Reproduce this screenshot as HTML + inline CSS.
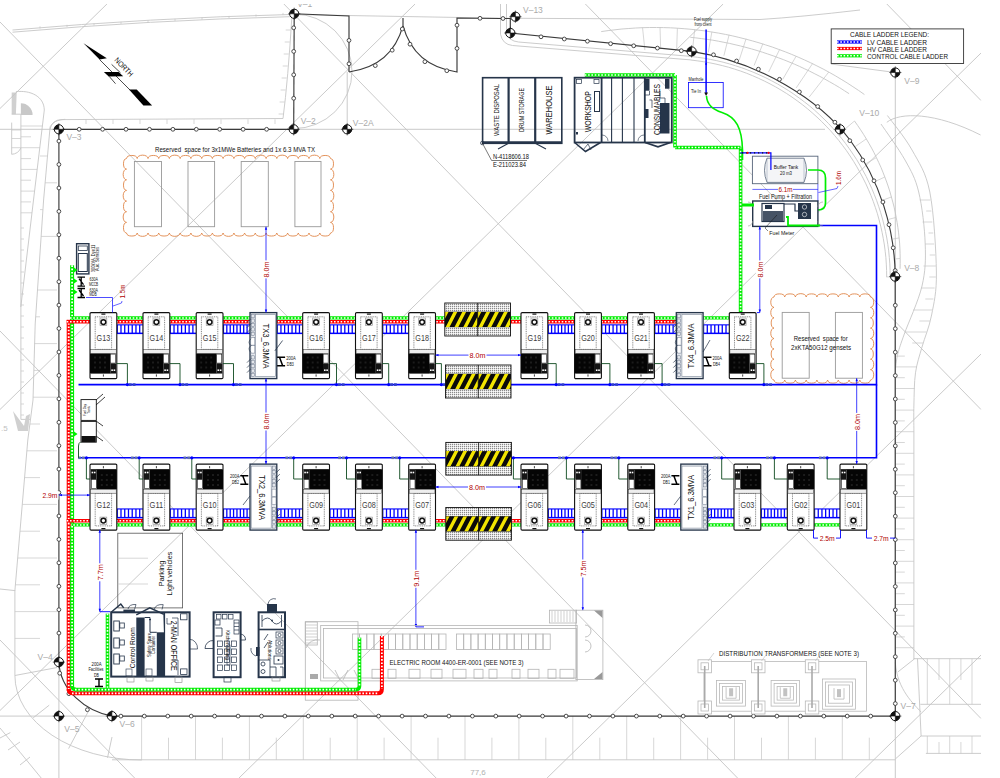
<!DOCTYPE html>
<html><head><meta charset="utf-8"><style>
html,body{margin:0;padding:0;background:#fff;width:1000px;height:778px;overflow:hidden}
svg{display:block}
text{font-family:"Liberation Sans",sans-serif}
</style></head><body>
<svg width="1000" height="778" viewBox="0 0 1000 778">
<rect width="1000" height="778" fill="#fff"/>
<path d="M12.5 30 Q150 18 290 14.5 L500 18.2 L760 19.5 Q800 17 860 10" fill="none" stroke="#c6c6c6" stroke-width="0.9"/>
<path d="M12.5 32.2 Q150 20.2 290 16.7" fill="none" stroke="#c6c6c6" stroke-width="0.9"/>
<line x1="40" y1="28.5" x2="40" y2="26.3" stroke="#c6c6c6" stroke-width="0.7"/>
<line x1="67" y1="27.0" x2="67" y2="24.8" stroke="#c6c6c6" stroke-width="0.7"/>
<line x1="94" y1="25.5" x2="94" y2="23.3" stroke="#c6c6c6" stroke-width="0.7"/>
<line x1="121" y1="24.0" x2="121" y2="21.8" stroke="#c6c6c6" stroke-width="0.7"/>
<line x1="148" y1="22.5" x2="148" y2="20.3" stroke="#c6c6c6" stroke-width="0.7"/>
<line x1="175" y1="21.1" x2="175" y2="18.9" stroke="#c6c6c6" stroke-width="0.7"/>
<line x1="202" y1="19.6" x2="202" y2="17.4" stroke="#c6c6c6" stroke-width="0.7"/>
<line x1="229" y1="18.1" x2="229" y2="15.9" stroke="#c6c6c6" stroke-width="0.7"/>
<line x1="256" y1="16.6" x2="256" y2="14.4" stroke="#c6c6c6" stroke-width="0.7"/>
<line x1="283" y1="15.1" x2="283" y2="12.9" stroke="#c6c6c6" stroke-width="0.7"/>
<path d="M50 129.3 Q52 119.6 62 119.6 L283 118.5 Q288 80 292 15" fill="none" stroke="#c6c6c6" stroke-width="0.9"/>
<line x1="86" y1="119.3" x2="86" y2="124" stroke="#c6c6c6" stroke-width="0.7"/>
<line x1="113" y1="119.3" x2="113" y2="124" stroke="#c6c6c6" stroke-width="0.7"/>
<line x1="140" y1="119.3" x2="140" y2="124" stroke="#c6c6c6" stroke-width="0.7"/>
<line x1="167" y1="119.3" x2="167" y2="124" stroke="#c6c6c6" stroke-width="0.7"/>
<line x1="194" y1="119.3" x2="194" y2="124" stroke="#c6c6c6" stroke-width="0.7"/>
<line x1="221" y1="119.3" x2="221" y2="124" stroke="#c6c6c6" stroke-width="0.7"/>
<line x1="248" y1="119.3" x2="248" y2="124" stroke="#c6c6c6" stroke-width="0.7"/>
<line x1="275" y1="119.3" x2="275" y2="124" stroke="#c6c6c6" stroke-width="0.7"/>
<line x1="290.7" y1="30" x2="285.7" y2="30" stroke="#c6c6c6" stroke-width="0.7"/>
<line x1="289.7" y1="42" x2="284.7" y2="42" stroke="#c6c6c6" stroke-width="0.7"/>
<line x1="288.7" y1="54" x2="283.7" y2="54" stroke="#c6c6c6" stroke-width="0.7"/>
<line x1="287.7" y1="66" x2="282.7" y2="66" stroke="#c6c6c6" stroke-width="0.7"/>
<line x1="286.6" y1="78" x2="281.6" y2="78" stroke="#c6c6c6" stroke-width="0.7"/>
<line x1="285.6" y1="90" x2="280.6" y2="90" stroke="#c6c6c6" stroke-width="0.7"/>
<line x1="284.6" y1="102" x2="279.6" y2="102" stroke="#c6c6c6" stroke-width="0.7"/>
<line x1="283.6" y1="114" x2="278.6" y2="114" stroke="#c6c6c6" stroke-width="0.7"/>
<path d="M293.7 14 A58 57 0 0 1 293.7 128.6" fill="none" stroke="#c6c6c6" stroke-width="0.9"/>
<path d="M11.7 114.2 L11.7 92.5 L16.7 92.5 L15.9 114.2 Z" fill="#d0d0d0" stroke="none"/>
<path d="M15.9 91.7 C30 90 44 96 44.3 110 L33.5 200 L20.8 307" fill="none" stroke="#c6c6c6" stroke-width="0.9"/>
<path d="M11.7 114.2 L20.9 114.2 L20.9 419.4 L30 419.4" fill="none" stroke="#c6c6c6" stroke-width="0.9"/>
<path d="M20.9 115 L32.6 115 A11.7 11.7 0 0 0 20.9 103.3 Z" fill="#c8c8c8" stroke="none"/>
<path d="M11.7 122.6 L11.7 154.3 Q18 154 20.9 148" fill="none" stroke="#c6c6c6" stroke-width="0.9"/>
<line x1="11.7" y1="130" x2="20.9" y2="130" stroke="#c6c6c6" stroke-width="0.7"/>
<line x1="11.7" y1="138.5" x2="20.9" y2="138.5" stroke="#c6c6c6" stroke-width="0.7"/>
<line x1="11.7" y1="147.7" x2="20.9" y2="147.7" stroke="#c6c6c6" stroke-width="0.7"/>
<line x1="20.9" y1="126.0" x2="42.4" y2="126.0" stroke="#c6c6c6" stroke-width="0.7"/>
<line x1="20.9" y1="136.8" x2="31.0" y2="136.8" stroke="#c6c6c6" stroke-width="0.7"/>
<line x1="20.9" y1="147.7" x2="39.8" y2="147.7" stroke="#c6c6c6" stroke-width="0.7"/>
<line x1="20.9" y1="158.6" x2="31.0" y2="158.6" stroke="#c6c6c6" stroke-width="0.7"/>
<line x1="20.9" y1="169.4" x2="37.2" y2="169.4" stroke="#c6c6c6" stroke-width="0.7"/>
<line x1="20.9" y1="180.2" x2="31.0" y2="180.2" stroke="#c6c6c6" stroke-width="0.7"/>
<line x1="20.9" y1="191.1" x2="34.6" y2="191.1" stroke="#c6c6c6" stroke-width="0.7"/>
<line x1="20.9" y1="201.9" x2="31.0" y2="201.9" stroke="#c6c6c6" stroke-width="0.7"/>
<line x1="20.9" y1="212.8" x2="32.0" y2="212.8" stroke="#c6c6c6" stroke-width="0.7"/>
<line x1="20.9" y1="228" x2="24" y2="228" stroke="#c6c6c6" stroke-width="0.7"/>
<line x1="20.9" y1="239" x2="24" y2="239" stroke="#c6c6c6" stroke-width="0.7"/>
<line x1="20.9" y1="250" x2="24" y2="250" stroke="#c6c6c6" stroke-width="0.7"/>
<line x1="20.9" y1="261" x2="24" y2="261" stroke="#c6c6c6" stroke-width="0.7"/>
<line x1="20.9" y1="272" x2="24" y2="272" stroke="#c6c6c6" stroke-width="0.7"/>
<line x1="20.9" y1="283" x2="24" y2="283" stroke="#c6c6c6" stroke-width="0.7"/>
<line x1="20.9" y1="294" x2="24" y2="294" stroke="#c6c6c6" stroke-width="0.7"/>
<line x1="20.9" y1="305" x2="24" y2="305" stroke="#c6c6c6" stroke-width="0.7"/>
<line x1="20.9" y1="316" x2="24" y2="316" stroke="#c6c6c6" stroke-width="0.7"/>
<line x1="20.9" y1="327" x2="24" y2="327" stroke="#c6c6c6" stroke-width="0.7"/>
<line x1="20.9" y1="338" x2="24" y2="338" stroke="#c6c6c6" stroke-width="0.7"/>
<line x1="20.9" y1="349" x2="24" y2="349" stroke="#c6c6c6" stroke-width="0.7"/>
<line x1="20.9" y1="360" x2="24" y2="360" stroke="#c6c6c6" stroke-width="0.7"/>
<line x1="20.9" y1="371" x2="24" y2="371" stroke="#c6c6c6" stroke-width="0.7"/>
<line x1="20.9" y1="382" x2="24" y2="382" stroke="#c6c6c6" stroke-width="0.7"/>
<line x1="20.9" y1="393" x2="24" y2="393" stroke="#c6c6c6" stroke-width="0.7"/>
<line x1="20.9" y1="404" x2="24" y2="404" stroke="#c6c6c6" stroke-width="0.7"/>
<line x1="20.9" y1="415" x2="24" y2="415" stroke="#c6c6c6" stroke-width="0.7"/>
<path d="M50.1 126.8 Q54 119.6 65.2 119.3" fill="none" stroke="#c6c6c6" stroke-width="0.9"/>
<path d="M50.1 126.8 L43.6 200 L35.2 324 L33 400 L27.8 440 L14.9 590.6 L0 589" fill="none" stroke="#c6c6c6" stroke-width="0.9"/>
<line x1="47.5" y1="156.0" x2="40.0" y2="156.0" stroke="#c6c6c6" stroke-width="0.7"/>
<line x1="45.1" y1="182.8" x2="57.0" y2="182.8" stroke="#c6c6c6" stroke-width="0.7"/>
<line x1="42.9" y1="209.6" x2="40.0" y2="209.6" stroke="#c6c6c6" stroke-width="0.7"/>
<line x1="41.1" y1="236.4" x2="57.0" y2="236.4" stroke="#c6c6c6" stroke-width="0.7"/>
<line x1="39.3" y1="263.2" x2="40.0" y2="263.2" stroke="#c6c6c6" stroke-width="0.7"/>
<line x1="37.5" y1="290.0" x2="57.0" y2="290.0" stroke="#c6c6c6" stroke-width="0.7"/>
<line x1="35.7" y1="316.8" x2="40.0" y2="316.8" stroke="#c6c6c6" stroke-width="0.7"/>
<line x1="34.6" y1="343.6" x2="57.0" y2="343.6" stroke="#c6c6c6" stroke-width="0.7"/>
<line x1="33.9" y1="370.4" x2="40.0" y2="370.4" stroke="#c6c6c6" stroke-width="0.7"/>
<line x1="33.1" y1="397.2" x2="57.0" y2="397.2" stroke="#c6c6c6" stroke-width="0.7"/>
<line x1="29.9" y1="424.0" x2="40.0" y2="424.0" stroke="#c6c6c6" stroke-width="0.7"/>
<line x1="26.9" y1="450.8" x2="57.0" y2="450.8" stroke="#c6c6c6" stroke-width="0.7"/>
<line x1="24.6" y1="477.6" x2="40.0" y2="477.6" stroke="#c6c6c6" stroke-width="0.7"/>
<line x1="22.3" y1="504.4" x2="57.0" y2="504.4" stroke="#c6c6c6" stroke-width="0.7"/>
<line x1="20.0" y1="531.2" x2="40.0" y2="531.2" stroke="#c6c6c6" stroke-width="0.7"/>
<line x1="17.7" y1="558.0" x2="57.0" y2="558.0" stroke="#c6c6c6" stroke-width="0.7"/>
<line x1="15.4" y1="584.8" x2="40.0" y2="584.8" stroke="#c6c6c6" stroke-width="0.7"/>
<line x1="14.9" y1="611.6" x2="57.0" y2="611.6" stroke="#c6c6c6" stroke-width="0.7"/>
<line x1="14.9" y1="638.4" x2="40.0" y2="638.4" stroke="#c6c6c6" stroke-width="0.7"/>
<path d="M13 411 L18 431 L28 431 L30 414 L26 416 L24 426 Z" fill="#d0d0d0" stroke="none"/>
<text x="1" y="431" font-size="8" fill="#c0c0c0">.5</text>
<path d="M14.9 590 L14.9 675.5 A127 84.5 0 0 0 141.8 760" fill="none" stroke="#c6c6c6" stroke-width="0.9"/>
<path d="M14.9 675.5 L57.2 667.5" fill="none" stroke="#c6c6c6" stroke-width="0.9"/>
<path d="M33.2 717.8 L49.2 705.2 M68.6 748.6 L88 712 M107.5 757.8 L112 737" fill="none" stroke="#c6c6c6" stroke-width="0.9"/>
<path d="M0 728 Q20 752 41.2 778" fill="none" stroke="#c6c6c6" stroke-width="0.9"/>
<path d="M0 738 L10.3 732.6 M8 750 L20 742 M20 765 L30 757" fill="none" stroke="#c6c6c6" stroke-width="0.9"/>
<path d="M112 759.8 L895.3 759.8" fill="none" stroke="#c6c6c6" stroke-width="0.9"/>
<line x1="141.6" y1="716" x2="141.6" y2="759.8" stroke="#c6c6c6" stroke-width="0.7"/>
<line x1="168.5" y1="737.7" x2="168.5" y2="759.8" stroke="#c6c6c6" stroke-width="0.7"/>
<line x1="195.5" y1="716" x2="195.5" y2="759.8" stroke="#c6c6c6" stroke-width="0.7"/>
<line x1="222.4" y1="737.7" x2="222.4" y2="759.8" stroke="#c6c6c6" stroke-width="0.7"/>
<line x1="249.4" y1="716" x2="249.4" y2="759.8" stroke="#c6c6c6" stroke-width="0.7"/>
<line x1="276.3" y1="737.7" x2="276.3" y2="759.8" stroke="#c6c6c6" stroke-width="0.7"/>
<line x1="303.3" y1="716" x2="303.3" y2="759.8" stroke="#c6c6c6" stroke-width="0.7"/>
<line x1="330.2" y1="737.7" x2="330.2" y2="759.8" stroke="#c6c6c6" stroke-width="0.7"/>
<line x1="357.2" y1="716" x2="357.2" y2="759.8" stroke="#c6c6c6" stroke-width="0.7"/>
<line x1="384.1" y1="737.7" x2="384.1" y2="759.8" stroke="#c6c6c6" stroke-width="0.7"/>
<line x1="411.1" y1="716" x2="411.1" y2="759.8" stroke="#c6c6c6" stroke-width="0.7"/>
<line x1="438.0" y1="737.7" x2="438.0" y2="759.8" stroke="#c6c6c6" stroke-width="0.7"/>
<line x1="465.0" y1="716" x2="465.0" y2="759.8" stroke="#c6c6c6" stroke-width="0.7"/>
<line x1="491.9" y1="737.7" x2="491.9" y2="759.8" stroke="#c6c6c6" stroke-width="0.7"/>
<line x1="518.9" y1="716" x2="518.9" y2="759.8" stroke="#c6c6c6" stroke-width="0.7"/>
<line x1="545.8" y1="737.7" x2="545.8" y2="759.8" stroke="#c6c6c6" stroke-width="0.7"/>
<line x1="572.8" y1="716" x2="572.8" y2="759.8" stroke="#c6c6c6" stroke-width="0.7"/>
<line x1="599.8" y1="737.7" x2="599.8" y2="759.8" stroke="#c6c6c6" stroke-width="0.7"/>
<line x1="626.7" y1="716" x2="626.7" y2="759.8" stroke="#c6c6c6" stroke-width="0.7"/>
<line x1="653.7" y1="737.7" x2="653.7" y2="759.8" stroke="#c6c6c6" stroke-width="0.7"/>
<line x1="680.6" y1="716" x2="680.6" y2="759.8" stroke="#c6c6c6" stroke-width="0.7"/>
<line x1="707.6" y1="737.7" x2="707.6" y2="759.8" stroke="#c6c6c6" stroke-width="0.7"/>
<line x1="734.5" y1="716" x2="734.5" y2="759.8" stroke="#c6c6c6" stroke-width="0.7"/>
<line x1="761.5" y1="737.7" x2="761.5" y2="759.8" stroke="#c6c6c6" stroke-width="0.7"/>
<line x1="788.4" y1="716" x2="788.4" y2="759.8" stroke="#c6c6c6" stroke-width="0.7"/>
<line x1="815.4" y1="737.7" x2="815.4" y2="759.8" stroke="#c6c6c6" stroke-width="0.7"/>
<line x1="842.3" y1="716" x2="842.3" y2="759.8" stroke="#c6c6c6" stroke-width="0.7"/>
<line x1="869.3" y1="737.7" x2="869.3" y2="759.8" stroke="#c6c6c6" stroke-width="0.7"/>
<text x="478" y="775" font-size="8" fill="#b0b0b0" text-anchor="middle">77,6</text>
<path d="M506.5 4 L506.5 32.5 Q508.5 41.0 518.5 42.0 L691.1 56.4 L691.1 56.5 L697.6 57.3 L704.0 58.2 L710.4 59.4 L716.8 60.7 L723.1 62.2 L729.4 63.9 L735.6 65.8 L741.8 67.8 L747.9 70.1 L754.0 72.5 L759.9 75.1 L765.8 77.8 L771.6 80.8 L777.4 83.9 L783.0 87.2 L788.5 90.6 L793.9 94.2 L799.2 98.0 L804.4 101.9 L809.5 105.9 L814.5 110.1 L819.3 114.5 L824.0 119.0 L828.6 123.6 L833.0 128.4 L837.3 133.3 L841.5 138.3 L845.5 143.4 L849.3 148.7 L853.0 154.1 L856.6 159.5 L859.9 165.1 L863.1 170.8 L866.2 176.5 L869.0 182.4 L871.7 188.3 L874.2 194.3 L876.6 200.4 L878.7 206.5 L880.7 212.7 L882.5 219.0 L884.1 225.3 L885.5 231.6 L886.8 238.0 L887.8 244.5 L888.7 250.9 L889.3 257.4 L889.8 263.9 L890.1 270.4 L890.2 276.9" fill="none" stroke="#c6c6c6" stroke-width="0.9"/>
<path d="M500.5 4 L500.5 34.2 Q502.5 44.5 512.5 45.5 L690.8 59.9 L690.7 60.0 L697.1 60.8 L703.4 61.7 L709.7 62.8 L716.0 64.1 L722.3 65.6 L728.4 67.2 L734.6 69.1 L740.7 71.1 L746.7 73.3 L752.6 75.7 L758.5 78.3 L764.3 81.0 L770.0 83.9 L775.6 86.9 L781.2 90.2 L786.6 93.5 L792.0 97.1 L797.2 100.8 L802.3 104.6 L807.3 108.6 L812.2 112.8 L817.0 117.1 L821.6 121.5 L826.1 126.1 L830.5 130.7 L834.7 135.6 L838.8 140.5 L842.7 145.6 L846.5 150.7 L850.1 156.0 L853.6 161.4 L856.9 166.9 L860.0 172.5 L863.0 178.1 L865.9 183.9 L868.5 189.7 L871.0 195.6 L873.3 201.6 L875.4 207.6 L877.4 213.7 L879.1 219.9 L880.7 226.1 L882.1 232.4 L883.3 238.7 L884.4 245.0 L885.2 251.3 L885.9 257.7 L886.3 264.1 L886.6 270.5 L886.7 276.9" fill="none" stroke="#c6c6c6" stroke-width="0.9"/>
<line x1="886.2" y1="276.9" x2="892.2" y2="276.9" stroke="#c6c6c6" stroke-width="0.7"/>
<path d="M601.2 31.6 L608.1 30.6 L615.0 29.8 L621.9 29.0 L628.8 28.5 L635.7 28.0 L642.6 27.7 L649.6 27.5 L656.5 27.5 L663.4 27.6 L670.4 27.8 L677.3 28.2 L684.2 28.7 L691.1 29.3 L698.0 30.1 L704.9 30.9 L711.7 32.0 L718.6 33.1 L725.4 34.4 L732.2 35.8 L738.9 37.4 L745.7 39.1 L752.4 40.9 L759.0 42.8 L765.6 44.9 L772.2 47.0 L778.7 49.4 L785.2 51.8 L791.7 54.4 L798.1 57.1 L804.4 59.9 L810.7 62.8 L816.9 65.9 L823.1 69.0 L829.2 72.3 L835.2 75.7 L841.2 79.3 L847.1 82.9 L852.9 86.7 L858.7 90.5 L864.4 94.5" fill="none" stroke="#c6c6c6" stroke-width="0.9"/>
<path d="M690.3 37.3 L695.9 37.9 L701.5 38.6 L707.2 39.4 L712.8 40.2 L718.4 41.2 L723.9 42.3 L729.5 43.4 L735.0 44.7 L740.6 46.0 L746.0 47.4 L751.5 48.9 L757.0 50.5 L762.4 52.2 L767.8 54.0 L773.1 55.8 L778.5 57.8 L783.8 59.8 L789.0 61.9 L794.3 64.1 L799.5 66.4 L804.6 68.8 L809.7 71.2 L814.8 73.8 L819.9 76.4 L824.8 79.1 L829.8 81.9 L834.7 84.7 L839.6 87.6 L844.4 90.7 L849.1 93.7" fill="none" stroke="#c6c6c6" stroke-width="0.9"/>
<line x1="644.9" y1="50.1" x2="642.5" y2="27.3" stroke="#c6c6c6" stroke-width="0.7"/>
<line x1="660.7" y1="49.0" x2="660.0" y2="27.1" stroke="#c6c6c6" stroke-width="0.7"/>
<line x1="676.7" y1="49.0" x2="677.4" y2="28.1" stroke="#c6c6c6" stroke-width="0.7"/>
<line x1="692.5" y1="50.1" x2="694.7" y2="29.3" stroke="#c6c6c6" stroke-width="0.7"/>
<line x1="708.3" y1="52.4" x2="711.9" y2="31.7" stroke="#c6c6c6" stroke-width="0.7"/>
<line x1="723.9" y1="55.7" x2="729.1" y2="34.8" stroke="#c6c6c6" stroke-width="0.7"/>
<line x1="739.2" y1="60.1" x2="746.1" y2="38.7" stroke="#c6c6c6" stroke-width="0.7"/>
<line x1="754.1" y1="65.5" x2="762.9" y2="43.7" stroke="#c6c6c6" stroke-width="0.7"/>
<line x1="768.6" y1="72.0" x2="779.6" y2="49.5" stroke="#c6c6c6" stroke-width="0.7"/>
<line x1="782.7" y1="79.4" x2="796.2" y2="56.1" stroke="#c6c6c6" stroke-width="0.7"/>
<line x1="796.2" y1="87.9" x2="812.7" y2="63.4" stroke="#c6c6c6" stroke-width="0.7"/>
<line x1="809.1" y1="97.2" x2="828.8" y2="72.0" stroke="#c6c6c6" stroke-width="0.7"/>
<path d="M854.5 121.0 L857.6 125.4 L860.6 129.8 L863.5 134.3 L866.3 138.9 L869.0 143.5 L871.6 148.1 L874.1 152.8 L876.4 157.6 L878.7 162.4 L880.9 167.2 L882.9 172.1 L884.8 177.0 L886.7 182.0 L888.4 187.0 L890.0 192.0 L891.4 197.0 L892.8 202.1 L894.1 207.1 L895.2 212.2 L896.2 217.4 L897.1 222.5 L897.9 227.6 L898.6 232.8 L899.1 237.9 L899.6 243.1 L899.9 248.2 L900.1 253.4 L900.2 258.5 L900.2 263.7 L900.1 268.8" fill="none" stroke="#c6c6c6" stroke-width="0.9"/>
<line x1="843.0" y1="130.7" x2="854.5" y2="121.0" stroke="#c6c6c6" stroke-width="0.7"/>
<line x1="855.2" y1="146.6" x2="866.3" y2="138.9" stroke="#c6c6c6" stroke-width="0.7"/>
<line x1="866.0" y1="163.6" x2="876.4" y2="157.6" stroke="#c6c6c6" stroke-width="0.7"/>
<line x1="875.2" y1="181.5" x2="884.8" y2="177.0" stroke="#c6c6c6" stroke-width="0.7"/>
<line x1="882.8" y1="200.1" x2="891.4" y2="197.0" stroke="#c6c6c6" stroke-width="0.7"/>
<line x1="888.8" y1="219.3" x2="896.2" y2="217.4" stroke="#c6c6c6" stroke-width="0.7"/>
<line x1="893.0" y1="239.0" x2="899.1" y2="237.9" stroke="#c6c6c6" stroke-width="0.7"/>
<line x1="895.5" y1="258.9" x2="900.2" y2="258.5" stroke="#c6c6c6" stroke-width="0.7"/>
<line x1="831" y1="64" x2="895.3" y2="72.5" fill="none" stroke="#c6c6c6" stroke-width="0.9"/>
<path d="M886.8 122.3 C900 112 935 112 980.6 135" fill="none" stroke="#c6c6c6" stroke-width="0.9"/>
<path d="M887.4 115.5 C891.5 121.2 904.9 137.2 912.0 150.0 C919.1 162.8 925.7 171.7 929.8 192.0 C933.9 212.3 936.1 251.5 936.4 272.0 C936.7 292.5 934.0 302.5 931.6 315.0 C929.2 327.5 924.7 337.4 922.0 347.0 C919.3 356.6 916.9 363.1 915.5 372.8 C914.1 382.5 914.2 395.5 913.9 405.0 C913.6 414.5 913.9 425.8 913.9 430.0 L913.9 658.7" fill="none" stroke="#c6c6c6" stroke-width="0.9"/>
<path d="M881.0 124.0 C885.0 130.0 898.7 148.7 905.0 160.0 C911.3 171.3 915.3 178.0 918.7 192.0 C922.1 206.0 924.7 228.3 925.2 244.0 C925.8 259.7 925.5 271.0 922.0 286.0 C918.5 301.0 908.3 322.8 904.3 334.0 C900.3 345.2 899.4 347.8 897.9 353.5 C896.4 359.2 895.9 365.6 895.5 368.0" fill="none" stroke="#c6c6c6" stroke-width="0.9"/>
<line x1="930.5" y1="200" x2="919.7" y2="200" stroke="#c6c6c6" stroke-width="0.7"/>
<line x1="931.4" y1="211" x2="926.2" y2="211" stroke="#c6c6c6" stroke-width="0.7"/>
<line x1="932.3" y1="222" x2="922.5" y2="222" stroke="#c6c6c6" stroke-width="0.7"/>
<line x1="933.2" y1="233" x2="928.5" y2="233" stroke="#c6c6c6" stroke-width="0.7"/>
<line x1="934.1" y1="244" x2="925.2" y2="244" stroke="#c6c6c6" stroke-width="0.7"/>
<line x1="935.0" y1="255" x2="929.7" y2="255" stroke="#c6c6c6" stroke-width="0.7"/>
<line x1="935.9" y1="266" x2="923.5" y2="266" stroke="#c6c6c6" stroke-width="0.7"/>
<line x1="935.8" y1="277" x2="929.3" y2="277" stroke="#c6c6c6" stroke-width="0.7"/>
<line x1="934.6" y1="288" x2="921.3" y2="288" stroke="#c6c6c6" stroke-width="0.7"/>
<line x1="933.4" y1="299" x2="925.3" y2="299" stroke="#c6c6c6" stroke-width="0.7"/>
<line x1="932.2" y1="310" x2="913.1" y2="310" stroke="#c6c6c6" stroke-width="0.7"/>
<line x1="929.8" y1="321" x2="919.4" y2="321" stroke="#c6c6c6" stroke-width="0.7"/>
<line x1="926.5" y1="332" x2="905.0" y2="332" stroke="#c6c6c6" stroke-width="0.7"/>
<line x1="923.2" y1="343" x2="912.3" y2="343" stroke="#c6c6c6" stroke-width="0.7"/>
<line x1="895.3" y1="356.1" x2="904.8" y2="356.1" stroke="#c6c6c6" stroke-width="0.7"/>
<line x1="895.3" y1="366.9" x2="917.0" y2="366.9" stroke="#c6c6c6" stroke-width="0.7"/>
<line x1="895.3" y1="377.7" x2="904.8" y2="377.7" stroke="#c6c6c6" stroke-width="0.7"/>
<line x1="895.3" y1="388.5" x2="914.7" y2="388.5" stroke="#c6c6c6" stroke-width="0.7"/>
<line x1="895.3" y1="399.3" x2="904.8" y2="399.3" stroke="#c6c6c6" stroke-width="0.7"/>
<line x1="895.3" y1="410.1" x2="913.9" y2="410.1" stroke="#c6c6c6" stroke-width="0.7"/>
<line x1="895.3" y1="420.9" x2="904.8" y2="420.9" stroke="#c6c6c6" stroke-width="0.7"/>
<line x1="895.3" y1="431.7" x2="913.9" y2="431.7" stroke="#c6c6c6" stroke-width="0.7"/>
<line x1="895.3" y1="442.5" x2="904.8" y2="442.5" stroke="#c6c6c6" stroke-width="0.7"/>
<line x1="895.3" y1="453.3" x2="913.9" y2="453.3" stroke="#c6c6c6" stroke-width="0.7"/>
<line x1="895.3" y1="464.1" x2="904.8" y2="464.1" stroke="#c6c6c6" stroke-width="0.7"/>
<line x1="895.3" y1="474.9" x2="913.9" y2="474.9" stroke="#c6c6c6" stroke-width="0.7"/>
<line x1="895.3" y1="485.7" x2="904.8" y2="485.7" stroke="#c6c6c6" stroke-width="0.7"/>
<line x1="895.3" y1="496.5" x2="913.9" y2="496.5" stroke="#c6c6c6" stroke-width="0.7"/>
<line x1="895.3" y1="507.3" x2="904.8" y2="507.3" stroke="#c6c6c6" stroke-width="0.7"/>
<line x1="895.3" y1="518.1" x2="913.9" y2="518.1" stroke="#c6c6c6" stroke-width="0.7"/>
<line x1="895.3" y1="528.9" x2="904.8" y2="528.9" stroke="#c6c6c6" stroke-width="0.7"/>
<line x1="895.3" y1="539.7" x2="913.9" y2="539.7" stroke="#c6c6c6" stroke-width="0.7"/>
<line x1="895.3" y1="550.5" x2="904.8" y2="550.5" stroke="#c6c6c6" stroke-width="0.7"/>
<line x1="895.3" y1="561.3" x2="913.9" y2="561.3" stroke="#c6c6c6" stroke-width="0.7"/>
<line x1="895.3" y1="572.1" x2="904.8" y2="572.1" stroke="#c6c6c6" stroke-width="0.7"/>
<line x1="895.3" y1="582.9" x2="913.9" y2="582.9" stroke="#c6c6c6" stroke-width="0.7"/>
<line x1="895.3" y1="593.7" x2="904.8" y2="593.7" stroke="#c6c6c6" stroke-width="0.7"/>
<line x1="895.3" y1="604.5" x2="913.9" y2="604.5" stroke="#c6c6c6" stroke-width="0.7"/>
<line x1="895.3" y1="615.3" x2="904.8" y2="615.3" stroke="#c6c6c6" stroke-width="0.7"/>
<line x1="895.3" y1="626.1" x2="913.9" y2="626.1" stroke="#c6c6c6" stroke-width="0.7"/>
<line x1="895.3" y1="636.9" x2="904.8" y2="636.9" stroke="#c6c6c6" stroke-width="0.7"/>
<line x1="895.3" y1="647.7" x2="913.9" y2="647.7" stroke="#c6c6c6" stroke-width="0.7"/>
<path d="M913.5 658.7 L981 658.7 M920.3 704.3 L981 704.3 M921 736 L981 736 M925.9 753.4 L981 753.4 M917.5 658.7 L921.1 736 L895.3 759 M914.7 658.7 L897.8 672 M895.3 662.3 C897 690 915 705 921 712" fill="none" stroke="#c6c6c6" stroke-width="0.9"/>
<line x1="927.3" y1="658.7" x2="927.3" y2="704.3" stroke="#c6c6c6" stroke-width="0.7"/>
<line x1="927.3" y1="736" x2="927.3" y2="753.4" stroke="#c6c6c6" stroke-width="0.7"/>
<line x1="939" y1="658.7" x2="939" y2="680" stroke="#c6c6c6" stroke-width="0.7"/>
<line x1="939" y1="742" x2="939" y2="753.4" stroke="#c6c6c6" stroke-width="0.7"/>
<line x1="949.7" y1="658.7" x2="949.7" y2="704.3" stroke="#c6c6c6" stroke-width="0.7"/>
<line x1="949.7" y1="736" x2="949.7" y2="753.4" stroke="#c6c6c6" stroke-width="0.7"/>
<line x1="960.9" y1="658.7" x2="960.9" y2="680" stroke="#c6c6c6" stroke-width="0.7"/>
<line x1="960.9" y1="742" x2="960.9" y2="753.4" stroke="#c6c6c6" stroke-width="0.7"/>
<line x1="972" y1="658.7" x2="972" y2="704.3" stroke="#c6c6c6" stroke-width="0.7"/>
<line x1="972" y1="736" x2="972" y2="753.4" stroke="#c6c6c6" stroke-width="0.7"/>
<line x1="886.83" y1="4" x2="981" y2="100.52" stroke="#c4c4c4" stroke-width="0.9"/>
<line x1="585.37" y1="4" x2="981" y2="409.52" stroke="#c4c4c4" stroke-width="0.9"/>
<line x1="283.9" y1="4" x2="981" y2="718.52" stroke="#c4c4c4" stroke-width="0.9"/>
<line x1="0" y1="22.0" x2="737.56" y2="778" stroke="#c4c4c4" stroke-width="0.9"/>
<line x1="0" y1="331.0" x2="436.1" y2="778" stroke="#c4c4c4" stroke-width="0.9"/>
<line x1="0" y1="640.0" x2="134.63" y2="778" stroke="#c4c4c4" stroke-width="0.9"/>
<line x1="0" y1="108.5" x2="106.96" y2="4" stroke="#c4c4c4" stroke-width="0.9"/>
<line x1="0" y1="409.5" x2="415.05" y2="4" stroke="#c4c4c4" stroke-width="0.9"/>
<line x1="0" y1="710.5" x2="723.13" y2="4" stroke="#c4c4c4" stroke-width="0.9"/>
<line x1="239.0" y1="778" x2="981" y2="53.06" stroke="#c4c4c4" stroke-width="0.9"/>
<line x1="547.08" y1="778" x2="981" y2="354.06" stroke="#c4c4c4" stroke-width="0.9"/>
<line x1="855.17" y1="778" x2="981" y2="655.06" stroke="#c4c4c4" stroke-width="0.9"/>
<line x1="0" y1="129.3" x2="825" y2="129.3" stroke="#c4c4c4" stroke-width="0.9"/>
<line x1="347.2" y1="72" x2="347.2" y2="129.3" stroke="#c4c4c4" stroke-width="0.9"/>
<line x1="895.3" y1="72.5" x2="895.3" y2="778" stroke="#c4c4c4" stroke-width="0.9"/>
<line x1="58.9" y1="662" x2="58.9" y2="778" stroke="#c4c4c4" stroke-width="0.9"/>
<line x1="0" y1="716.1" x2="112" y2="716.1" stroke="#c4c4c4" stroke-width="0.9"/>
<path d="M58.9 129.3 L58.9 662.1" fill="none" stroke="#3a3a3a" stroke-width="1.15"/>
<circle cx="58.9" cy="141.1" r="1.9" fill="#fff" stroke="#3a3a3a" stroke-width="0.9"/>
<circle cx="58.9" cy="164.5" r="1.9" fill="#fff" stroke="#3a3a3a" stroke-width="0.9"/>
<circle cx="58.9" cy="188.0" r="1.9" fill="#fff" stroke="#3a3a3a" stroke-width="0.9"/>
<circle cx="58.9" cy="211.4" r="1.9" fill="#fff" stroke="#3a3a3a" stroke-width="0.9"/>
<circle cx="58.9" cy="234.8" r="1.9" fill="#fff" stroke="#3a3a3a" stroke-width="0.9"/>
<circle cx="58.9" cy="258.2" r="1.9" fill="#fff" stroke="#3a3a3a" stroke-width="0.9"/>
<circle cx="58.9" cy="281.7" r="1.9" fill="#fff" stroke="#3a3a3a" stroke-width="0.9"/>
<circle cx="58.9" cy="305.1" r="1.9" fill="#fff" stroke="#3a3a3a" stroke-width="0.9"/>
<circle cx="58.9" cy="328.5" r="1.9" fill="#fff" stroke="#3a3a3a" stroke-width="0.9"/>
<circle cx="58.9" cy="352.0" r="1.9" fill="#fff" stroke="#3a3a3a" stroke-width="0.9"/>
<circle cx="58.9" cy="375.4" r="1.9" fill="#fff" stroke="#3a3a3a" stroke-width="0.9"/>
<circle cx="58.9" cy="398.8" r="1.9" fill="#fff" stroke="#3a3a3a" stroke-width="0.9"/>
<circle cx="58.9" cy="422.3" r="1.9" fill="#fff" stroke="#3a3a3a" stroke-width="0.9"/>
<circle cx="58.9" cy="445.7" r="1.9" fill="#fff" stroke="#3a3a3a" stroke-width="0.9"/>
<circle cx="58.9" cy="469.1" r="1.9" fill="#fff" stroke="#3a3a3a" stroke-width="0.9"/>
<circle cx="58.9" cy="492.6" r="1.9" fill="#fff" stroke="#3a3a3a" stroke-width="0.9"/>
<circle cx="58.9" cy="516.0" r="1.9" fill="#fff" stroke="#3a3a3a" stroke-width="0.9"/>
<circle cx="58.9" cy="539.4" r="1.9" fill="#fff" stroke="#3a3a3a" stroke-width="0.9"/>
<circle cx="58.9" cy="562.8" r="1.9" fill="#fff" stroke="#3a3a3a" stroke-width="0.9"/>
<circle cx="58.9" cy="586.3" r="1.9" fill="#fff" stroke="#3a3a3a" stroke-width="0.9"/>
<circle cx="58.9" cy="609.7" r="1.9" fill="#fff" stroke="#3a3a3a" stroke-width="0.9"/>
<circle cx="58.9" cy="633.1" r="1.9" fill="#fff" stroke="#3a3a3a" stroke-width="0.9"/>
<path d="M58.9 129.3 L293.7 129.3" fill="none" stroke="#3a3a3a" stroke-width="1.15"/>
<circle cx="79.2" cy="129.3" r="1.9" fill="#fff" stroke="#3a3a3a" stroke-width="0.9"/>
<circle cx="102.6" cy="129.3" r="1.9" fill="#fff" stroke="#3a3a3a" stroke-width="0.9"/>
<circle cx="126.0" cy="129.3" r="1.9" fill="#fff" stroke="#3a3a3a" stroke-width="0.9"/>
<circle cx="149.5" cy="129.3" r="1.9" fill="#fff" stroke="#3a3a3a" stroke-width="0.9"/>
<circle cx="172.9" cy="129.3" r="1.9" fill="#fff" stroke="#3a3a3a" stroke-width="0.9"/>
<circle cx="196.3" cy="129.3" r="1.9" fill="#fff" stroke="#3a3a3a" stroke-width="0.9"/>
<circle cx="219.7" cy="129.3" r="1.9" fill="#fff" stroke="#3a3a3a" stroke-width="0.9"/>
<circle cx="243.1" cy="129.3" r="1.9" fill="#fff" stroke="#3a3a3a" stroke-width="0.9"/>
<circle cx="266.6" cy="129.3" r="1.9" fill="#fff" stroke="#3a3a3a" stroke-width="0.9"/>
<path d="M293.7 129.3 L294.2 13.8" fill="none" stroke="#3a3a3a" stroke-width="1.15"/>
<circle cx="293.7" cy="27.8" r="1.9" fill="#fff" stroke="#3a3a3a" stroke-width="0.9"/>
<circle cx="293.7" cy="51.4" r="1.9" fill="#fff" stroke="#3a3a3a" stroke-width="0.9"/>
<circle cx="293.7" cy="74.8" r="1.9" fill="#fff" stroke="#3a3a3a" stroke-width="0.9"/>
<circle cx="293.7" cy="98.3" r="1.9" fill="#fff" stroke="#3a3a3a" stroke-width="0.9"/>
<path d="M294.2 13.8 L349.0 16.0 L349.0 72.0" fill="none" stroke="#3a3a3a" stroke-width="1.15"/>
<circle cx="349.0" cy="40.4" r="1.9" fill="#fff" stroke="#3a3a3a" stroke-width="0.9"/>
<circle cx="349.0" cy="63.8" r="1.9" fill="#fff" stroke="#3a3a3a" stroke-width="0.9"/>
<path d="M349 72 Q392 66 403 25.7 L403 18 M403 25.7 Q414 66 457 72 L457 18 L500 18.5 L510.3 18.5 L510.3 33 L691.6 51.4" fill="none" stroke="#3a3a3a" stroke-width="1.15"/>
<circle cx="375.3" cy="65.6" r="1.9" fill="#fff" stroke="#3a3a3a" stroke-width="0.9"/>
<circle cx="392.2" cy="50.2" r="1.9" fill="#fff" stroke="#3a3a3a" stroke-width="0.9"/>
<circle cx="402.3" cy="29.0" r="1.9" fill="#fff" stroke="#3a3a3a" stroke-width="0.9"/>
<circle cx="410.0" cy="44.2" r="1.9" fill="#fff" stroke="#3a3a3a" stroke-width="0.9"/>
<circle cx="424.9" cy="61.7" r="1.9" fill="#fff" stroke="#3a3a3a" stroke-width="0.9"/>
<circle cx="446.8" cy="70.7" r="1.9" fill="#fff" stroke="#3a3a3a" stroke-width="0.9"/>
<circle cx="457.0" cy="48.4" r="1.9" fill="#fff" stroke="#3a3a3a" stroke-width="0.9"/>
<circle cx="457.0" cy="25.2" r="1.9" fill="#fff" stroke="#3a3a3a" stroke-width="0.9"/>
<circle cx="480.0" cy="18.3" r="1.9" fill="#fff" stroke="#3a3a3a" stroke-width="0.9"/>
<circle cx="503.0" cy="18.5" r="1.9" fill="#fff" stroke="#3a3a3a" stroke-width="0.9"/>
<circle cx="541.0" cy="36.8" r="1.9" fill="#fff" stroke="#3a3a3a" stroke-width="0.9"/>
<circle cx="564.3" cy="39.0" r="1.9" fill="#fff" stroke="#3a3a3a" stroke-width="0.9"/>
<circle cx="587.4" cy="41.2" r="1.9" fill="#fff" stroke="#3a3a3a" stroke-width="0.9"/>
<circle cx="610.6" cy="43.7" r="1.9" fill="#fff" stroke="#3a3a3a" stroke-width="0.9"/>
<circle cx="633.7" cy="45.8" r="1.9" fill="#fff" stroke="#3a3a3a" stroke-width="0.9"/>
<circle cx="657.4" cy="48.1" r="1.9" fill="#fff" stroke="#3a3a3a" stroke-width="0.9"/>
<circle cx="681.3" cy="50.7" r="1.9" fill="#fff" stroke="#3a3a3a" stroke-width="0.9"/>
<path d="M691.6 51.4 C760 62 820 100 850 140 C880 180 895 230 895.2 276.6 L895.3 716.1 L111.9 716.1 C85 711 60 690 58.9 662.1" fill="none" stroke="#3a3a3a" stroke-width="1.15"/>
<circle cx="713.5" cy="54.8" r="1.9" fill="#fff" stroke="#3a3a3a" stroke-width="0.9"/>
<circle cx="736.6" cy="61.0" r="1.9" fill="#fff" stroke="#3a3a3a" stroke-width="0.9"/>
<circle cx="758.4" cy="69.2" r="1.9" fill="#fff" stroke="#3a3a3a" stroke-width="0.9"/>
<circle cx="779.5" cy="79.3" r="1.9" fill="#fff" stroke="#3a3a3a" stroke-width="0.9"/>
<circle cx="799.4" cy="91.9" r="1.9" fill="#fff" stroke="#3a3a3a" stroke-width="0.9"/>
<circle cx="817.7" cy="106.5" r="1.9" fill="#fff" stroke="#3a3a3a" stroke-width="0.9"/>
<circle cx="834.9" cy="122.2" r="1.9" fill="#fff" stroke="#3a3a3a" stroke-width="0.9"/>
<circle cx="849.8" cy="140.7" r="1.9" fill="#fff" stroke="#3a3a3a" stroke-width="0.9"/>
<circle cx="862.7" cy="160.0" r="1.9" fill="#fff" stroke="#3a3a3a" stroke-width="0.9"/>
<circle cx="874.0" cy="180.8" r="1.9" fill="#fff" stroke="#3a3a3a" stroke-width="0.9"/>
<circle cx="882.9" cy="202.0" r="1.9" fill="#fff" stroke="#3a3a3a" stroke-width="0.9"/>
<circle cx="889.0" cy="224.7" r="1.9" fill="#fff" stroke="#3a3a3a" stroke-width="0.9"/>
<circle cx="893.2" cy="247.8" r="1.9" fill="#fff" stroke="#3a3a3a" stroke-width="0.9"/>
<circle cx="895.2" cy="270.6" r="1.9" fill="#fff" stroke="#3a3a3a" stroke-width="0.9"/>
<circle cx="895.3" cy="305.3" r="1.9" fill="#fff" stroke="#3a3a3a" stroke-width="0.9"/>
<circle cx="895.3" cy="328.7" r="1.9" fill="#fff" stroke="#3a3a3a" stroke-width="0.9"/>
<circle cx="895.3" cy="352.2" r="1.9" fill="#fff" stroke="#3a3a3a" stroke-width="0.9"/>
<circle cx="895.3" cy="375.6" r="1.9" fill="#fff" stroke="#3a3a3a" stroke-width="0.9"/>
<circle cx="895.3" cy="399.0" r="1.9" fill="#fff" stroke="#3a3a3a" stroke-width="0.9"/>
<circle cx="895.3" cy="422.5" r="1.9" fill="#fff" stroke="#3a3a3a" stroke-width="0.9"/>
<circle cx="895.3" cy="445.9" r="1.9" fill="#fff" stroke="#3a3a3a" stroke-width="0.9"/>
<circle cx="895.3" cy="469.3" r="1.9" fill="#fff" stroke="#3a3a3a" stroke-width="0.9"/>
<circle cx="895.3" cy="492.7" r="1.9" fill="#fff" stroke="#3a3a3a" stroke-width="0.9"/>
<circle cx="895.3" cy="516.2" r="1.9" fill="#fff" stroke="#3a3a3a" stroke-width="0.9"/>
<circle cx="895.3" cy="539.6" r="1.9" fill="#fff" stroke="#3a3a3a" stroke-width="0.9"/>
<circle cx="895.3" cy="563.0" r="1.9" fill="#fff" stroke="#3a3a3a" stroke-width="0.9"/>
<circle cx="895.3" cy="586.5" r="1.9" fill="#fff" stroke="#3a3a3a" stroke-width="0.9"/>
<circle cx="895.3" cy="609.9" r="1.9" fill="#fff" stroke="#3a3a3a" stroke-width="0.9"/>
<circle cx="895.3" cy="633.3" r="1.9" fill="#fff" stroke="#3a3a3a" stroke-width="0.9"/>
<circle cx="895.3" cy="656.7" r="1.9" fill="#fff" stroke="#3a3a3a" stroke-width="0.9"/>
<circle cx="895.3" cy="680.2" r="1.9" fill="#fff" stroke="#3a3a3a" stroke-width="0.9"/>
<circle cx="895.3" cy="703.6" r="1.9" fill="#fff" stroke="#3a3a3a" stroke-width="0.9"/>
<circle cx="120.9" cy="716.1" r="1.9" fill="#fff" stroke="#3a3a3a" stroke-width="0.9"/>
<circle cx="144.3" cy="716.1" r="1.9" fill="#fff" stroke="#3a3a3a" stroke-width="0.9"/>
<circle cx="167.8" cy="716.1" r="1.9" fill="#fff" stroke="#3a3a3a" stroke-width="0.9"/>
<circle cx="191.2" cy="716.1" r="1.9" fill="#fff" stroke="#3a3a3a" stroke-width="0.9"/>
<circle cx="214.6" cy="716.1" r="1.9" fill="#fff" stroke="#3a3a3a" stroke-width="0.9"/>
<circle cx="238.1" cy="716.1" r="1.9" fill="#fff" stroke="#3a3a3a" stroke-width="0.9"/>
<circle cx="261.5" cy="716.1" r="1.9" fill="#fff" stroke="#3a3a3a" stroke-width="0.9"/>
<circle cx="284.9" cy="716.1" r="1.9" fill="#fff" stroke="#3a3a3a" stroke-width="0.9"/>
<circle cx="308.3" cy="716.1" r="1.9" fill="#fff" stroke="#3a3a3a" stroke-width="0.9"/>
<circle cx="331.8" cy="716.1" r="1.9" fill="#fff" stroke="#3a3a3a" stroke-width="0.9"/>
<circle cx="355.2" cy="716.1" r="1.9" fill="#fff" stroke="#3a3a3a" stroke-width="0.9"/>
<circle cx="378.6" cy="716.1" r="1.9" fill="#fff" stroke="#3a3a3a" stroke-width="0.9"/>
<circle cx="402.1" cy="716.1" r="1.9" fill="#fff" stroke="#3a3a3a" stroke-width="0.9"/>
<circle cx="425.5" cy="716.1" r="1.9" fill="#fff" stroke="#3a3a3a" stroke-width="0.9"/>
<circle cx="448.9" cy="716.1" r="1.9" fill="#fff" stroke="#3a3a3a" stroke-width="0.9"/>
<circle cx="472.4" cy="716.1" r="1.9" fill="#fff" stroke="#3a3a3a" stroke-width="0.9"/>
<circle cx="495.8" cy="716.1" r="1.9" fill="#fff" stroke="#3a3a3a" stroke-width="0.9"/>
<circle cx="519.2" cy="716.1" r="1.9" fill="#fff" stroke="#3a3a3a" stroke-width="0.9"/>
<circle cx="542.6" cy="716.1" r="1.9" fill="#fff" stroke="#3a3a3a" stroke-width="0.9"/>
<circle cx="566.1" cy="716.1" r="1.9" fill="#fff" stroke="#3a3a3a" stroke-width="0.9"/>
<circle cx="589.5" cy="716.1" r="1.9" fill="#fff" stroke="#3a3a3a" stroke-width="0.9"/>
<circle cx="612.9" cy="716.1" r="1.9" fill="#fff" stroke="#3a3a3a" stroke-width="0.9"/>
<circle cx="636.4" cy="716.1" r="1.9" fill="#fff" stroke="#3a3a3a" stroke-width="0.9"/>
<circle cx="659.8" cy="716.1" r="1.9" fill="#fff" stroke="#3a3a3a" stroke-width="0.9"/>
<circle cx="683.2" cy="716.1" r="1.9" fill="#fff" stroke="#3a3a3a" stroke-width="0.9"/>
<circle cx="706.6" cy="716.1" r="1.9" fill="#fff" stroke="#3a3a3a" stroke-width="0.9"/>
<circle cx="730.1" cy="716.1" r="1.9" fill="#fff" stroke="#3a3a3a" stroke-width="0.9"/>
<circle cx="753.5" cy="716.1" r="1.9" fill="#fff" stroke="#3a3a3a" stroke-width="0.9"/>
<circle cx="776.9" cy="716.1" r="1.9" fill="#fff" stroke="#3a3a3a" stroke-width="0.9"/>
<circle cx="800.4" cy="716.1" r="1.9" fill="#fff" stroke="#3a3a3a" stroke-width="0.9"/>
<circle cx="823.8" cy="716.1" r="1.9" fill="#fff" stroke="#3a3a3a" stroke-width="0.9"/>
<circle cx="847.2" cy="716.1" r="1.9" fill="#fff" stroke="#3a3a3a" stroke-width="0.9"/>
<circle cx="870.7" cy="716.1" r="1.9" fill="#fff" stroke="#3a3a3a" stroke-width="0.9"/>
<circle cx="87.4" cy="709.7" r="1.9" fill="#fff" stroke="#3a3a3a" stroke-width="0.9"/>
<circle cx="68.9" cy="693.7" r="1.9" fill="#fff" stroke="#3a3a3a" stroke-width="0.9"/>
<circle cx="59.7" cy="673.2" r="1.9" fill="#fff" stroke="#3a3a3a" stroke-width="0.9"/>
<g><circle cx="294.2" cy="13.8" r="4.6" fill="#fff" stroke="#111" stroke-width="1"/><path d="M294.2 13.8 L298.8 13.8 A4.6 4.6 0 0 1 294.2 18.4 Z" fill="#111"/><path d="M294.2 13.8 L289.59999999999997 13.8 A4.6 4.6 0 0 1 294.2 9.200000000000001 Z" fill="#111"/><line x1="288.09999999999997" y1="13.8" x2="300.3" y2="13.8" stroke="#111" stroke-width="0.6"/><line x1="294.2" y1="7.700000000000001" x2="294.2" y2="19.9" stroke="#111" stroke-width="0.6"/></g>
<text x="297.2" y="6.6000000000000005" font-size="8.5" fill="#aaaaaa" text-anchor="start" font-family="Liberation Sans">V&#8211;1</text>
<g><circle cx="293.7" cy="129.3" r="4.6" fill="#fff" stroke="#111" stroke-width="1"/><path d="M293.7 129.3 L298.3 129.3 A4.6 4.6 0 0 1 293.7 133.9 Z" fill="#111"/><path d="M293.7 129.3 L289.09999999999997 129.3 A4.6 4.6 0 0 1 293.7 124.70000000000002 Z" fill="#111"/><line x1="287.59999999999997" y1="129.3" x2="299.8" y2="129.3" stroke="#111" stroke-width="0.6"/><line x1="293.7" y1="123.20000000000002" x2="293.7" y2="135.4" stroke="#111" stroke-width="0.6"/></g>
<text x="300.7" y="123.50000000000001" font-size="8.5" fill="#aaaaaa" text-anchor="start" font-family="Liberation Sans">V&#8211;2</text>
<g><circle cx="347.2" cy="129.3" r="4.6" fill="#fff" stroke="#111" stroke-width="1"/><path d="M347.2 129.3 L351.8 129.3 A4.6 4.6 0 0 1 347.2 133.9 Z" fill="#111"/><path d="M347.2 129.3 L342.59999999999997 129.3 A4.6 4.6 0 0 1 347.2 124.70000000000002 Z" fill="#111"/><line x1="341.09999999999997" y1="129.3" x2="353.3" y2="129.3" stroke="#111" stroke-width="0.6"/><line x1="347.2" y1="123.20000000000002" x2="347.2" y2="135.4" stroke="#111" stroke-width="0.6"/></g>
<text x="352.8" y="125.70000000000002" font-size="8.5" fill="#aaaaaa" text-anchor="start" font-family="Liberation Sans">V&#8211;2A</text>
<g><circle cx="58.9" cy="129.3" r="4.6" fill="#fff" stroke="#111" stroke-width="1"/><path d="M58.9 129.3 L63.5 129.3 A4.6 4.6 0 0 1 58.9 133.9 Z" fill="#111"/><path d="M58.9 129.3 L54.3 129.3 A4.6 4.6 0 0 1 58.9 124.70000000000002 Z" fill="#111"/><line x1="52.8" y1="129.3" x2="65.0" y2="129.3" stroke="#111" stroke-width="0.6"/><line x1="58.9" y1="123.20000000000002" x2="58.9" y2="135.4" stroke="#111" stroke-width="0.6"/></g>
<text x="66.4" y="140.3" font-size="8.5" fill="#aaaaaa" text-anchor="start" font-family="Liberation Sans">V&#8211;3</text>
<g><circle cx="58.9" cy="662.1" r="4.6" fill="#fff" stroke="#111" stroke-width="1"/><path d="M58.9 662.1 L63.5 662.1 A4.6 4.6 0 0 1 58.9 666.7 Z" fill="#111"/><path d="M58.9 662.1 L54.3 662.1 A4.6 4.6 0 0 1 58.9 657.5 Z" fill="#111"/><line x1="52.8" y1="662.1" x2="65.0" y2="662.1" stroke="#111" stroke-width="0.6"/><line x1="58.9" y1="656.0" x2="58.9" y2="668.2" stroke="#111" stroke-width="0.6"/></g>
<text x="52.699999999999996" y="659.8000000000001" font-size="8.5" fill="#aaaaaa" text-anchor="end" font-family="Liberation Sans">V&#8211;4</text>
<g><circle cx="58.9" cy="716.1" r="4.6" fill="#fff" stroke="#111" stroke-width="1"/><path d="M58.9 716.1 L63.5 716.1 A4.6 4.6 0 0 1 58.9 720.7 Z" fill="#111"/><path d="M58.9 716.1 L54.3 716.1 A4.6 4.6 0 0 1 58.9 711.5 Z" fill="#111"/><line x1="52.8" y1="716.1" x2="65.0" y2="716.1" stroke="#111" stroke-width="0.6"/><line x1="58.9" y1="710.0" x2="58.9" y2="722.2" stroke="#111" stroke-width="0.6"/></g>
<text x="64.3" y="731.5" font-size="8.5" fill="#aaaaaa" text-anchor="start" font-family="Liberation Sans">V&#8211;5</text>
<g><circle cx="111.9" cy="716.1" r="4.6" fill="#fff" stroke="#111" stroke-width="1"/><path d="M111.9 716.1 L116.5 716.1 A4.6 4.6 0 0 1 111.9 720.7 Z" fill="#111"/><path d="M111.9 716.1 L107.30000000000001 716.1 A4.6 4.6 0 0 1 111.9 711.5 Z" fill="#111"/><line x1="105.80000000000001" y1="716.1" x2="118.0" y2="716.1" stroke="#111" stroke-width="0.6"/><line x1="111.9" y1="710.0" x2="111.9" y2="722.2" stroke="#111" stroke-width="0.6"/></g>
<text x="119.60000000000001" y="727.1" font-size="8.5" fill="#aaaaaa" text-anchor="start" font-family="Liberation Sans">V&#8211;6</text>
<g><circle cx="895.3" cy="716.1" r="4.6" fill="#fff" stroke="#111" stroke-width="1"/><path d="M895.3 716.1 L899.9 716.1 A4.6 4.6 0 0 1 895.3 720.7 Z" fill="#111"/><path d="M895.3 716.1 L890.6999999999999 716.1 A4.6 4.6 0 0 1 895.3 711.5 Z" fill="#111"/><line x1="889.1999999999999" y1="716.1" x2="901.4" y2="716.1" stroke="#111" stroke-width="0.6"/><line x1="895.3" y1="710.0" x2="895.3" y2="722.2" stroke="#111" stroke-width="0.6"/></g>
<text x="900.5" y="709.1" font-size="8.5" fill="#aaaaaa" text-anchor="start" font-family="Liberation Sans">V&#8211;7</text>
<g><circle cx="895.2" cy="276.6" r="4.6" fill="#fff" stroke="#111" stroke-width="1"/><path d="M895.2 276.6 L899.8000000000001 276.6 A4.6 4.6 0 0 1 895.2 281.20000000000005 Z" fill="#111"/><path d="M895.2 276.6 L890.6 276.6 A4.6 4.6 0 0 1 895.2 272.0 Z" fill="#111"/><line x1="889.1" y1="276.6" x2="901.3000000000001" y2="276.6" stroke="#111" stroke-width="0.6"/><line x1="895.2" y1="270.5" x2="895.2" y2="282.70000000000005" stroke="#111" stroke-width="0.6"/></g>
<text x="904.2" y="271.40000000000003" font-size="8.5" fill="#aaaaaa" text-anchor="start" font-family="Liberation Sans">V&#8211;8</text>
<g><circle cx="895.3" cy="72.5" r="4.6" fill="#fff" stroke="#111" stroke-width="1"/><path d="M895.3 72.5 L899.9 72.5 A4.6 4.6 0 0 1 895.3 77.1 Z" fill="#111"/><path d="M895.3 72.5 L890.6999999999999 72.5 A4.6 4.6 0 0 1 895.3 67.9 Z" fill="#111"/><line x1="889.1999999999999" y1="72.5" x2="901.4" y2="72.5" stroke="#111" stroke-width="0.6"/><line x1="895.3" y1="66.4" x2="895.3" y2="78.6" stroke="#111" stroke-width="0.6"/></g>
<text x="904.3" y="83.5" font-size="8.5" fill="#aaaaaa" text-anchor="start" font-family="Liberation Sans">V&#8211;9</text>
<g><circle cx="840" cy="129.3" r="4.6" fill="#fff" stroke="#111" stroke-width="1"/><path d="M840 129.3 L844.6 129.3 A4.6 4.6 0 0 1 840 133.9 Z" fill="#111"/><path d="M840 129.3 L835.4 129.3 A4.6 4.6 0 0 1 840 124.70000000000002 Z" fill="#111"/><line x1="833.9" y1="129.3" x2="846.1" y2="129.3" stroke="#111" stroke-width="0.6"/><line x1="840" y1="123.20000000000002" x2="840" y2="135.4" stroke="#111" stroke-width="0.6"/></g>
<text x="859.3" y="116.30000000000001" font-size="8.5" fill="#aaaaaa" text-anchor="start" font-family="Liberation Sans">V&#8211;10</text>
<g><circle cx="510.3" cy="33" r="4.6" fill="#fff" stroke="#111" stroke-width="1"/><path d="M510.3 33 L514.9 33 A4.6 4.6 0 0 1 510.3 37.6 Z" fill="#111"/><path d="M510.3 33 L505.7 33 A4.6 4.6 0 0 1 510.3 28.4 Z" fill="#111"/><line x1="504.2" y1="33" x2="516.4" y2="33" stroke="#111" stroke-width="0.6"/><line x1="510.3" y1="26.9" x2="510.3" y2="39.1" stroke="#111" stroke-width="0.6"/></g>
<g><circle cx="515.4" cy="16.7" r="4.6" fill="#fff" stroke="#111" stroke-width="1"/><path d="M515.4 16.7 L520.0 16.7 A4.6 4.6 0 0 1 515.4 21.299999999999997 Z" fill="#111"/><path d="M515.4 16.7 L510.79999999999995 16.7 A4.6 4.6 0 0 1 515.4 12.1 Z" fill="#111"/><line x1="509.29999999999995" y1="16.7" x2="521.5" y2="16.7" stroke="#111" stroke-width="0.6"/><line x1="515.4" y1="10.6" x2="515.4" y2="22.799999999999997" stroke="#111" stroke-width="0.6"/></g>
<text x="523.0" y="12.899999999999999" font-size="8.5" fill="#aaaaaa" text-anchor="start" font-family="Liberation Sans">V&#8211;13</text>
<g><circle cx="691.6" cy="51.4" r="4.6" fill="#fff" stroke="#111" stroke-width="1"/><path d="M691.6 51.4 L696.2 51.4 A4.6 4.6 0 0 1 691.6 56.0 Z" fill="#111"/><path d="M691.6 51.4 L687.0 51.4 A4.6 4.6 0 0 1 691.6 46.8 Z" fill="#111"/><line x1="685.5" y1="51.4" x2="697.7" y2="51.4" stroke="#111" stroke-width="0.6"/><line x1="691.6" y1="45.3" x2="691.6" y2="57.5" stroke="#111" stroke-width="0.6"/></g>
<path d="M126.5 158.5 A5.37 3.33 0 0 1 137.2 158.5 A5.37 3.33 0 0 1 148.0 158.5 A5.37 3.33 0 0 1 158.7 158.5 A5.37 3.33 0 0 1 169.4 158.5 A5.37 3.33 0 0 1 180.2 158.5 A5.37 3.33 0 0 1 190.9 158.5 A5.37 3.33 0 0 1 201.7 158.5 A5.37 3.33 0 0 1 212.4 158.5 A5.37 3.33 0 0 1 223.1 158.5 A5.37 3.33 0 0 1 233.9 158.5 A5.37 3.33 0 0 1 244.6 158.5 A5.37 3.33 0 0 1 255.3 158.5 A5.37 3.33 0 0 1 266.1 158.5 A5.37 3.33 0 0 1 276.8 158.5 A5.37 3.33 0 0 1 287.6 158.5 A5.37 3.33 0 0 1 298.3 158.5 A5.37 3.33 0 0 1 309.0 158.5 A5.37 3.33 0 0 1 319.8 158.5 A5.37 3.33 0 0 1 330.5 158.5 A3.30 5.32 0 0 1 330.5 169.1 A3.30 5.32 0 0 1 330.5 179.8 A3.30 5.32 0 0 1 330.5 190.4 A3.30 5.32 0 0 1 330.5 201.1 A3.30 5.32 0 0 1 330.5 211.7 A3.30 5.32 0 0 1 330.5 222.4 A3.30 5.32 0 0 1 330.5 233.0 A5.37 3.33 0 0 1 319.8 233.0 A5.37 3.33 0 0 1 309.0 233.0 A5.37 3.33 0 0 1 298.3 233.0 A5.37 3.33 0 0 1 287.6 233.0 A5.37 3.33 0 0 1 276.8 233.0 A5.37 3.33 0 0 1 266.1 233.0 A5.37 3.33 0 0 1 255.3 233.0 A5.37 3.33 0 0 1 244.6 233.0 A5.37 3.33 0 0 1 233.9 233.0 A5.37 3.33 0 0 1 223.1 233.0 A5.37 3.33 0 0 1 212.4 233.0 A5.37 3.33 0 0 1 201.7 233.0 A5.37 3.33 0 0 1 190.9 233.0 A5.37 3.33 0 0 1 180.2 233.0 A5.37 3.33 0 0 1 169.4 233.0 A5.37 3.33 0 0 1 158.7 233.0 A5.37 3.33 0 0 1 148.0 233.0 A5.37 3.33 0 0 1 137.2 233.0 A5.37 3.33 0 0 1 126.5 233.0 A3.30 5.32 0 0 1 126.5 222.4 A3.30 5.32 0 0 1 126.5 211.7 A3.30 5.32 0 0 1 126.5 201.1 A3.30 5.32 0 0 1 126.5 190.4 A3.30 5.32 0 0 1 126.5 179.8 A3.30 5.32 0 0 1 126.5 169.1 A3.30 5.32 0 0 1 126.5 158.5 Z" fill="none" stroke="#e0874a" stroke-width="0.9"/>
<rect x="134.4" y="161.5" width="27.099999999999994" height="65.2" fill="none" stroke="#999" stroke-width="0.9"/>
<rect x="188" y="161.5" width="26.599999999999994" height="65.2" fill="none" stroke="#999" stroke-width="0.9"/>
<rect x="241.2" y="161.5" width="27.100000000000023" height="65.2" fill="none" stroke="#999" stroke-width="0.9"/>
<rect x="294.9" y="161.5" width="26.100000000000023" height="65.2" fill="none" stroke="#999" stroke-width="0.9"/>
<text x="235" y="151.6" font-size="6.8" text-anchor="middle" fill="#111" textLength="160" lengthAdjust="spacingAndGlyphs" style="white-space:pre">Reserved  space for 3x1MWe Batteries and 1x 6.3 MVA TX</text>
<path d="M774.0 297.0 A5.36 3.32 0 0 1 784.7 297.0 A5.36 3.32 0 0 1 795.4 297.0 A5.36 3.32 0 0 1 806.2 297.0 A5.36 3.32 0 0 1 816.9 297.0 A5.36 3.32 0 0 1 827.6 297.0 A5.36 3.32 0 0 1 838.3 297.0 A5.36 3.32 0 0 1 849.1 297.0 A5.36 3.32 0 0 1 859.8 297.0 A5.36 3.32 0 0 1 870.5 297.0 A3.22 5.19 0 0 1 870.5 307.4 A3.22 5.19 0 0 1 870.5 317.8 A3.22 5.19 0 0 1 870.5 328.1 A3.22 5.19 0 0 1 870.5 338.5 A3.22 5.19 0 0 1 870.5 348.9 A3.22 5.19 0 0 1 870.5 359.2 A3.22 5.19 0 0 1 870.5 369.6 A3.22 5.19 0 0 1 870.5 380.0 A5.36 3.32 0 0 1 859.8 380.0 A5.36 3.32 0 0 1 849.1 380.0 A5.36 3.32 0 0 1 838.3 380.0 A5.36 3.32 0 0 1 827.6 380.0 A5.36 3.32 0 0 1 816.9 380.0 A5.36 3.32 0 0 1 806.2 380.0 A5.36 3.32 0 0 1 795.4 380.0 A5.36 3.32 0 0 1 784.7 380.0 A5.36 3.32 0 0 1 774.0 380.0 A3.22 5.19 0 0 1 774.0 369.6 A3.22 5.19 0 0 1 774.0 359.2 A3.22 5.19 0 0 1 774.0 348.9 A3.22 5.19 0 0 1 774.0 338.5 A3.22 5.19 0 0 1 774.0 328.1 A3.22 5.19 0 0 1 774.0 317.8 A3.22 5.19 0 0 1 774.0 307.4 A3.22 5.19 0 0 1 774.0 297.0 Z" fill="none" stroke="#e0874a" stroke-width="0.9"/>
<rect x="782.2" y="312.4" width="27.0" height="65.8" fill="none" stroke="#999" stroke-width="0.9"/>
<rect x="835.4" y="312.4" width="27.0" height="65.8" fill="none" stroke="#999" stroke-width="0.9"/>
<text x="820.7" y="341.3" font-size="6.8" text-anchor="middle" fill="#111" textLength="54" lengthAdjust="spacingAndGlyphs" style="white-space:pre">Reserved  space for</text>
<text x="821" y="349.5" font-size="6.8" text-anchor="middle" fill="#111" textLength="60" lengthAdjust="spacingAndGlyphs">2xKTA50G12 gensets</text>
<line x1="68.7" y1="319.8" x2="68.7" y2="523" stroke="#ff0000" stroke-width="4.0"/>
<line x1="68.7" y1="319.8" x2="68.7" y2="523" stroke="#fff" stroke-width="1.80" stroke-dasharray="1.6 1.7"/>
<line x1="72.1" y1="265.3" x2="72.1" y2="526" stroke="#00ee00" stroke-width="4.0"/>
<line x1="72.1" y1="265.3" x2="72.1" y2="526" stroke="#fff" stroke-width="1.80" stroke-dasharray="1.6 1.7"/>
<line x1="70" y1="317.9" x2="729.3" y2="317.9" stroke="#00ee00" stroke-width="3.4"/>
<line x1="70" y1="317.9" x2="729.3" y2="317.9" stroke="#fff" stroke-width="1.53" stroke-dasharray="1.6 1.7"/>
<line x1="66.7" y1="321.7" x2="676.3" y2="321.7" stroke="#ff0000" stroke-width="3.6"/>
<line x1="66.7" y1="321.7" x2="676.3" y2="321.7" stroke="#fff" stroke-width="1.62" stroke-dasharray="1.6 1.7"/>
<rect x="116.8" y="324.3" width="26.200000000000003" height="9.800000000000011" fill="#0000ff"/>
<rect x="117.90" y="325.40" width="2.44" height="7.20" fill="#fff"/>
<rect x="121.64" y="325.40" width="2.44" height="7.20" fill="#fff"/>
<rect x="125.39" y="325.40" width="2.44" height="7.20" fill="#fff"/>
<rect x="129.13" y="325.40" width="2.44" height="7.20" fill="#fff"/>
<rect x="132.87" y="325.40" width="2.44" height="7.20" fill="#fff"/>
<rect x="136.61" y="325.40" width="2.44" height="7.20" fill="#fff"/>
<rect x="140.36" y="325.40" width="2.44" height="7.20" fill="#fff"/>
<rect x="169.8" y="324.3" width="26.399999999999977" height="9.800000000000011" fill="#0000ff"/>
<rect x="170.90" y="325.40" width="2.47" height="7.20" fill="#fff"/>
<rect x="174.67" y="325.40" width="2.47" height="7.20" fill="#fff"/>
<rect x="178.44" y="325.40" width="2.47" height="7.20" fill="#fff"/>
<rect x="182.21" y="325.40" width="2.47" height="7.20" fill="#fff"/>
<rect x="185.99" y="325.40" width="2.47" height="7.20" fill="#fff"/>
<rect x="189.76" y="325.40" width="2.47" height="7.20" fill="#fff"/>
<rect x="193.53" y="325.40" width="2.47" height="7.20" fill="#fff"/>
<rect x="223.0" y="324.3" width="27.0" height="9.800000000000011" fill="#0000ff"/>
<rect x="224.10" y="325.40" width="2.08" height="7.20" fill="#fff"/>
<rect x="227.47" y="325.40" width="2.08" height="7.20" fill="#fff"/>
<rect x="230.85" y="325.40" width="2.08" height="7.20" fill="#fff"/>
<rect x="234.22" y="325.40" width="2.08" height="7.20" fill="#fff"/>
<rect x="237.60" y="325.40" width="2.08" height="7.20" fill="#fff"/>
<rect x="240.97" y="325.40" width="2.08" height="7.20" fill="#fff"/>
<rect x="244.35" y="325.40" width="2.08" height="7.20" fill="#fff"/>
<rect x="247.72" y="325.40" width="2.08" height="7.20" fill="#fff"/>
<rect x="276.8" y="324.3" width="25.899999999999977" height="9.800000000000011" fill="#0000ff"/>
<rect x="277.90" y="325.40" width="2.40" height="7.20" fill="#fff"/>
<rect x="281.60" y="325.40" width="2.40" height="7.20" fill="#fff"/>
<rect x="285.30" y="325.40" width="2.40" height="7.20" fill="#fff"/>
<rect x="289.00" y="325.40" width="2.40" height="7.20" fill="#fff"/>
<rect x="292.70" y="325.40" width="2.40" height="7.20" fill="#fff"/>
<rect x="296.40" y="325.40" width="2.40" height="7.20" fill="#fff"/>
<rect x="300.10" y="325.40" width="2.40" height="7.20" fill="#fff"/>
<rect x="329.5" y="324.3" width="26.0" height="9.800000000000011" fill="#0000ff"/>
<rect x="330.60" y="325.40" width="2.41" height="7.20" fill="#fff"/>
<rect x="334.31" y="325.40" width="2.41" height="7.20" fill="#fff"/>
<rect x="338.03" y="325.40" width="2.41" height="7.20" fill="#fff"/>
<rect x="341.74" y="325.40" width="2.41" height="7.20" fill="#fff"/>
<rect x="345.46" y="325.40" width="2.41" height="7.20" fill="#fff"/>
<rect x="349.17" y="325.40" width="2.41" height="7.20" fill="#fff"/>
<rect x="352.89" y="325.40" width="2.41" height="7.20" fill="#fff"/>
<rect x="382.3" y="324.3" width="26.399999999999977" height="9.800000000000011" fill="#0000ff"/>
<rect x="383.40" y="325.40" width="2.47" height="7.20" fill="#fff"/>
<rect x="387.17" y="325.40" width="2.47" height="7.20" fill="#fff"/>
<rect x="390.94" y="325.40" width="2.47" height="7.20" fill="#fff"/>
<rect x="394.71" y="325.40" width="2.47" height="7.20" fill="#fff"/>
<rect x="398.49" y="325.40" width="2.47" height="7.20" fill="#fff"/>
<rect x="402.26" y="325.40" width="2.47" height="7.20" fill="#fff"/>
<rect x="406.03" y="325.40" width="2.47" height="7.20" fill="#fff"/>
<rect x="547.8" y="324.3" width="26.800000000000068" height="9.800000000000011" fill="#0000ff"/>
<rect x="548.90" y="325.40" width="2.05" height="7.20" fill="#fff"/>
<rect x="552.25" y="325.40" width="2.05" height="7.20" fill="#fff"/>
<rect x="555.60" y="325.40" width="2.05" height="7.20" fill="#fff"/>
<rect x="558.95" y="325.40" width="2.05" height="7.20" fill="#fff"/>
<rect x="562.30" y="325.40" width="2.05" height="7.20" fill="#fff"/>
<rect x="565.65" y="325.40" width="2.05" height="7.20" fill="#fff"/>
<rect x="569.00" y="325.40" width="2.05" height="7.20" fill="#fff"/>
<rect x="572.35" y="325.40" width="2.05" height="7.20" fill="#fff"/>
<rect x="601.4" y="324.3" width="26.200000000000045" height="9.800000000000011" fill="#0000ff"/>
<rect x="602.50" y="325.40" width="2.44" height="7.20" fill="#fff"/>
<rect x="606.24" y="325.40" width="2.44" height="7.20" fill="#fff"/>
<rect x="609.99" y="325.40" width="2.44" height="7.20" fill="#fff"/>
<rect x="613.73" y="325.40" width="2.44" height="7.20" fill="#fff"/>
<rect x="617.47" y="325.40" width="2.44" height="7.20" fill="#fff"/>
<rect x="621.21" y="325.40" width="2.44" height="7.20" fill="#fff"/>
<rect x="624.96" y="325.40" width="2.44" height="7.20" fill="#fff"/>
<rect x="654.4" y="324.3" width="21.899999999999977" height="9.800000000000011" fill="#0000ff"/>
<rect x="655.50" y="325.40" width="2.35" height="7.20" fill="#fff"/>
<rect x="659.15" y="325.40" width="2.35" height="7.20" fill="#fff"/>
<rect x="662.80" y="325.40" width="2.35" height="7.20" fill="#fff"/>
<rect x="666.45" y="325.40" width="2.35" height="7.20" fill="#fff"/>
<rect x="670.10" y="325.40" width="2.35" height="7.20" fill="#fff"/>
<rect x="673.75" y="325.40" width="2.35" height="7.20" fill="#fff"/>
<rect x="703.0999999999999" y="324.3" width="26.200000000000045" height="9.800000000000011" fill="#0000ff"/>
<rect x="704.20" y="325.40" width="2.44" height="7.20" fill="#fff"/>
<rect x="707.94" y="325.40" width="2.44" height="7.20" fill="#fff"/>
<rect x="711.69" y="325.40" width="2.44" height="7.20" fill="#fff"/>
<rect x="715.43" y="325.40" width="2.44" height="7.20" fill="#fff"/>
<rect x="719.17" y="325.40" width="2.44" height="7.20" fill="#fff"/>
<rect x="722.91" y="325.40" width="2.44" height="7.20" fill="#fff"/>
<rect x="726.66" y="325.40" width="2.44" height="7.20" fill="#fff"/>
<line x1="66.7" y1="520.8" x2="681" y2="520.8" stroke="#ff0000" stroke-width="3.6"/>
<line x1="66.7" y1="520.8" x2="681" y2="520.8" stroke="#fff" stroke-width="1.62" stroke-dasharray="1.6 1.7"/>
<line x1="70" y1="524.9" x2="840" y2="524.9" stroke="#00ee00" stroke-width="3.4"/>
<line x1="70" y1="524.9" x2="840" y2="524.9" stroke="#fff" stroke-width="1.53" stroke-dasharray="1.6 1.7"/>
<rect x="116.8" y="508.4" width="26.200000000000003" height="10.0" fill="#0000ff"/>
<rect x="117.90" y="509.50" width="2.44" height="7.40" fill="#fff"/>
<rect x="121.64" y="509.50" width="2.44" height="7.40" fill="#fff"/>
<rect x="125.39" y="509.50" width="2.44" height="7.40" fill="#fff"/>
<rect x="129.13" y="509.50" width="2.44" height="7.40" fill="#fff"/>
<rect x="132.87" y="509.50" width="2.44" height="7.40" fill="#fff"/>
<rect x="136.61" y="509.50" width="2.44" height="7.40" fill="#fff"/>
<rect x="140.36" y="509.50" width="2.44" height="7.40" fill="#fff"/>
<rect x="169.8" y="508.4" width="26.399999999999977" height="10.0" fill="#0000ff"/>
<rect x="170.90" y="509.50" width="2.47" height="7.40" fill="#fff"/>
<rect x="174.67" y="509.50" width="2.47" height="7.40" fill="#fff"/>
<rect x="178.44" y="509.50" width="2.47" height="7.40" fill="#fff"/>
<rect x="182.21" y="509.50" width="2.47" height="7.40" fill="#fff"/>
<rect x="185.99" y="509.50" width="2.47" height="7.40" fill="#fff"/>
<rect x="189.76" y="509.50" width="2.47" height="7.40" fill="#fff"/>
<rect x="193.53" y="509.50" width="2.47" height="7.40" fill="#fff"/>
<rect x="223.0" y="508.4" width="27.0" height="10.0" fill="#0000ff"/>
<rect x="224.10" y="509.50" width="2.08" height="7.40" fill="#fff"/>
<rect x="227.47" y="509.50" width="2.08" height="7.40" fill="#fff"/>
<rect x="230.85" y="509.50" width="2.08" height="7.40" fill="#fff"/>
<rect x="234.22" y="509.50" width="2.08" height="7.40" fill="#fff"/>
<rect x="237.60" y="509.50" width="2.08" height="7.40" fill="#fff"/>
<rect x="240.97" y="509.50" width="2.08" height="7.40" fill="#fff"/>
<rect x="244.35" y="509.50" width="2.08" height="7.40" fill="#fff"/>
<rect x="247.72" y="509.50" width="2.08" height="7.40" fill="#fff"/>
<rect x="276.8" y="508.4" width="25.899999999999977" height="10.0" fill="#0000ff"/>
<rect x="277.90" y="509.50" width="2.40" height="7.40" fill="#fff"/>
<rect x="281.60" y="509.50" width="2.40" height="7.40" fill="#fff"/>
<rect x="285.30" y="509.50" width="2.40" height="7.40" fill="#fff"/>
<rect x="289.00" y="509.50" width="2.40" height="7.40" fill="#fff"/>
<rect x="292.70" y="509.50" width="2.40" height="7.40" fill="#fff"/>
<rect x="296.40" y="509.50" width="2.40" height="7.40" fill="#fff"/>
<rect x="300.10" y="509.50" width="2.40" height="7.40" fill="#fff"/>
<rect x="329.5" y="508.4" width="26.0" height="10.0" fill="#0000ff"/>
<rect x="330.60" y="509.50" width="2.41" height="7.40" fill="#fff"/>
<rect x="334.31" y="509.50" width="2.41" height="7.40" fill="#fff"/>
<rect x="338.03" y="509.50" width="2.41" height="7.40" fill="#fff"/>
<rect x="341.74" y="509.50" width="2.41" height="7.40" fill="#fff"/>
<rect x="345.46" y="509.50" width="2.41" height="7.40" fill="#fff"/>
<rect x="349.17" y="509.50" width="2.41" height="7.40" fill="#fff"/>
<rect x="352.89" y="509.50" width="2.41" height="7.40" fill="#fff"/>
<rect x="382.3" y="508.4" width="26.399999999999977" height="10.0" fill="#0000ff"/>
<rect x="383.40" y="509.50" width="2.47" height="7.40" fill="#fff"/>
<rect x="387.17" y="509.50" width="2.47" height="7.40" fill="#fff"/>
<rect x="390.94" y="509.50" width="2.47" height="7.40" fill="#fff"/>
<rect x="394.71" y="509.50" width="2.47" height="7.40" fill="#fff"/>
<rect x="398.49" y="509.50" width="2.47" height="7.40" fill="#fff"/>
<rect x="402.26" y="509.50" width="2.47" height="7.40" fill="#fff"/>
<rect x="406.03" y="509.50" width="2.47" height="7.40" fill="#fff"/>
<rect x="547.8" y="508.4" width="26.800000000000068" height="10.0" fill="#0000ff"/>
<rect x="548.90" y="509.50" width="2.05" height="7.40" fill="#fff"/>
<rect x="552.25" y="509.50" width="2.05" height="7.40" fill="#fff"/>
<rect x="555.60" y="509.50" width="2.05" height="7.40" fill="#fff"/>
<rect x="558.95" y="509.50" width="2.05" height="7.40" fill="#fff"/>
<rect x="562.30" y="509.50" width="2.05" height="7.40" fill="#fff"/>
<rect x="565.65" y="509.50" width="2.05" height="7.40" fill="#fff"/>
<rect x="569.00" y="509.50" width="2.05" height="7.40" fill="#fff"/>
<rect x="572.35" y="509.50" width="2.05" height="7.40" fill="#fff"/>
<rect x="601.4" y="508.4" width="26.399999999999977" height="10.0" fill="#0000ff"/>
<rect x="602.50" y="509.50" width="2.47" height="7.40" fill="#fff"/>
<rect x="606.27" y="509.50" width="2.47" height="7.40" fill="#fff"/>
<rect x="610.04" y="509.50" width="2.47" height="7.40" fill="#fff"/>
<rect x="613.81" y="509.50" width="2.47" height="7.40" fill="#fff"/>
<rect x="617.59" y="509.50" width="2.47" height="7.40" fill="#fff"/>
<rect x="621.36" y="509.50" width="2.47" height="7.40" fill="#fff"/>
<rect x="625.13" y="509.50" width="2.47" height="7.40" fill="#fff"/>
<rect x="654.5999999999999" y="508.4" width="26.200000000000045" height="10.0" fill="#0000ff"/>
<rect x="655.70" y="509.50" width="2.44" height="7.40" fill="#fff"/>
<rect x="659.44" y="509.50" width="2.44" height="7.40" fill="#fff"/>
<rect x="663.19" y="509.50" width="2.44" height="7.40" fill="#fff"/>
<rect x="666.93" y="509.50" width="2.44" height="7.40" fill="#fff"/>
<rect x="670.67" y="509.50" width="2.44" height="7.40" fill="#fff"/>
<rect x="674.41" y="509.50" width="2.44" height="7.40" fill="#fff"/>
<rect x="678.16" y="509.50" width="2.44" height="7.40" fill="#fff"/>
<rect x="707.5999999999999" y="508.4" width="26.40000000000009" height="10.0" fill="#0000ff"/>
<rect x="708.70" y="509.50" width="2.00" height="7.40" fill="#fff"/>
<rect x="712.00" y="509.50" width="2.00" height="7.40" fill="#fff"/>
<rect x="715.30" y="509.50" width="2.00" height="7.40" fill="#fff"/>
<rect x="718.60" y="509.50" width="2.00" height="7.40" fill="#fff"/>
<rect x="721.90" y="509.50" width="2.00" height="7.40" fill="#fff"/>
<rect x="725.20" y="509.50" width="2.00" height="7.40" fill="#fff"/>
<rect x="728.50" y="509.50" width="2.00" height="7.40" fill="#fff"/>
<rect x="731.80" y="509.50" width="2.00" height="7.40" fill="#fff"/>
<rect x="760.8" y="508.4" width="26.5" height="10.0" fill="#0000ff"/>
<rect x="761.90" y="509.50" width="2.01" height="7.40" fill="#fff"/>
<rect x="765.21" y="509.50" width="2.01" height="7.40" fill="#fff"/>
<rect x="768.52" y="509.50" width="2.01" height="7.40" fill="#fff"/>
<rect x="771.84" y="509.50" width="2.01" height="7.40" fill="#fff"/>
<rect x="775.15" y="509.50" width="2.01" height="7.40" fill="#fff"/>
<rect x="778.46" y="509.50" width="2.01" height="7.40" fill="#fff"/>
<rect x="781.77" y="509.50" width="2.01" height="7.40" fill="#fff"/>
<rect x="785.09" y="509.50" width="2.01" height="7.40" fill="#fff"/>
<rect x="814.0999999999999" y="508.4" width="25.90000000000009" height="10.0" fill="#0000ff"/>
<rect x="815.20" y="509.50" width="2.40" height="7.40" fill="#fff"/>
<rect x="818.90" y="509.50" width="2.40" height="7.40" fill="#fff"/>
<rect x="822.60" y="509.50" width="2.40" height="7.40" fill="#fff"/>
<rect x="826.30" y="509.50" width="2.40" height="7.40" fill="#fff"/>
<rect x="830.00" y="509.50" width="2.40" height="7.40" fill="#fff"/>
<rect x="833.70" y="509.50" width="2.40" height="7.40" fill="#fff"/>
<rect x="837.40" y="509.50" width="2.40" height="7.40" fill="#fff"/>
<line x1="740.6" y1="147.5" x2="740.6" y2="316" stroke="#00ee00" stroke-width="3.6"/>
<line x1="740.6" y1="147.5" x2="740.6" y2="316" stroke="#fff" stroke-width="1.62" stroke-dasharray="1.6 1.7"/>
<line x1="675" y1="147.5" x2="740.6" y2="147.5" stroke="#00ee00" stroke-width="3.6"/>
<line x1="675" y1="147.5" x2="740.6" y2="147.5" stroke="#fff" stroke-width="1.62" stroke-dasharray="1.6 1.7"/>
<line x1="675" y1="75" x2="675" y2="147.5" stroke="#00ee00" stroke-width="3.6"/>
<line x1="675" y1="75" x2="675" y2="147.5" stroke="#fff" stroke-width="1.62" stroke-dasharray="1.6 1.7"/>
<line x1="584.8" y1="75" x2="675" y2="75" stroke="#00ee00" stroke-width="3.6"/>
<line x1="584.8" y1="75" x2="675" y2="75" stroke="#fff" stroke-width="1.62" stroke-dasharray="1.6 1.7"/>
<g transform="translate(90 312.6)"><rect x="0" y="0" width="26.8" height="66" rx="1.2" fill="#fff" stroke="#111" stroke-width="1.1"/><rect x="11.4" y="0.9" width="4" height="1.2" fill="#111"/><rect x="5.2" y="4.2" width="16.4" height="32.6" fill="none" stroke="#222" stroke-width="0.55" stroke-dasharray="1 0.8"/><rect x="10.0" y="5.4" width="6.8" height="7.6" fill="none" stroke="#888" stroke-width="0.6"/><circle cx="13.4" cy="9.5" r="2.4" fill="#fff" stroke="#111" stroke-width="1.5"/><rect x="0.6" y="36.9" width="25.6" height="3.8" fill="#eee" stroke="#333" stroke-width="0.5"/><rect x="0" y="41.0" width="20.3" height="19.6" fill="#050505"/><path d="M4 45 h2 M9 45 h2 M14 45 h2 M4 50 h2 M9 50 h2 M14 50 h2 M4 55 h2 M9 55 h2 M14 55 h2" stroke="#1c1c1c" stroke-width="2"/><rect x="20.5" y="41.5" width="5" height="9" fill="#fff" stroke="#111" stroke-width="0.6"/><rect x="20.3" y="50.8" width="5.8" height="9.6" fill="#151515"/><rect x="21.3" y="56.8" width="1.6" height="1.6" fill="#fff"/><rect x="23.6" y="56.8" width="1.6" height="1.6" fill="#fff"/><line x1="0.6" y1="60.6" x2="26.2" y2="60.6" stroke="#111" stroke-width="0.8"/><line x1="13.4" y1="61.8" x2="13.4" y2="64" stroke="#111" stroke-width="0.8"/></g>
<text x="103.4" y="341.0" font-size="9.2" text-anchor="middle" fill="#3c3c3c" textLength="13.6" lengthAdjust="spacingAndGlyphs" font-family="Liberation Sans">G13</text>
<g transform="translate(143 312.6)"><rect x="0" y="0" width="26.8" height="66" rx="1.2" fill="#fff" stroke="#111" stroke-width="1.1"/><rect x="11.4" y="0.9" width="4" height="1.2" fill="#111"/><rect x="5.2" y="4.2" width="16.4" height="32.6" fill="none" stroke="#222" stroke-width="0.55" stroke-dasharray="1 0.8"/><rect x="10.0" y="5.4" width="6.8" height="7.6" fill="none" stroke="#888" stroke-width="0.6"/><circle cx="13.4" cy="9.5" r="2.4" fill="#fff" stroke="#111" stroke-width="1.5"/><rect x="0.6" y="36.9" width="25.6" height="3.8" fill="#eee" stroke="#333" stroke-width="0.5"/><rect x="0" y="41.0" width="20.3" height="19.6" fill="#050505"/><path d="M4 45 h2 M9 45 h2 M14 45 h2 M4 50 h2 M9 50 h2 M14 50 h2 M4 55 h2 M9 55 h2 M14 55 h2" stroke="#1c1c1c" stroke-width="2"/><rect x="20.5" y="41.5" width="5" height="9" fill="#fff" stroke="#111" stroke-width="0.6"/><rect x="20.3" y="50.8" width="5.8" height="9.6" fill="#151515"/><rect x="21.3" y="56.8" width="1.6" height="1.6" fill="#fff"/><rect x="23.6" y="56.8" width="1.6" height="1.6" fill="#fff"/><line x1="0.6" y1="60.6" x2="26.2" y2="60.6" stroke="#111" stroke-width="0.8"/><line x1="13.4" y1="61.8" x2="13.4" y2="64" stroke="#111" stroke-width="0.8"/></g>
<text x="156.4" y="341.0" font-size="9.2" text-anchor="middle" fill="#3c3c3c" textLength="13.6" lengthAdjust="spacingAndGlyphs" font-family="Liberation Sans">G14</text>
<g transform="translate(196.2 312.6)"><rect x="0" y="0" width="26.8" height="66" rx="1.2" fill="#fff" stroke="#111" stroke-width="1.1"/><rect x="11.4" y="0.9" width="4" height="1.2" fill="#111"/><rect x="5.2" y="4.2" width="16.4" height="32.6" fill="none" stroke="#222" stroke-width="0.55" stroke-dasharray="1 0.8"/><rect x="10.0" y="5.4" width="6.8" height="7.6" fill="none" stroke="#888" stroke-width="0.6"/><circle cx="13.4" cy="9.5" r="2.4" fill="#fff" stroke="#111" stroke-width="1.5"/><rect x="0.6" y="36.9" width="25.6" height="3.8" fill="#eee" stroke="#333" stroke-width="0.5"/><rect x="0" y="41.0" width="20.3" height="19.6" fill="#050505"/><path d="M4 45 h2 M9 45 h2 M14 45 h2 M4 50 h2 M9 50 h2 M14 50 h2 M4 55 h2 M9 55 h2 M14 55 h2" stroke="#1c1c1c" stroke-width="2"/><rect x="20.5" y="41.5" width="5" height="9" fill="#fff" stroke="#111" stroke-width="0.6"/><rect x="20.3" y="50.8" width="5.8" height="9.6" fill="#151515"/><rect x="21.3" y="56.8" width="1.6" height="1.6" fill="#fff"/><rect x="23.6" y="56.8" width="1.6" height="1.6" fill="#fff"/><line x1="0.6" y1="60.6" x2="26.2" y2="60.6" stroke="#111" stroke-width="0.8"/><line x1="13.4" y1="61.8" x2="13.4" y2="64" stroke="#111" stroke-width="0.8"/></g>
<text x="209.6" y="341.0" font-size="9.2" text-anchor="middle" fill="#3c3c3c" textLength="13.6" lengthAdjust="spacingAndGlyphs" font-family="Liberation Sans">G15</text>
<rect x="250" y="312.6" width="26.8" height="66" fill="#e4e7ec" stroke="#26354a" stroke-width="1.3"/>
<rect x="255.6" y="314.6" width="20.00000000000003" height="62" fill="#fff" stroke="#7d8898" stroke-width="0.6"/>
<rect x="251.3" y="314.6" width="3" height="3.2" fill="none" stroke="#6b778a" stroke-width="0.5"/>
<rect x="251.3" y="373.4" width="3" height="3.2" fill="none" stroke="#6b778a" stroke-width="0.5"/>
<rect x="251.3" y="319.0" width="3" height="3.2" fill="none" stroke="#6b778a" stroke-width="0.5"/>
<rect x="251.3" y="369.0" width="3" height="3.2" fill="none" stroke="#6b778a" stroke-width="0.5"/>
<rect x="251.3" y="323.4" width="3" height="3.2" fill="none" stroke="#6b778a" stroke-width="0.5"/>
<rect x="251.3" y="364.6" width="3" height="3.2" fill="none" stroke="#6b778a" stroke-width="0.5"/>
<rect x="251.3" y="327.8" width="3" height="3.2" fill="none" stroke="#6b778a" stroke-width="0.5"/>
<rect x="251.3" y="360.2" width="3" height="3.2" fill="none" stroke="#6b778a" stroke-width="0.5"/>
<rect x="251.3" y="332.2" width="3" height="3.2" fill="none" stroke="#6b778a" stroke-width="0.5"/>
<rect x="251.3" y="355.8" width="3" height="3.2" fill="none" stroke="#6b778a" stroke-width="0.5"/>
<rect x="250.8" y="337.6" width="4" height="7.5" fill="#fff" stroke="#6b778a" stroke-width="0.5"/>
<rect x="250.8" y="345.6" width="4" height="7.5" fill="#fff" stroke="#6b778a" stroke-width="0.5"/>
<path d="M251 318.6 L247 322.6" stroke="#26354a" stroke-width="0.7"/>
<path d="M251 323.6 L247 327.6" stroke="#26354a" stroke-width="0.7"/>
<path d="M251 328.6 L247 332.6" stroke="#26354a" stroke-width="0.7"/>
<path d="M251 358.6 L247 362.6" stroke="#26354a" stroke-width="0.7"/>
<path d="M251 363.6 L247 367.6" stroke="#26354a" stroke-width="0.7"/>
<path d="M251 368.6 L247 372.6" stroke="#26354a" stroke-width="0.7"/>
<path d="M251 338.6 Q247 342.6 251 345.6 Q247 348.6 251 352.6" fill="none" stroke="#26354a" stroke-width="0.6"/>
<g transform="translate(266.3 346.0) rotate(90)"><text x="0" y="3.4" font-size="9.6" text-anchor="middle" fill="#111" textLength="45" lengthAdjust="spacingAndGlyphs">TX3_6.3MVA</text></g>
<g transform="translate(302.7 312.6)"><rect x="0" y="0" width="26.8" height="66" rx="1.2" fill="#fff" stroke="#111" stroke-width="1.1"/><rect x="11.4" y="0.9" width="4" height="1.2" fill="#111"/><rect x="5.2" y="4.2" width="16.4" height="32.6" fill="none" stroke="#222" stroke-width="0.55" stroke-dasharray="1 0.8"/><rect x="10.0" y="5.4" width="6.8" height="7.6" fill="none" stroke="#888" stroke-width="0.6"/><circle cx="13.4" cy="9.5" r="2.4" fill="#fff" stroke="#111" stroke-width="1.5"/><rect x="0.6" y="36.9" width="25.6" height="3.8" fill="#eee" stroke="#333" stroke-width="0.5"/><rect x="0" y="41.0" width="20.3" height="19.6" fill="#050505"/><path d="M4 45 h2 M9 45 h2 M14 45 h2 M4 50 h2 M9 50 h2 M14 50 h2 M4 55 h2 M9 55 h2 M14 55 h2" stroke="#1c1c1c" stroke-width="2"/><rect x="20.5" y="41.5" width="5" height="9" fill="#fff" stroke="#111" stroke-width="0.6"/><rect x="20.3" y="50.8" width="5.8" height="9.6" fill="#151515"/><rect x="21.3" y="56.8" width="1.6" height="1.6" fill="#fff"/><rect x="23.6" y="56.8" width="1.6" height="1.6" fill="#fff"/><line x1="0.6" y1="60.6" x2="26.2" y2="60.6" stroke="#111" stroke-width="0.8"/><line x1="13.4" y1="61.8" x2="13.4" y2="64" stroke="#111" stroke-width="0.8"/></g>
<text x="316.1" y="341.0" font-size="9.2" text-anchor="middle" fill="#3c3c3c" textLength="13.6" lengthAdjust="spacingAndGlyphs" font-family="Liberation Sans">G16</text>
<g transform="translate(355.5 312.6)"><rect x="0" y="0" width="26.8" height="66" rx="1.2" fill="#fff" stroke="#111" stroke-width="1.1"/><rect x="11.4" y="0.9" width="4" height="1.2" fill="#111"/><rect x="5.2" y="4.2" width="16.4" height="32.6" fill="none" stroke="#222" stroke-width="0.55" stroke-dasharray="1 0.8"/><rect x="10.0" y="5.4" width="6.8" height="7.6" fill="none" stroke="#888" stroke-width="0.6"/><circle cx="13.4" cy="9.5" r="2.4" fill="#fff" stroke="#111" stroke-width="1.5"/><rect x="0.6" y="36.9" width="25.6" height="3.8" fill="#eee" stroke="#333" stroke-width="0.5"/><rect x="0" y="41.0" width="20.3" height="19.6" fill="#050505"/><path d="M4 45 h2 M9 45 h2 M14 45 h2 M4 50 h2 M9 50 h2 M14 50 h2 M4 55 h2 M9 55 h2 M14 55 h2" stroke="#1c1c1c" stroke-width="2"/><rect x="20.5" y="41.5" width="5" height="9" fill="#fff" stroke="#111" stroke-width="0.6"/><rect x="20.3" y="50.8" width="5.8" height="9.6" fill="#151515"/><rect x="21.3" y="56.8" width="1.6" height="1.6" fill="#fff"/><rect x="23.6" y="56.8" width="1.6" height="1.6" fill="#fff"/><line x1="0.6" y1="60.6" x2="26.2" y2="60.6" stroke="#111" stroke-width="0.8"/><line x1="13.4" y1="61.8" x2="13.4" y2="64" stroke="#111" stroke-width="0.8"/></g>
<text x="368.9" y="341.0" font-size="9.2" text-anchor="middle" fill="#3c3c3c" textLength="13.6" lengthAdjust="spacingAndGlyphs" font-family="Liberation Sans">G17</text>
<g transform="translate(408.7 312.6)"><rect x="0" y="0" width="26.8" height="66" rx="1.2" fill="#fff" stroke="#111" stroke-width="1.1"/><rect x="11.4" y="0.9" width="4" height="1.2" fill="#111"/><rect x="5.2" y="4.2" width="16.4" height="32.6" fill="none" stroke="#222" stroke-width="0.55" stroke-dasharray="1 0.8"/><rect x="10.0" y="5.4" width="6.8" height="7.6" fill="none" stroke="#888" stroke-width="0.6"/><circle cx="13.4" cy="9.5" r="2.4" fill="#fff" stroke="#111" stroke-width="1.5"/><rect x="0.6" y="36.9" width="25.6" height="3.8" fill="#eee" stroke="#333" stroke-width="0.5"/><rect x="0" y="41.0" width="20.3" height="19.6" fill="#050505"/><path d="M4 45 h2 M9 45 h2 M14 45 h2 M4 50 h2 M9 50 h2 M14 50 h2 M4 55 h2 M9 55 h2 M14 55 h2" stroke="#1c1c1c" stroke-width="2"/><rect x="20.5" y="41.5" width="5" height="9" fill="#fff" stroke="#111" stroke-width="0.6"/><rect x="20.3" y="50.8" width="5.8" height="9.6" fill="#151515"/><rect x="21.3" y="56.8" width="1.6" height="1.6" fill="#fff"/><rect x="23.6" y="56.8" width="1.6" height="1.6" fill="#fff"/><line x1="0.6" y1="60.6" x2="26.2" y2="60.6" stroke="#111" stroke-width="0.8"/><line x1="13.4" y1="61.8" x2="13.4" y2="64" stroke="#111" stroke-width="0.8"/></g>
<text x="422.1" y="341.0" font-size="9.2" text-anchor="middle" fill="#3c3c3c" textLength="13.6" lengthAdjust="spacingAndGlyphs" font-family="Liberation Sans">G18</text>
<g transform="translate(521 312.6)"><rect x="0" y="0" width="26.8" height="66" rx="1.2" fill="#fff" stroke="#111" stroke-width="1.1"/><rect x="11.4" y="0.9" width="4" height="1.2" fill="#111"/><rect x="5.2" y="4.2" width="16.4" height="32.6" fill="none" stroke="#222" stroke-width="0.55" stroke-dasharray="1 0.8"/><rect x="10.0" y="5.4" width="6.8" height="7.6" fill="none" stroke="#888" stroke-width="0.6"/><circle cx="13.4" cy="9.5" r="2.4" fill="#fff" stroke="#111" stroke-width="1.5"/><rect x="0.6" y="36.9" width="25.6" height="3.8" fill="#eee" stroke="#333" stroke-width="0.5"/><rect x="0" y="41.0" width="20.3" height="19.6" fill="#050505"/><path d="M4 45 h2 M9 45 h2 M14 45 h2 M4 50 h2 M9 50 h2 M14 50 h2 M4 55 h2 M9 55 h2 M14 55 h2" stroke="#1c1c1c" stroke-width="2"/><rect x="20.5" y="41.5" width="5" height="9" fill="#fff" stroke="#111" stroke-width="0.6"/><rect x="20.3" y="50.8" width="5.8" height="9.6" fill="#151515"/><rect x="21.3" y="56.8" width="1.6" height="1.6" fill="#fff"/><rect x="23.6" y="56.8" width="1.6" height="1.6" fill="#fff"/><line x1="0.6" y1="60.6" x2="26.2" y2="60.6" stroke="#111" stroke-width="0.8"/><line x1="13.4" y1="61.8" x2="13.4" y2="64" stroke="#111" stroke-width="0.8"/></g>
<text x="534.4" y="341.0" font-size="9.2" text-anchor="middle" fill="#3c3c3c" textLength="13.6" lengthAdjust="spacingAndGlyphs" font-family="Liberation Sans">G19</text>
<g transform="translate(574.6 312.6)"><rect x="0" y="0" width="26.8" height="66" rx="1.2" fill="#fff" stroke="#111" stroke-width="1.1"/><rect x="11.4" y="0.9" width="4" height="1.2" fill="#111"/><rect x="5.2" y="4.2" width="16.4" height="32.6" fill="none" stroke="#222" stroke-width="0.55" stroke-dasharray="1 0.8"/><rect x="10.0" y="5.4" width="6.8" height="7.6" fill="none" stroke="#888" stroke-width="0.6"/><circle cx="13.4" cy="9.5" r="2.4" fill="#fff" stroke="#111" stroke-width="1.5"/><rect x="0.6" y="36.9" width="25.6" height="3.8" fill="#eee" stroke="#333" stroke-width="0.5"/><rect x="0" y="41.0" width="20.3" height="19.6" fill="#050505"/><path d="M4 45 h2 M9 45 h2 M14 45 h2 M4 50 h2 M9 50 h2 M14 50 h2 M4 55 h2 M9 55 h2 M14 55 h2" stroke="#1c1c1c" stroke-width="2"/><rect x="20.5" y="41.5" width="5" height="9" fill="#fff" stroke="#111" stroke-width="0.6"/><rect x="20.3" y="50.8" width="5.8" height="9.6" fill="#151515"/><rect x="21.3" y="56.8" width="1.6" height="1.6" fill="#fff"/><rect x="23.6" y="56.8" width="1.6" height="1.6" fill="#fff"/><line x1="0.6" y1="60.6" x2="26.2" y2="60.6" stroke="#111" stroke-width="0.8"/><line x1="13.4" y1="61.8" x2="13.4" y2="64" stroke="#111" stroke-width="0.8"/></g>
<text x="588.0" y="341.0" font-size="9.2" text-anchor="middle" fill="#3c3c3c" textLength="13.6" lengthAdjust="spacingAndGlyphs" font-family="Liberation Sans">G20</text>
<g transform="translate(627.6 312.6)"><rect x="0" y="0" width="26.8" height="66" rx="1.2" fill="#fff" stroke="#111" stroke-width="1.1"/><rect x="11.4" y="0.9" width="4" height="1.2" fill="#111"/><rect x="5.2" y="4.2" width="16.4" height="32.6" fill="none" stroke="#222" stroke-width="0.55" stroke-dasharray="1 0.8"/><rect x="10.0" y="5.4" width="6.8" height="7.6" fill="none" stroke="#888" stroke-width="0.6"/><circle cx="13.4" cy="9.5" r="2.4" fill="#fff" stroke="#111" stroke-width="1.5"/><rect x="0.6" y="36.9" width="25.6" height="3.8" fill="#eee" stroke="#333" stroke-width="0.5"/><rect x="0" y="41.0" width="20.3" height="19.6" fill="#050505"/><path d="M4 45 h2 M9 45 h2 M14 45 h2 M4 50 h2 M9 50 h2 M14 50 h2 M4 55 h2 M9 55 h2 M14 55 h2" stroke="#1c1c1c" stroke-width="2"/><rect x="20.5" y="41.5" width="5" height="9" fill="#fff" stroke="#111" stroke-width="0.6"/><rect x="20.3" y="50.8" width="5.8" height="9.6" fill="#151515"/><rect x="21.3" y="56.8" width="1.6" height="1.6" fill="#fff"/><rect x="23.6" y="56.8" width="1.6" height="1.6" fill="#fff"/><line x1="0.6" y1="60.6" x2="26.2" y2="60.6" stroke="#111" stroke-width="0.8"/><line x1="13.4" y1="61.8" x2="13.4" y2="64" stroke="#111" stroke-width="0.8"/></g>
<text x="641.0" y="341.0" font-size="9.2" text-anchor="middle" fill="#3c3c3c" textLength="13.6" lengthAdjust="spacingAndGlyphs" font-family="Liberation Sans">G21</text>
<rect x="676.3" y="312.6" width="26.8" height="66" fill="#e4e7ec" stroke="#26354a" stroke-width="1.3"/>
<rect x="681.9" y="314.6" width="19.999999999999886" height="62" fill="#fff" stroke="#7d8898" stroke-width="0.6"/>
<rect x="677.5999999999999" y="314.6" width="3" height="3.2" fill="none" stroke="#6b778a" stroke-width="0.5"/>
<rect x="677.5999999999999" y="373.4" width="3" height="3.2" fill="none" stroke="#6b778a" stroke-width="0.5"/>
<rect x="677.5999999999999" y="319.0" width="3" height="3.2" fill="none" stroke="#6b778a" stroke-width="0.5"/>
<rect x="677.5999999999999" y="369.0" width="3" height="3.2" fill="none" stroke="#6b778a" stroke-width="0.5"/>
<rect x="677.5999999999999" y="323.4" width="3" height="3.2" fill="none" stroke="#6b778a" stroke-width="0.5"/>
<rect x="677.5999999999999" y="364.6" width="3" height="3.2" fill="none" stroke="#6b778a" stroke-width="0.5"/>
<rect x="677.5999999999999" y="327.8" width="3" height="3.2" fill="none" stroke="#6b778a" stroke-width="0.5"/>
<rect x="677.5999999999999" y="360.2" width="3" height="3.2" fill="none" stroke="#6b778a" stroke-width="0.5"/>
<rect x="677.5999999999999" y="332.2" width="3" height="3.2" fill="none" stroke="#6b778a" stroke-width="0.5"/>
<rect x="677.5999999999999" y="355.8" width="3" height="3.2" fill="none" stroke="#6b778a" stroke-width="0.5"/>
<rect x="677.0999999999999" y="337.6" width="4" height="7.5" fill="#fff" stroke="#6b778a" stroke-width="0.5"/>
<rect x="677.0999999999999" y="345.6" width="4" height="7.5" fill="#fff" stroke="#6b778a" stroke-width="0.5"/>
<path d="M677.3 318.6 L673.3 322.6" stroke="#26354a" stroke-width="0.7"/>
<path d="M677.3 323.6 L673.3 327.6" stroke="#26354a" stroke-width="0.7"/>
<path d="M677.3 328.6 L673.3 332.6" stroke="#26354a" stroke-width="0.7"/>
<path d="M677.3 358.6 L673.3 362.6" stroke="#26354a" stroke-width="0.7"/>
<path d="M677.3 363.6 L673.3 367.6" stroke="#26354a" stroke-width="0.7"/>
<path d="M677.3 368.6 L673.3 372.6" stroke="#26354a" stroke-width="0.7"/>
<path d="M677.3 338.6 Q673.3 342.6 677.3 345.6 Q673.3 348.6 677.3 352.6" fill="none" stroke="#26354a" stroke-width="0.6"/>
<g transform="translate(690.4 346.0) rotate(-90)"><text x="0" y="3.4" font-size="9.6" text-anchor="middle" fill="#111" textLength="45" lengthAdjust="spacingAndGlyphs">TX4_6.3MVA</text></g>
<g transform="translate(729.3 312.6)"><rect x="0" y="0" width="26.8" height="66" rx="1.2" fill="#fff" stroke="#111" stroke-width="1.1"/><rect x="11.4" y="0.9" width="4" height="1.2" fill="#111"/><rect x="5.2" y="4.2" width="16.4" height="32.6" fill="none" stroke="#222" stroke-width="0.55" stroke-dasharray="1 0.8"/><rect x="10.0" y="5.4" width="6.8" height="7.6" fill="none" stroke="#888" stroke-width="0.6"/><circle cx="13.4" cy="9.5" r="2.4" fill="#fff" stroke="#111" stroke-width="1.5"/><rect x="0.6" y="36.9" width="25.6" height="3.8" fill="#eee" stroke="#333" stroke-width="0.5"/><rect x="0" y="41.0" width="20.3" height="19.6" fill="#050505"/><path d="M4 45 h2 M9 45 h2 M14 45 h2 M4 50 h2 M9 50 h2 M14 50 h2 M4 55 h2 M9 55 h2 M14 55 h2" stroke="#1c1c1c" stroke-width="2"/><rect x="20.5" y="41.5" width="5" height="9" fill="#fff" stroke="#111" stroke-width="0.6"/><rect x="20.3" y="50.8" width="5.8" height="9.6" fill="#151515"/><rect x="21.3" y="56.8" width="1.6" height="1.6" fill="#fff"/><rect x="23.6" y="56.8" width="1.6" height="1.6" fill="#fff"/><line x1="0.6" y1="60.6" x2="26.2" y2="60.6" stroke="#111" stroke-width="0.8"/><line x1="13.4" y1="61.8" x2="13.4" y2="64" stroke="#111" stroke-width="0.8"/></g>
<text x="742.7" y="341.0" font-size="9.2" text-anchor="middle" fill="#3c3c3c" textLength="13.6" lengthAdjust="spacingAndGlyphs" font-family="Liberation Sans">G22</text>
<g transform="translate(116.8 530.1) rotate(180)"><rect x="0" y="0" width="26.8" height="66" rx="1.2" fill="#fff" stroke="#111" stroke-width="1.1"/><rect x="11.4" y="0.9" width="4" height="1.2" fill="#111"/><rect x="5.2" y="4.2" width="16.4" height="32.6" fill="none" stroke="#222" stroke-width="0.55" stroke-dasharray="1 0.8"/><rect x="10.0" y="5.4" width="6.8" height="7.6" fill="none" stroke="#888" stroke-width="0.6"/><circle cx="13.4" cy="9.5" r="2.4" fill="#fff" stroke="#111" stroke-width="1.5"/><rect x="0.6" y="36.9" width="25.6" height="3.8" fill="#eee" stroke="#333" stroke-width="0.5"/><rect x="0" y="41.0" width="20.3" height="19.6" fill="#050505"/><path d="M4 45 h2 M9 45 h2 M14 45 h2 M4 50 h2 M9 50 h2 M14 50 h2 M4 55 h2 M9 55 h2 M14 55 h2" stroke="#1c1c1c" stroke-width="2"/><rect x="20.5" y="41.5" width="5" height="9" fill="#fff" stroke="#111" stroke-width="0.6"/><rect x="20.3" y="50.8" width="5.8" height="9.6" fill="#151515"/><rect x="21.3" y="56.8" width="1.6" height="1.6" fill="#fff"/><rect x="23.6" y="56.8" width="1.6" height="1.6" fill="#fff"/><line x1="0.6" y1="60.6" x2="26.2" y2="60.6" stroke="#111" stroke-width="0.8"/><line x1="13.4" y1="61.8" x2="13.4" y2="64" stroke="#111" stroke-width="0.8"/></g>
<text x="103.4" y="508.4" font-size="9.2" text-anchor="middle" fill="#3c3c3c" textLength="13.6" lengthAdjust="spacingAndGlyphs" font-family="Liberation Sans">G12</text>
<g transform="translate(169.8 530.1) rotate(180)"><rect x="0" y="0" width="26.8" height="66" rx="1.2" fill="#fff" stroke="#111" stroke-width="1.1"/><rect x="11.4" y="0.9" width="4" height="1.2" fill="#111"/><rect x="5.2" y="4.2" width="16.4" height="32.6" fill="none" stroke="#222" stroke-width="0.55" stroke-dasharray="1 0.8"/><rect x="10.0" y="5.4" width="6.8" height="7.6" fill="none" stroke="#888" stroke-width="0.6"/><circle cx="13.4" cy="9.5" r="2.4" fill="#fff" stroke="#111" stroke-width="1.5"/><rect x="0.6" y="36.9" width="25.6" height="3.8" fill="#eee" stroke="#333" stroke-width="0.5"/><rect x="0" y="41.0" width="20.3" height="19.6" fill="#050505"/><path d="M4 45 h2 M9 45 h2 M14 45 h2 M4 50 h2 M9 50 h2 M14 50 h2 M4 55 h2 M9 55 h2 M14 55 h2" stroke="#1c1c1c" stroke-width="2"/><rect x="20.5" y="41.5" width="5" height="9" fill="#fff" stroke="#111" stroke-width="0.6"/><rect x="20.3" y="50.8" width="5.8" height="9.6" fill="#151515"/><rect x="21.3" y="56.8" width="1.6" height="1.6" fill="#fff"/><rect x="23.6" y="56.8" width="1.6" height="1.6" fill="#fff"/><line x1="0.6" y1="60.6" x2="26.2" y2="60.6" stroke="#111" stroke-width="0.8"/><line x1="13.4" y1="61.8" x2="13.4" y2="64" stroke="#111" stroke-width="0.8"/></g>
<text x="156.4" y="508.4" font-size="9.2" text-anchor="middle" fill="#3c3c3c" textLength="13.6" lengthAdjust="spacingAndGlyphs" font-family="Liberation Sans">G11</text>
<g transform="translate(223.0 530.1) rotate(180)"><rect x="0" y="0" width="26.8" height="66" rx="1.2" fill="#fff" stroke="#111" stroke-width="1.1"/><rect x="11.4" y="0.9" width="4" height="1.2" fill="#111"/><rect x="5.2" y="4.2" width="16.4" height="32.6" fill="none" stroke="#222" stroke-width="0.55" stroke-dasharray="1 0.8"/><rect x="10.0" y="5.4" width="6.8" height="7.6" fill="none" stroke="#888" stroke-width="0.6"/><circle cx="13.4" cy="9.5" r="2.4" fill="#fff" stroke="#111" stroke-width="1.5"/><rect x="0.6" y="36.9" width="25.6" height="3.8" fill="#eee" stroke="#333" stroke-width="0.5"/><rect x="0" y="41.0" width="20.3" height="19.6" fill="#050505"/><path d="M4 45 h2 M9 45 h2 M14 45 h2 M4 50 h2 M9 50 h2 M14 50 h2 M4 55 h2 M9 55 h2 M14 55 h2" stroke="#1c1c1c" stroke-width="2"/><rect x="20.5" y="41.5" width="5" height="9" fill="#fff" stroke="#111" stroke-width="0.6"/><rect x="20.3" y="50.8" width="5.8" height="9.6" fill="#151515"/><rect x="21.3" y="56.8" width="1.6" height="1.6" fill="#fff"/><rect x="23.6" y="56.8" width="1.6" height="1.6" fill="#fff"/><line x1="0.6" y1="60.6" x2="26.2" y2="60.6" stroke="#111" stroke-width="0.8"/><line x1="13.4" y1="61.8" x2="13.4" y2="64" stroke="#111" stroke-width="0.8"/></g>
<text x="209.6" y="508.4" font-size="9.2" text-anchor="middle" fill="#3c3c3c" textLength="13.6" lengthAdjust="spacingAndGlyphs" font-family="Liberation Sans">G10</text>
<rect x="250" y="464.1" width="26.8" height="66" fill="#e4e7ec" stroke="#26354a" stroke-width="1.3"/>
<rect x="251.2" y="466.1" width="20.0" height="62" fill="#fff" stroke="#7d8898" stroke-width="0.6"/>
<rect x="272.5" y="466.1" width="3" height="3.2" fill="none" stroke="#6b778a" stroke-width="0.5"/>
<rect x="272.5" y="524.9" width="3" height="3.2" fill="none" stroke="#6b778a" stroke-width="0.5"/>
<rect x="272.5" y="470.5" width="3" height="3.2" fill="none" stroke="#6b778a" stroke-width="0.5"/>
<rect x="272.5" y="520.5" width="3" height="3.2" fill="none" stroke="#6b778a" stroke-width="0.5"/>
<rect x="272.5" y="474.9" width="3" height="3.2" fill="none" stroke="#6b778a" stroke-width="0.5"/>
<rect x="272.5" y="516.1" width="3" height="3.2" fill="none" stroke="#6b778a" stroke-width="0.5"/>
<rect x="272.5" y="479.3" width="3" height="3.2" fill="none" stroke="#6b778a" stroke-width="0.5"/>
<rect x="272.5" y="511.7" width="3" height="3.2" fill="none" stroke="#6b778a" stroke-width="0.5"/>
<rect x="272.5" y="483.7" width="3" height="3.2" fill="none" stroke="#6b778a" stroke-width="0.5"/>
<rect x="272.5" y="507.3" width="3" height="3.2" fill="none" stroke="#6b778a" stroke-width="0.5"/>
<rect x="272.0" y="489.1" width="4" height="7.5" fill="#fff" stroke="#6b778a" stroke-width="0.5"/>
<rect x="272.0" y="497.1" width="4" height="7.5" fill="#fff" stroke="#6b778a" stroke-width="0.5"/>
<path d="M275.8 473.1 L279.8 469.1" stroke="#26354a" stroke-width="0.7"/>
<path d="M275.8 478.1 L279.8 474.1" stroke="#26354a" stroke-width="0.7"/>
<path d="M275.8 483.1 L279.8 479.1" stroke="#26354a" stroke-width="0.7"/>
<path d="M275.8 513.1 L279.8 509.1" stroke="#26354a" stroke-width="0.7"/>
<path d="M275.8 518.1 L279.8 514.1" stroke="#26354a" stroke-width="0.7"/>
<path d="M275.8 523.1 L279.8 519.1" stroke="#26354a" stroke-width="0.7"/>
<g transform="translate(262.3 497.5) rotate(90)"><text x="0" y="3.4" font-size="9.6" text-anchor="middle" fill="#111" textLength="45" lengthAdjust="spacingAndGlyphs">TX2_6.3MVA</text></g>
<g transform="translate(329.5 530.1) rotate(180)"><rect x="0" y="0" width="26.8" height="66" rx="1.2" fill="#fff" stroke="#111" stroke-width="1.1"/><rect x="11.4" y="0.9" width="4" height="1.2" fill="#111"/><rect x="5.2" y="4.2" width="16.4" height="32.6" fill="none" stroke="#222" stroke-width="0.55" stroke-dasharray="1 0.8"/><rect x="10.0" y="5.4" width="6.8" height="7.6" fill="none" stroke="#888" stroke-width="0.6"/><circle cx="13.4" cy="9.5" r="2.4" fill="#fff" stroke="#111" stroke-width="1.5"/><rect x="0.6" y="36.9" width="25.6" height="3.8" fill="#eee" stroke="#333" stroke-width="0.5"/><rect x="0" y="41.0" width="20.3" height="19.6" fill="#050505"/><path d="M4 45 h2 M9 45 h2 M14 45 h2 M4 50 h2 M9 50 h2 M14 50 h2 M4 55 h2 M9 55 h2 M14 55 h2" stroke="#1c1c1c" stroke-width="2"/><rect x="20.5" y="41.5" width="5" height="9" fill="#fff" stroke="#111" stroke-width="0.6"/><rect x="20.3" y="50.8" width="5.8" height="9.6" fill="#151515"/><rect x="21.3" y="56.8" width="1.6" height="1.6" fill="#fff"/><rect x="23.6" y="56.8" width="1.6" height="1.6" fill="#fff"/><line x1="0.6" y1="60.6" x2="26.2" y2="60.6" stroke="#111" stroke-width="0.8"/><line x1="13.4" y1="61.8" x2="13.4" y2="64" stroke="#111" stroke-width="0.8"/></g>
<text x="316.1" y="508.4" font-size="9.2" text-anchor="middle" fill="#3c3c3c" textLength="13.6" lengthAdjust="spacingAndGlyphs" font-family="Liberation Sans">G09</text>
<g transform="translate(382.3 530.1) rotate(180)"><rect x="0" y="0" width="26.8" height="66" rx="1.2" fill="#fff" stroke="#111" stroke-width="1.1"/><rect x="11.4" y="0.9" width="4" height="1.2" fill="#111"/><rect x="5.2" y="4.2" width="16.4" height="32.6" fill="none" stroke="#222" stroke-width="0.55" stroke-dasharray="1 0.8"/><rect x="10.0" y="5.4" width="6.8" height="7.6" fill="none" stroke="#888" stroke-width="0.6"/><circle cx="13.4" cy="9.5" r="2.4" fill="#fff" stroke="#111" stroke-width="1.5"/><rect x="0.6" y="36.9" width="25.6" height="3.8" fill="#eee" stroke="#333" stroke-width="0.5"/><rect x="0" y="41.0" width="20.3" height="19.6" fill="#050505"/><path d="M4 45 h2 M9 45 h2 M14 45 h2 M4 50 h2 M9 50 h2 M14 50 h2 M4 55 h2 M9 55 h2 M14 55 h2" stroke="#1c1c1c" stroke-width="2"/><rect x="20.5" y="41.5" width="5" height="9" fill="#fff" stroke="#111" stroke-width="0.6"/><rect x="20.3" y="50.8" width="5.8" height="9.6" fill="#151515"/><rect x="21.3" y="56.8" width="1.6" height="1.6" fill="#fff"/><rect x="23.6" y="56.8" width="1.6" height="1.6" fill="#fff"/><line x1="0.6" y1="60.6" x2="26.2" y2="60.6" stroke="#111" stroke-width="0.8"/><line x1="13.4" y1="61.8" x2="13.4" y2="64" stroke="#111" stroke-width="0.8"/></g>
<text x="368.9" y="508.4" font-size="9.2" text-anchor="middle" fill="#3c3c3c" textLength="13.6" lengthAdjust="spacingAndGlyphs" font-family="Liberation Sans">G08</text>
<g transform="translate(435.5 530.1) rotate(180)"><rect x="0" y="0" width="26.8" height="66" rx="1.2" fill="#fff" stroke="#111" stroke-width="1.1"/><rect x="11.4" y="0.9" width="4" height="1.2" fill="#111"/><rect x="5.2" y="4.2" width="16.4" height="32.6" fill="none" stroke="#222" stroke-width="0.55" stroke-dasharray="1 0.8"/><rect x="10.0" y="5.4" width="6.8" height="7.6" fill="none" stroke="#888" stroke-width="0.6"/><circle cx="13.4" cy="9.5" r="2.4" fill="#fff" stroke="#111" stroke-width="1.5"/><rect x="0.6" y="36.9" width="25.6" height="3.8" fill="#eee" stroke="#333" stroke-width="0.5"/><rect x="0" y="41.0" width="20.3" height="19.6" fill="#050505"/><path d="M4 45 h2 M9 45 h2 M14 45 h2 M4 50 h2 M9 50 h2 M14 50 h2 M4 55 h2 M9 55 h2 M14 55 h2" stroke="#1c1c1c" stroke-width="2"/><rect x="20.5" y="41.5" width="5" height="9" fill="#fff" stroke="#111" stroke-width="0.6"/><rect x="20.3" y="50.8" width="5.8" height="9.6" fill="#151515"/><rect x="21.3" y="56.8" width="1.6" height="1.6" fill="#fff"/><rect x="23.6" y="56.8" width="1.6" height="1.6" fill="#fff"/><line x1="0.6" y1="60.6" x2="26.2" y2="60.6" stroke="#111" stroke-width="0.8"/><line x1="13.4" y1="61.8" x2="13.4" y2="64" stroke="#111" stroke-width="0.8"/></g>
<text x="422.1" y="508.4" font-size="9.2" text-anchor="middle" fill="#3c3c3c" textLength="13.6" lengthAdjust="spacingAndGlyphs" font-family="Liberation Sans">G07</text>
<g transform="translate(547.8 530.1) rotate(180)"><rect x="0" y="0" width="26.8" height="66" rx="1.2" fill="#fff" stroke="#111" stroke-width="1.1"/><rect x="11.4" y="0.9" width="4" height="1.2" fill="#111"/><rect x="5.2" y="4.2" width="16.4" height="32.6" fill="none" stroke="#222" stroke-width="0.55" stroke-dasharray="1 0.8"/><rect x="10.0" y="5.4" width="6.8" height="7.6" fill="none" stroke="#888" stroke-width="0.6"/><circle cx="13.4" cy="9.5" r="2.4" fill="#fff" stroke="#111" stroke-width="1.5"/><rect x="0.6" y="36.9" width="25.6" height="3.8" fill="#eee" stroke="#333" stroke-width="0.5"/><rect x="0" y="41.0" width="20.3" height="19.6" fill="#050505"/><path d="M4 45 h2 M9 45 h2 M14 45 h2 M4 50 h2 M9 50 h2 M14 50 h2 M4 55 h2 M9 55 h2 M14 55 h2" stroke="#1c1c1c" stroke-width="2"/><rect x="20.5" y="41.5" width="5" height="9" fill="#fff" stroke="#111" stroke-width="0.6"/><rect x="20.3" y="50.8" width="5.8" height="9.6" fill="#151515"/><rect x="21.3" y="56.8" width="1.6" height="1.6" fill="#fff"/><rect x="23.6" y="56.8" width="1.6" height="1.6" fill="#fff"/><line x1="0.6" y1="60.6" x2="26.2" y2="60.6" stroke="#111" stroke-width="0.8"/><line x1="13.4" y1="61.8" x2="13.4" y2="64" stroke="#111" stroke-width="0.8"/></g>
<text x="534.4" y="508.4" font-size="9.2" text-anchor="middle" fill="#3c3c3c" textLength="13.6" lengthAdjust="spacingAndGlyphs" font-family="Liberation Sans">G06</text>
<g transform="translate(601.4 530.1) rotate(180)"><rect x="0" y="0" width="26.8" height="66" rx="1.2" fill="#fff" stroke="#111" stroke-width="1.1"/><rect x="11.4" y="0.9" width="4" height="1.2" fill="#111"/><rect x="5.2" y="4.2" width="16.4" height="32.6" fill="none" stroke="#222" stroke-width="0.55" stroke-dasharray="1 0.8"/><rect x="10.0" y="5.4" width="6.8" height="7.6" fill="none" stroke="#888" stroke-width="0.6"/><circle cx="13.4" cy="9.5" r="2.4" fill="#fff" stroke="#111" stroke-width="1.5"/><rect x="0.6" y="36.9" width="25.6" height="3.8" fill="#eee" stroke="#333" stroke-width="0.5"/><rect x="0" y="41.0" width="20.3" height="19.6" fill="#050505"/><path d="M4 45 h2 M9 45 h2 M14 45 h2 M4 50 h2 M9 50 h2 M14 50 h2 M4 55 h2 M9 55 h2 M14 55 h2" stroke="#1c1c1c" stroke-width="2"/><rect x="20.5" y="41.5" width="5" height="9" fill="#fff" stroke="#111" stroke-width="0.6"/><rect x="20.3" y="50.8" width="5.8" height="9.6" fill="#151515"/><rect x="21.3" y="56.8" width="1.6" height="1.6" fill="#fff"/><rect x="23.6" y="56.8" width="1.6" height="1.6" fill="#fff"/><line x1="0.6" y1="60.6" x2="26.2" y2="60.6" stroke="#111" stroke-width="0.8"/><line x1="13.4" y1="61.8" x2="13.4" y2="64" stroke="#111" stroke-width="0.8"/></g>
<text x="588.0" y="508.4" font-size="9.2" text-anchor="middle" fill="#3c3c3c" textLength="13.6" lengthAdjust="spacingAndGlyphs" font-family="Liberation Sans">G05</text>
<g transform="translate(654.5999999999999 530.1) rotate(180)"><rect x="0" y="0" width="26.8" height="66" rx="1.2" fill="#fff" stroke="#111" stroke-width="1.1"/><rect x="11.4" y="0.9" width="4" height="1.2" fill="#111"/><rect x="5.2" y="4.2" width="16.4" height="32.6" fill="none" stroke="#222" stroke-width="0.55" stroke-dasharray="1 0.8"/><rect x="10.0" y="5.4" width="6.8" height="7.6" fill="none" stroke="#888" stroke-width="0.6"/><circle cx="13.4" cy="9.5" r="2.4" fill="#fff" stroke="#111" stroke-width="1.5"/><rect x="0.6" y="36.9" width="25.6" height="3.8" fill="#eee" stroke="#333" stroke-width="0.5"/><rect x="0" y="41.0" width="20.3" height="19.6" fill="#050505"/><path d="M4 45 h2 M9 45 h2 M14 45 h2 M4 50 h2 M9 50 h2 M14 50 h2 M4 55 h2 M9 55 h2 M14 55 h2" stroke="#1c1c1c" stroke-width="2"/><rect x="20.5" y="41.5" width="5" height="9" fill="#fff" stroke="#111" stroke-width="0.6"/><rect x="20.3" y="50.8" width="5.8" height="9.6" fill="#151515"/><rect x="21.3" y="56.8" width="1.6" height="1.6" fill="#fff"/><rect x="23.6" y="56.8" width="1.6" height="1.6" fill="#fff"/><line x1="0.6" y1="60.6" x2="26.2" y2="60.6" stroke="#111" stroke-width="0.8"/><line x1="13.4" y1="61.8" x2="13.4" y2="64" stroke="#111" stroke-width="0.8"/></g>
<text x="641.2" y="508.4" font-size="9.2" text-anchor="middle" fill="#3c3c3c" textLength="13.6" lengthAdjust="spacingAndGlyphs" font-family="Liberation Sans">G04</text>
<rect x="680.8" y="464.1" width="26.8" height="66" fill="#e4e7ec" stroke="#26354a" stroke-width="1.3"/>
<rect x="682.0" y="466.1" width="19.999999999999886" height="62" fill="#fff" stroke="#7d8898" stroke-width="0.6"/>
<rect x="703.2999999999998" y="466.1" width="3" height="3.2" fill="none" stroke="#6b778a" stroke-width="0.5"/>
<rect x="703.2999999999998" y="524.9" width="3" height="3.2" fill="none" stroke="#6b778a" stroke-width="0.5"/>
<rect x="703.2999999999998" y="470.5" width="3" height="3.2" fill="none" stroke="#6b778a" stroke-width="0.5"/>
<rect x="703.2999999999998" y="520.5" width="3" height="3.2" fill="none" stroke="#6b778a" stroke-width="0.5"/>
<rect x="703.2999999999998" y="474.9" width="3" height="3.2" fill="none" stroke="#6b778a" stroke-width="0.5"/>
<rect x="703.2999999999998" y="516.1" width="3" height="3.2" fill="none" stroke="#6b778a" stroke-width="0.5"/>
<rect x="703.2999999999998" y="479.3" width="3" height="3.2" fill="none" stroke="#6b778a" stroke-width="0.5"/>
<rect x="703.2999999999998" y="511.7" width="3" height="3.2" fill="none" stroke="#6b778a" stroke-width="0.5"/>
<rect x="703.2999999999998" y="483.7" width="3" height="3.2" fill="none" stroke="#6b778a" stroke-width="0.5"/>
<rect x="703.2999999999998" y="507.3" width="3" height="3.2" fill="none" stroke="#6b778a" stroke-width="0.5"/>
<rect x="702.7999999999998" y="489.1" width="4" height="7.5" fill="#fff" stroke="#6b778a" stroke-width="0.5"/>
<rect x="702.7999999999998" y="497.1" width="4" height="7.5" fill="#fff" stroke="#6b778a" stroke-width="0.5"/>
<path d="M706.5999999999999 473.1 L710.5999999999999 469.1" stroke="#26354a" stroke-width="0.7"/>
<path d="M706.5999999999999 478.1 L710.5999999999999 474.1" stroke="#26354a" stroke-width="0.7"/>
<path d="M706.5999999999999 483.1 L710.5999999999999 479.1" stroke="#26354a" stroke-width="0.7"/>
<path d="M706.5999999999999 513.1 L710.5999999999999 509.1" stroke="#26354a" stroke-width="0.7"/>
<path d="M706.5999999999999 518.1 L710.5999999999999 514.1" stroke="#26354a" stroke-width="0.7"/>
<path d="M706.5999999999999 523.1 L710.5999999999999 519.1" stroke="#26354a" stroke-width="0.7"/>
<g transform="translate(690.9 497.5) rotate(-90)"><text x="0" y="3.4" font-size="9.6" text-anchor="middle" fill="#111" textLength="45" lengthAdjust="spacingAndGlyphs">TX1_6.3MVA</text></g>
<g transform="translate(760.8 530.1) rotate(180)"><rect x="0" y="0" width="26.8" height="66" rx="1.2" fill="#fff" stroke="#111" stroke-width="1.1"/><rect x="11.4" y="0.9" width="4" height="1.2" fill="#111"/><rect x="5.2" y="4.2" width="16.4" height="32.6" fill="none" stroke="#222" stroke-width="0.55" stroke-dasharray="1 0.8"/><rect x="10.0" y="5.4" width="6.8" height="7.6" fill="none" stroke="#888" stroke-width="0.6"/><circle cx="13.4" cy="9.5" r="2.4" fill="#fff" stroke="#111" stroke-width="1.5"/><rect x="0.6" y="36.9" width="25.6" height="3.8" fill="#eee" stroke="#333" stroke-width="0.5"/><rect x="0" y="41.0" width="20.3" height="19.6" fill="#050505"/><path d="M4 45 h2 M9 45 h2 M14 45 h2 M4 50 h2 M9 50 h2 M14 50 h2 M4 55 h2 M9 55 h2 M14 55 h2" stroke="#1c1c1c" stroke-width="2"/><rect x="20.5" y="41.5" width="5" height="9" fill="#fff" stroke="#111" stroke-width="0.6"/><rect x="20.3" y="50.8" width="5.8" height="9.6" fill="#151515"/><rect x="21.3" y="56.8" width="1.6" height="1.6" fill="#fff"/><rect x="23.6" y="56.8" width="1.6" height="1.6" fill="#fff"/><line x1="0.6" y1="60.6" x2="26.2" y2="60.6" stroke="#111" stroke-width="0.8"/><line x1="13.4" y1="61.8" x2="13.4" y2="64" stroke="#111" stroke-width="0.8"/></g>
<text x="747.4" y="508.4" font-size="9.2" text-anchor="middle" fill="#3c3c3c" textLength="13.6" lengthAdjust="spacingAndGlyphs" font-family="Liberation Sans">G03</text>
<g transform="translate(814.0999999999999 530.1) rotate(180)"><rect x="0" y="0" width="26.8" height="66" rx="1.2" fill="#fff" stroke="#111" stroke-width="1.1"/><rect x="11.4" y="0.9" width="4" height="1.2" fill="#111"/><rect x="5.2" y="4.2" width="16.4" height="32.6" fill="none" stroke="#222" stroke-width="0.55" stroke-dasharray="1 0.8"/><rect x="10.0" y="5.4" width="6.8" height="7.6" fill="none" stroke="#888" stroke-width="0.6"/><circle cx="13.4" cy="9.5" r="2.4" fill="#fff" stroke="#111" stroke-width="1.5"/><rect x="0.6" y="36.9" width="25.6" height="3.8" fill="#eee" stroke="#333" stroke-width="0.5"/><rect x="0" y="41.0" width="20.3" height="19.6" fill="#050505"/><path d="M4 45 h2 M9 45 h2 M14 45 h2 M4 50 h2 M9 50 h2 M14 50 h2 M4 55 h2 M9 55 h2 M14 55 h2" stroke="#1c1c1c" stroke-width="2"/><rect x="20.5" y="41.5" width="5" height="9" fill="#fff" stroke="#111" stroke-width="0.6"/><rect x="20.3" y="50.8" width="5.8" height="9.6" fill="#151515"/><rect x="21.3" y="56.8" width="1.6" height="1.6" fill="#fff"/><rect x="23.6" y="56.8" width="1.6" height="1.6" fill="#fff"/><line x1="0.6" y1="60.6" x2="26.2" y2="60.6" stroke="#111" stroke-width="0.8"/><line x1="13.4" y1="61.8" x2="13.4" y2="64" stroke="#111" stroke-width="0.8"/></g>
<text x="800.7" y="508.4" font-size="9.2" text-anchor="middle" fill="#3c3c3c" textLength="13.6" lengthAdjust="spacingAndGlyphs" font-family="Liberation Sans">G02</text>
<g transform="translate(866.8 530.1) rotate(180)"><rect x="0" y="0" width="26.8" height="66" rx="1.2" fill="#fff" stroke="#111" stroke-width="1.1"/><rect x="11.4" y="0.9" width="4" height="1.2" fill="#111"/><rect x="5.2" y="4.2" width="16.4" height="32.6" fill="none" stroke="#222" stroke-width="0.55" stroke-dasharray="1 0.8"/><rect x="10.0" y="5.4" width="6.8" height="7.6" fill="none" stroke="#888" stroke-width="0.6"/><circle cx="13.4" cy="9.5" r="2.4" fill="#fff" stroke="#111" stroke-width="1.5"/><rect x="0.6" y="36.9" width="25.6" height="3.8" fill="#eee" stroke="#333" stroke-width="0.5"/><rect x="0" y="41.0" width="20.3" height="19.6" fill="#050505"/><path d="M4 45 h2 M9 45 h2 M14 45 h2 M4 50 h2 M9 50 h2 M14 50 h2 M4 55 h2 M9 55 h2 M14 55 h2" stroke="#1c1c1c" stroke-width="2"/><rect x="20.5" y="41.5" width="5" height="9" fill="#fff" stroke="#111" stroke-width="0.6"/><rect x="20.3" y="50.8" width="5.8" height="9.6" fill="#151515"/><rect x="21.3" y="56.8" width="1.6" height="1.6" fill="#fff"/><rect x="23.6" y="56.8" width="1.6" height="1.6" fill="#fff"/><line x1="0.6" y1="60.6" x2="26.2" y2="60.6" stroke="#111" stroke-width="0.8"/><line x1="13.4" y1="61.8" x2="13.4" y2="64" stroke="#111" stroke-width="0.8"/></g>
<text x="853.4" y="508.4" font-size="9.2" text-anchor="middle" fill="#3c3c3c" textLength="13.6" lengthAdjust="spacingAndGlyphs" font-family="Liberation Sans">G01</text>
<path d="M78.5 384.6 L876.5 384.6 L876.5 225.5 L819 225.5" fill="none" stroke="#0000ff" stroke-width="1.6"/>
<path d="M79.7 457.8 L876.5 457.8 L876.5 384.6" fill="none" stroke="#0000ff" stroke-width="1.6"/>
<path d="M116.8 363.6 L127.4 363.6 L127.4 384.6" fill="none" stroke="#0d4a1e" stroke-width="0.9"/>
<circle cx="127.4" cy="384.6" r="1.6" fill="#0000ff"/>
<rect x="128.9" y="383.3" width="2.8" height="2.6" fill="#3040c8"/><rect x="132.7" y="383.3" width="2.8" height="2.6" fill="#3040c8"/>
<path d="M169.8 363.6 L180.0 363.6 L180.0 384.6" fill="none" stroke="#0d4a1e" stroke-width="0.9"/>
<circle cx="180.0" cy="384.6" r="1.6" fill="#0000ff"/>
<rect x="181.5" y="383.3" width="2.8" height="2.6" fill="#3040c8"/><rect x="185.3" y="383.3" width="2.8" height="2.6" fill="#3040c8"/>
<path d="M223.0 363.6 L233.5 363.6 L233.5 384.6" fill="none" stroke="#0d4a1e" stroke-width="0.9"/>
<circle cx="233.5" cy="384.6" r="1.6" fill="#0000ff"/>
<rect x="235.0" y="383.3" width="2.8" height="2.6" fill="#3040c8"/><rect x="238.8" y="383.3" width="2.8" height="2.6" fill="#3040c8"/>
<path d="M329.5 363.6 L336.5 363.6 L336.5 384.6" fill="none" stroke="#0d4a1e" stroke-width="0.9"/>
<circle cx="336.5" cy="384.6" r="1.6" fill="#0000ff"/>
<rect x="338.0" y="383.3" width="2.8" height="2.6" fill="#3040c8"/><rect x="341.8" y="383.3" width="2.8" height="2.6" fill="#3040c8"/>
<path d="M382.3 363.6 L388.7 363.6 L388.7 384.6" fill="none" stroke="#0d4a1e" stroke-width="0.9"/>
<circle cx="388.7" cy="384.6" r="1.6" fill="#0000ff"/>
<rect x="390.2" y="383.3" width="2.8" height="2.6" fill="#3040c8"/><rect x="394.0" y="383.3" width="2.8" height="2.6" fill="#3040c8"/>
<path d="M435.5 363.6 L441.4 363.6 L441.4 384.6" fill="none" stroke="#0d4a1e" stroke-width="0.9"/>
<circle cx="441.4" cy="384.6" r="1.6" fill="#0000ff"/>
<rect x="442.9" y="383.3" width="2.8" height="2.6" fill="#3040c8"/><rect x="446.7" y="383.3" width="2.8" height="2.6" fill="#3040c8"/>
<path d="M547.8 363.6 L556.2 363.6 L556.2 384.6" fill="none" stroke="#0d4a1e" stroke-width="0.9"/>
<circle cx="556.2" cy="384.6" r="1.6" fill="#0000ff"/>
<rect x="557.7" y="383.3" width="2.8" height="2.6" fill="#3040c8"/><rect x="561.5" y="383.3" width="2.8" height="2.6" fill="#3040c8"/>
<path d="M601.4 363.6 L609.9 363.6 L609.9 384.6" fill="none" stroke="#0d4a1e" stroke-width="0.9"/>
<circle cx="609.9" cy="384.6" r="1.6" fill="#0000ff"/>
<rect x="611.4" y="383.3" width="2.8" height="2.6" fill="#3040c8"/><rect x="615.2" y="383.3" width="2.8" height="2.6" fill="#3040c8"/>
<path d="M654.4 363.6 L662.1 363.6 L662.1 384.6" fill="none" stroke="#0d4a1e" stroke-width="0.9"/>
<circle cx="662.1" cy="384.6" r="1.6" fill="#0000ff"/>
<rect x="663.6" y="383.3" width="2.8" height="2.6" fill="#3040c8"/><rect x="667.4" y="383.3" width="2.8" height="2.6" fill="#3040c8"/>
<path d="M756.0999999999999 363.6 L763.9 363.6 L763.9 384.6" fill="none" stroke="#0d4a1e" stroke-width="0.9"/>
<circle cx="763.9" cy="384.6" r="1.6" fill="#0000ff"/>
<rect x="765.4" y="383.3" width="2.8" height="2.6" fill="#3040c8"/><rect x="769.2" y="383.3" width="2.8" height="2.6" fill="#3040c8"/>
<path d="M90 479 L86.4 479 L86.4 457.8" fill="none" stroke="#0d4a1e" stroke-width="0.9"/>
<circle cx="86.4" cy="457.8" r="1.6" fill="#0000ff"/>
<rect x="78.1" y="456.5" width="2.8" height="2.6" fill="#6070b0"/><rect x="81.9" y="456.5" width="2.8" height="2.6" fill="#6070b0"/>
<path d="M143 479 L139.2 479 L139.2 457.8" fill="none" stroke="#0d4a1e" stroke-width="0.9"/>
<circle cx="139.2" cy="457.8" r="1.6" fill="#0000ff"/>
<rect x="130.9" y="456.5" width="2.8" height="2.6" fill="#6070b0"/><rect x="134.7" y="456.5" width="2.8" height="2.6" fill="#6070b0"/>
<path d="M196.2 479 L191.8 479 L191.8 457.8" fill="none" stroke="#0d4a1e" stroke-width="0.9"/>
<circle cx="191.8" cy="457.8" r="1.6" fill="#0000ff"/>
<rect x="183.5" y="456.5" width="2.8" height="2.6" fill="#6070b0"/><rect x="187.3" y="456.5" width="2.8" height="2.6" fill="#6070b0"/>
<path d="M302.7 479 L293.7 479 L293.7 457.8" fill="none" stroke="#0d4a1e" stroke-width="0.9"/>
<circle cx="293.7" cy="457.8" r="1.6" fill="#0000ff"/>
<rect x="285.4" y="456.5" width="2.8" height="2.6" fill="#6070b0"/><rect x="289.2" y="456.5" width="2.8" height="2.6" fill="#6070b0"/>
<path d="M355.5 479 L346.5 479 L346.5 457.8" fill="none" stroke="#0d4a1e" stroke-width="0.9"/>
<circle cx="346.5" cy="457.8" r="1.6" fill="#0000ff"/>
<rect x="338.2" y="456.5" width="2.8" height="2.6" fill="#6070b0"/><rect x="342.0" y="456.5" width="2.8" height="2.6" fill="#6070b0"/>
<path d="M408.7 479 L399.7 479 L399.7 457.8" fill="none" stroke="#0d4a1e" stroke-width="0.9"/>
<circle cx="399.7" cy="457.8" r="1.6" fill="#0000ff"/>
<rect x="391.4" y="456.5" width="2.8" height="2.6" fill="#6070b0"/><rect x="395.2" y="456.5" width="2.8" height="2.6" fill="#6070b0"/>
<path d="M521 479 L513.4 479 L513.4 457.8" fill="none" stroke="#0d4a1e" stroke-width="0.9"/>
<circle cx="513.4" cy="457.8" r="1.6" fill="#0000ff"/>
<rect x="505.1" y="456.5" width="2.8" height="2.6" fill="#6070b0"/><rect x="508.9" y="456.5" width="2.8" height="2.6" fill="#6070b0"/>
<path d="M574.6 479 L566.4 479 L566.4 457.8" fill="none" stroke="#0d4a1e" stroke-width="0.9"/>
<circle cx="566.4" cy="457.8" r="1.6" fill="#0000ff"/>
<rect x="558.1" y="456.5" width="2.8" height="2.6" fill="#6070b0"/><rect x="561.9" y="456.5" width="2.8" height="2.6" fill="#6070b0"/>
<path d="M627.8 479 L618.8 479 L618.8 457.8" fill="none" stroke="#0d4a1e" stroke-width="0.9"/>
<circle cx="618.8" cy="457.8" r="1.6" fill="#0000ff"/>
<rect x="610.5" y="456.5" width="2.8" height="2.6" fill="#6070b0"/><rect x="614.3" y="456.5" width="2.8" height="2.6" fill="#6070b0"/>
<path d="M734 479 L721.7 479 L721.7 457.8" fill="none" stroke="#0d4a1e" stroke-width="0.9"/>
<circle cx="721.7" cy="457.8" r="1.6" fill="#0000ff"/>
<rect x="713.4" y="456.5" width="2.8" height="2.6" fill="#6070b0"/><rect x="717.2" y="456.5" width="2.8" height="2.6" fill="#6070b0"/>
<path d="M787.3 479 L774.4 479 L774.4 457.8" fill="none" stroke="#0d4a1e" stroke-width="0.9"/>
<circle cx="774.4" cy="457.8" r="1.6" fill="#0000ff"/>
<rect x="766.1" y="456.5" width="2.8" height="2.6" fill="#6070b0"/><rect x="769.9" y="456.5" width="2.8" height="2.6" fill="#6070b0"/>
<path d="M840 479 L827.2 479 L827.2 457.8" fill="none" stroke="#0d4a1e" stroke-width="0.9"/>
<circle cx="827.2" cy="457.8" r="1.6" fill="#0000ff"/>
<rect x="818.9" y="456.5" width="2.8" height="2.6" fill="#6070b0"/><rect x="822.7" y="456.5" width="2.8" height="2.6" fill="#6070b0"/>
<defs><pattern id="dots" width="2" height="2" patternUnits="userSpaceOnUse"><rect width="2" height="2" fill="#e2e2e2"/><rect width="1" height="1" fill="#8a8a8a"/><rect x="1" y="1" width="1" height="1" fill="#fafafa"/></pattern></defs>
<rect x="444.8" y="303" width="65.69999999999999" height="33" fill="url(#dots)"/>
<rect x="444.8" y="311.7" width="65.69999999999999" height="15.5" fill="#0a0a0a"/>
<clipPath id="c4448303"><rect x="444.8" y="311.7" width="32.849999999999966" height="15.5"/></clipPath>
<path clip-path="url(#c4448303)" d="M428.0 327.3 L431.8 327.3 L439.8 311.7 L436.0 311.7 Z M436.8 327.3 L440.6 327.3 L448.6 311.7 L444.8 311.7 Z M445.6 327.3 L449.4 327.3 L457.4 311.7 L453.6 311.7 Z M454.4 327.3 L458.2 327.3 L466.2 311.7 L462.4 311.7 Z M463.2 327.3 L467.0 327.3 L475.0 311.7 L471.2 311.7 Z M472.0 327.3 L475.8 327.3 L483.8 311.7 L480.0 311.7 Z M480.8 327.3 L484.6 327.3 L492.6 311.7 L488.8 311.7 Z" fill="#f2e400"/>
<clipPath id="c4776303"><rect x="477.65" y="311.7" width="32.85000000000002" height="15.5"/></clipPath>
<path clip-path="url(#c4776303)" d="M460.8 327.3 L464.6 327.3 L472.6 311.7 L468.8 311.7 Z M469.6 327.3 L473.4 327.3 L481.4 311.7 L477.6 311.7 Z M478.4 327.3 L482.2 327.3 L490.2 311.7 L486.4 311.7 Z M487.2 327.3 L491.1 327.3 L499.1 311.7 L495.2 311.7 Z M496.1 327.3 L499.9 327.3 L507.9 311.7 L504.1 311.7 Z M504.9 327.3 L508.7 327.3 L516.7 311.7 L512.9 311.7 Z M513.6 327.3 L517.4 327.3 L525.4 311.7 L521.6 311.7 Z" fill="#f2e400"/>
<line x1="477.65" y1="303" x2="477.65" y2="336" stroke="#111" stroke-width="0.8"/>
<rect x="444.8" y="303" width="65.69999999999999" height="33" fill="none" stroke="#111" stroke-width="0.9"/>
<rect x="445.5" y="365" width="65.5" height="33" fill="url(#dots)"/>
<rect x="445.5" y="373.7" width="65.5" height="15.5" fill="#0a0a0a"/>
<clipPath id="c4455365"><rect x="445.5" y="373.7" width="32.75" height="15.5"/></clipPath>
<path clip-path="url(#c4455365)" d="M428.7 389.3 L432.5 389.3 L440.5 373.7 L436.7 373.7 Z M437.5 389.3 L441.3 389.3 L449.3 373.7 L445.5 373.7 Z M446.3 389.3 L450.1 389.3 L458.1 373.7 L454.3 373.7 Z M455.1 389.3 L458.9 389.3 L466.9 373.7 L463.1 373.7 Z M463.9 389.3 L467.7 389.3 L475.7 373.7 L471.9 373.7 Z M472.7 389.3 L476.5 389.3 L484.5 373.7 L480.7 373.7 Z M481.5 389.3 L485.3 389.3 L493.3 373.7 L489.5 373.7 Z" fill="#f2e400"/>
<clipPath id="c4782365"><rect x="478.25" y="373.7" width="32.75" height="15.5"/></clipPath>
<path clip-path="url(#c4782365)" d="M461.4 389.3 L465.2 389.3 L473.2 373.7 L469.4 373.7 Z M470.2 389.3 L474.1 389.3 L482.1 373.7 L478.2 373.7 Z M479.1 389.3 L482.9 389.3 L490.9 373.7 L487.1 373.7 Z M487.9 389.3 L491.7 389.3 L499.7 373.7 L495.9 373.7 Z M496.7 389.3 L500.5 389.3 L508.5 373.7 L504.7 373.7 Z M505.5 389.3 L509.3 389.3 L517.2 373.7 L513.5 373.7 Z M514.2 389.3 L518.0 389.3 L526.0 373.7 L522.2 373.7 Z" fill="#f2e400"/>
<line x1="478.25" y1="365" x2="478.25" y2="398" stroke="#111" stroke-width="0.8"/>
<rect x="445.5" y="365" width="65.5" height="33" fill="none" stroke="#111" stroke-width="0.9"/>
<rect x="445.8" y="442.4" width="65.59999999999997" height="32.700000000000045" fill="url(#dots)"/>
<rect x="445.8" y="451.1" width="65.59999999999997" height="15.4" fill="#0a0a0a"/>
<clipPath id="c4458442"><rect x="445.8" y="451.1" width="32.80000000000001" height="15.4"/></clipPath>
<path clip-path="url(#c4458442)" d="M429.0 466.4 L432.8 466.4 L440.8 451.1 L437.0 451.1 Z M437.8 466.4 L441.6 466.4 L449.6 451.1 L445.8 451.1 Z M446.6 466.4 L450.4 466.4 L458.4 451.1 L454.6 451.1 Z M455.4 466.4 L459.2 466.4 L467.2 451.1 L463.4 451.1 Z M464.2 466.4 L468.0 466.4 L476.0 451.1 L472.2 451.1 Z M473.0 466.4 L476.8 466.4 L484.8 451.1 L481.0 451.1 Z M481.8 466.4 L485.6 466.4 L493.6 451.1 L489.8 451.1 Z" fill="#f2e400"/>
<clipPath id="c4786442"><rect x="478.6" y="451.1" width="32.799999999999955" height="15.4"/></clipPath>
<path clip-path="url(#c4786442)" d="M461.8 466.4 L465.6 466.4 L473.6 451.1 L469.8 451.1 Z M470.6 466.4 L474.4 466.4 L482.4 451.1 L478.6 451.1 Z M479.4 466.4 L483.2 466.4 L491.2 451.1 L487.4 451.1 Z M488.2 466.4 L492.0 466.4 L500.0 451.1 L496.2 451.1 Z M497.0 466.4 L500.8 466.4 L508.8 451.1 L505.0 451.1 Z M505.8 466.4 L509.6 466.4 L517.6 451.1 L513.8 451.1 Z M514.6 466.4 L518.4 466.4 L526.4 451.1 L522.6 451.1 Z" fill="#f2e400"/>
<line x1="478.6" y1="442.4" x2="478.6" y2="475.1" stroke="#111" stroke-width="0.8"/>
<rect x="445.8" y="442.4" width="65.59999999999997" height="32.700000000000045" fill="none" stroke="#111" stroke-width="0.9"/>
<rect x="445.8" y="507.5" width="65.59999999999997" height="32.700000000000045" fill="url(#dots)"/>
<rect x="445.8" y="516.2" width="65.59999999999997" height="15.4" fill="#0a0a0a"/>
<clipPath id="c4458507"><rect x="445.8" y="516.2" width="32.80000000000001" height="15.4"/></clipPath>
<path clip-path="url(#c4458507)" d="M429.0 531.5 L432.8 531.5 L440.8 516.2 L437.0 516.2 Z M437.8 531.5 L441.6 531.5 L449.6 516.2 L445.8 516.2 Z M446.6 531.5 L450.4 531.5 L458.4 516.2 L454.6 516.2 Z M455.4 531.5 L459.2 531.5 L467.2 516.2 L463.4 516.2 Z M464.2 531.5 L468.0 531.5 L476.0 516.2 L472.2 516.2 Z M473.0 531.5 L476.8 531.5 L484.8 516.2 L481.0 516.2 Z M481.8 531.5 L485.6 531.5 L493.6 516.2 L489.8 516.2 Z" fill="#f2e400"/>
<clipPath id="c4786507"><rect x="478.6" y="516.2" width="32.799999999999955" height="15.4"/></clipPath>
<path clip-path="url(#c4786507)" d="M461.8 531.5 L465.6 531.5 L473.6 516.2 L469.8 516.2 Z M470.6 531.5 L474.4 531.5 L482.4 516.2 L478.6 516.2 Z M479.4 531.5 L483.2 531.5 L491.2 516.2 L487.4 516.2 Z M488.2 531.5 L492.0 531.5 L500.0 516.2 L496.2 516.2 Z M497.0 531.5 L500.8 531.5 L508.8 516.2 L505.0 516.2 Z M505.8 531.5 L509.6 531.5 L517.6 516.2 L513.8 516.2 Z M514.6 531.5 L518.4 531.5 L526.4 516.2 L522.6 516.2 Z" fill="#f2e400"/>
<line x1="478.6" y1="507.5" x2="478.6" y2="540.2" stroke="#111" stroke-width="0.8"/>
<rect x="445.8" y="507.5" width="65.59999999999997" height="32.700000000000045" fill="none" stroke="#111" stroke-width="0.9"/>
<polygon points="83.5,43.2 106.8,58.3 99.6,59.6" fill="#000"/>
<line x1="99.6" y1="59.6" x2="130" y2="90" stroke="#000" stroke-width="0.7"/>
<line x1="111.6" y1="64.4" x2="120.5" y2="72.8" stroke="#000" stroke-width="0.7"/>
<line x1="109.2" y1="76.4" x2="115.5" y2="83.7" stroke="#000" stroke-width="0.7"/>
<polygon points="103.9,72.1 118.6,71.9 123.2,76.3 108.7,76.5" fill="#000"/>
<polygon points="129,89.5 136.7,89.5 152.1,105.4 143.4,105.4" fill="#000"/>
<g transform="translate(123.8 67) rotate(46)"><text x="0" y="2.6" font-size="7.6" text-anchor="middle" fill="#000" textLength="23" lengthAdjust="spacingAndGlyphs">NORTH</text></g>
<rect x="482.6" y="77.7" width="79.2" height="65.6" fill="none" stroke="#26354a" stroke-width="1.6"/>
<line x1="508.6" y1="77.7" x2="508.6" y2="143.3" stroke="#26354a" stroke-width="2.2"/>
<line x1="535.2" y1="77.7" x2="535.2" y2="143.3" stroke="#26354a" stroke-width="2.2"/>
<line x1="482.6" y1="142.3" x2="561.8" y2="142.3" stroke="#26354a" stroke-width="2"/>
<line x1="508.6" y1="143.3" x2="498" y2="149" stroke="#26354a" stroke-width="1.1"/>
<line x1="535.2" y1="143.3" x2="546" y2="149" stroke="#26354a" stroke-width="1.1"/>
<g transform="translate(496.5 110) rotate(-90)"><text x="0" y="2.24" font-size="6.4" text-anchor="middle" fill="#111" textLength="52" lengthAdjust="spacingAndGlyphs">WASTE DISPOSAL</text></g>
<g transform="translate(522 110) rotate(-90)"><text x="0" y="2.24" font-size="6.4" text-anchor="middle" fill="#111" textLength="44" lengthAdjust="spacingAndGlyphs">DRUM STORAGE</text></g>
<g transform="translate(549 110) rotate(-90)"><text x="0" y="3.22" font-size="9.2" text-anchor="middle" fill="#111" textLength="49" lengthAdjust="spacingAndGlyphs">WAREHOUSE</text></g>
<circle cx="482.3" cy="143" r="1.8" fill="none" stroke="#26354a" stroke-width="0.7"/>
<polyline points="482.3,143 491.6,160.5 527,160.5" fill="none" stroke="#222" stroke-width="0.6"/>
<text x="493" y="158.8" font-size="6.4" text-anchor="start" fill="#111" textLength="36" lengthAdjust="spacingAndGlyphs">N-4118606.18</text>
<text x="493" y="166.6" font-size="6.4" text-anchor="start" fill="#111" textLength="33" lengthAdjust="spacingAndGlyphs">E-211023.84</text>
<rect x="574.6" y="77.7" width="97.2" height="64.8" fill="none" stroke="#26354a" stroke-width="1.8"/>
<line x1="601.6" y1="77.7" x2="601.6" y2="142.5" stroke="#26354a" stroke-width="1.8"/>
<line x1="611.6" y1="77.7" x2="611.6" y2="142.5" stroke="#26354a" stroke-width="1.1"/>
<line x1="622.4" y1="77.7" x2="622.4" y2="142.5" stroke="#26354a" stroke-width="1.1"/>
<line x1="634" y1="77.7" x2="634" y2="142.5" stroke="#26354a" stroke-width="1.1"/>
<line x1="644.8" y1="77.7" x2="644.8" y2="142.5" stroke="#26354a" stroke-width="1.8"/>
<polyline points="574.6,142.5 585.5,151.5 600.5,142.5" fill="none" stroke="#26354a" stroke-width="1.6"/>
<polyline points="583,150 588,144 591,150" fill="none" stroke="#26354a" stroke-width="0.7"/>
<polyline points="645,142.5 658,146.8 670.5,142.5" fill="none" stroke="#26354a" stroke-width="1.6"/>
<rect x="576.5" y="79.5" width="5" height="4" fill="none" stroke="#26354a" stroke-width="0.7"/><rect x="594" y="79.5" width="5" height="4" fill="none" stroke="#26354a" stroke-width="0.7"/>
<rect x="594.5" y="91.5" width="5" height="20" fill="none" stroke="#26354a" stroke-width="1"/>
<rect x="576" y="132" width="2" height="2.5" fill="#26354a"/>
<path d="M602 135 A6 6 0 0 1 608 141" fill="none" stroke="#26354a" stroke-width="0.6"/>
<path d="M644 135 A6 6 0 0 0 638 141" fill="none" stroke="#26354a" stroke-width="0.6"/>
<rect x="645" y="78.7" width="4.5" height="12" fill="#26354a"/>
<rect x="665" y="78.7" width="4.5" height="10" fill="#26354a"/>
<rect x="660" y="103" width="9.5" height="30.5" fill="#26354a"/>
<rect x="645" y="109" width="3.5" height="9" fill="#26354a"/>
<path d="M649.5 91 L649.5 95 L645 95 M660 91 L660 98 L665 98 L665 103 M649.5 100 L652 100 L652 108" fill="none" stroke="#26354a" stroke-width="0.7"/>
<g transform="translate(588.2 111.7) rotate(-90)"><text x="0" y="3.22" font-size="9.2" text-anchor="middle" fill="#111" textLength="41" lengthAdjust="spacingAndGlyphs">WORKSHOP</text></g>
<g transform="translate(656.5 109.5) rotate(-90)"><text x="0" y="3.22" font-size="9.2" text-anchor="middle" fill="#111" textLength="51" lengthAdjust="spacingAndGlyphs">CONSUMABLES</text></g>
<text x="703" y="20.5" font-size="5" text-anchor="middle" fill="#111" textLength="18" lengthAdjust="spacingAndGlyphs">Fuel supply</text>
<text x="703" y="26" font-size="5" text-anchor="middle" fill="#111" textLength="17" lengthAdjust="spacingAndGlyphs">from client</text>
<line x1="706.1" y1="29.4" x2="706.1" y2="93.5" stroke="#0000ff" stroke-width="1.5"/>
<circle cx="706.1" cy="64" r="1" fill="#0000ff"/>
<polygon points="704.2,92.5 708,92.5 706.1,96" fill="#111"/>
<rect x="688.5" y="82.5" width="34.7" height="25.2" fill="none" stroke="#0000ff" stroke-width="0.8"/>
<text x="688.5" y="80.5" font-size="4.6" text-anchor="start" fill="#111" textLength="15" lengthAdjust="spacingAndGlyphs">Manhole</text>
<text x="691" y="92.5" font-size="4.6" text-anchor="start" fill="#111" textLength="10" lengthAdjust="spacingAndGlyphs">Tie In</text>
<path d="M706.5 96 C707 106 714 110 722 112.5 C736 117 742 128 742.5 150 L742.5 160" fill="none" stroke="#00ee00" stroke-width="1.6"/>
<rect x="752.4" y="156.2" width="65.5" height="27.5" fill="#fff" stroke="#56647a" stroke-width="0.9"/>
<path d="M767 158.2 L804 158.2 Q809 170.3 804 182.4 L767 182.4 Q762 170.3 767 158.2 Z" fill="#f4f5f7" stroke="#56647a" stroke-width="0.8"/>
<line x1="767" y1="158.2" x2="767" y2="182.4" stroke="#8a96a8" stroke-width="0.5"/><line x1="804" y1="158.2" x2="804" y2="182.4" stroke="#8a96a8" stroke-width="0.5"/>
<text x="786" y="168.5" font-size="6" text-anchor="middle" fill="#111" textLength="24.5" lengthAdjust="spacingAndGlyphs">Buffer Tank</text>
<text x="786" y="175" font-size="6" text-anchor="middle" fill="#111" textLength="12" lengthAdjust="spacingAndGlyphs">20 m3</text>
<path d="M740.5 152.8 L770.9 152.8 L770.9 170" fill="none" stroke="#0000ff" stroke-width="1.2"/>
<line x1="742" y1="152.8" x2="768" y2="152.8" stroke="#111" stroke-width="1.2" stroke-dasharray="1.2 2.8"/>
<circle cx="747.6" cy="152.8" r="1.1" fill="#ff0000"/><circle cx="768.6" cy="152.8" r="1.1" fill="#ff0000"/>
<path d="M808 170 L818 170 Q825.5 170 825.5 178 L825.5 203 Q825.5 210 818 210 L811 210" fill="none" stroke="#00ee00" stroke-width="1.7"/>
<line x1="752.4" y1="189.4" x2="817.9" y2="189.4" stroke="#0000ff" stroke-width="0.6"/>
<line x1="817.9" y1="184" x2="817.9" y2="201" stroke="#0000ff" stroke-width="0.6"/>
<rect x="778" y="186" width="15" height="6" fill="#fff"/>
<text x="785.5" y="191.8" font-size="7" text-anchor="middle" fill="#b00000" textLength="14" lengthAdjust="spacingAndGlyphs">6.1m</text>
<polyline points="818.5,192.5 837,188.5 838,186" fill="none" stroke="#0000ff" stroke-width="0.6"/>
<g transform="translate(838.5 178) rotate(-90)"><text x="0" y="2.45" font-size="7" text-anchor="middle" fill="#b00000" textLength="14" lengthAdjust="spacingAndGlyphs">1.6m</text></g>
<text x="785.5" y="199.3" font-size="6.6" text-anchor="middle" fill="#111" textLength="53" lengthAdjust="spacingAndGlyphs">Fuel Pump + Filtration</text>
<rect x="752.7" y="201" width="65.2" height="25.4" fill="#fff" stroke="#26354a" stroke-width="1.4"/>
<rect x="762" y="203.5" width="22" height="18" fill="none" stroke="#26354a" stroke-width="1.2"/>
<rect x="763" y="211" width="20" height="10" fill="#26354a" opacity="0.85"/>
<rect x="765" y="205" width="7" height="4" fill="#26354a"/>
<path d="M784 204 L795 204 L795 211 L798 211" fill="none" stroke="#26354a" stroke-width="1.2"/>
<rect x="798" y="203" width="13" height="16" fill="#26354a"/>
<circle cx="804.5" cy="207" r="2.2" fill="none" stroke="#fff" stroke-width="0.6"/><circle cx="804.5" cy="214.5" r="2.2" fill="none" stroke="#fff" stroke-width="0.6"/>
<path d="M748 202 A5 5 0 0 1 752.7 207 M748 226 A5 5 0 0 0 752.7 221 M823 202 A5 5 0 0 0 817.9 207 M823 226 A5 5 0 0 1 817.9 221" fill="none" stroke="#999" stroke-width="0.6"/>
<path d="M786 217 L788 217 L788 225.5 L820 225.5" fill="none" stroke="#00ee00" stroke-width="1.8"/>
<path d="M742 205 L754 205" fill="none" stroke="#00ee00" stroke-width="3"/>
<polyline points="777,215 765,228 768,231" fill="none" stroke="#111" stroke-width="0.5"/>
<text x="769.3" y="234.8" font-size="6.2" text-anchor="start" fill="#111" textLength="25" lengthAdjust="spacingAndGlyphs">Fuel Meter</text>
<rect x="831.2" y="28.9" width="132.4" height="34.6" fill="#fff" stroke="#333" stroke-width="0.9"/>
<text x="850" y="37" font-size="6.4" text-anchor="start" fill="#111" textLength="79" lengthAdjust="spacingAndGlyphs">CABLE  LADDER  LEGEND:</text>
<line x1="837" y1="42" x2="862" y2="42" stroke="#0000ff" stroke-width="3.2"/>
<line x1="837" y1="42" x2="862" y2="42" stroke="#fff" stroke-width="1.44" stroke-dasharray="1.6 1.7"/>
<line x1="837" y1="48.5" x2="862" y2="48.5" stroke="#ff0000" stroke-width="3.2"/>
<line x1="837" y1="48.5" x2="862" y2="48.5" stroke="#fff" stroke-width="1.44" stroke-dasharray="1.6 1.7"/>
<line x1="837" y1="55.8" x2="862" y2="55.8" stroke="#00ee00" stroke-width="3.2"/>
<line x1="837" y1="55.8" x2="862" y2="55.8" stroke="#fff" stroke-width="1.44" stroke-dasharray="1.6 1.7"/>
<text x="867" y="44.5" font-size="6.4" text-anchor="start" fill="#111" textLength="60" lengthAdjust="spacingAndGlyphs">LV  CABLE  LADDER</text>
<text x="867" y="51.5" font-size="6.4" text-anchor="start" fill="#111" textLength="60" lengthAdjust="spacingAndGlyphs">HV  CABLE  LADDER</text>
<text x="867" y="58.5" font-size="6.4" text-anchor="start" fill="#111" textLength="81" lengthAdjust="spacingAndGlyphs">CONTROL  CABLE  LADDER</text>
<rect x="76.6" y="243.7" width="12.3" height="30.2" fill="#fff" stroke="#26354a" stroke-width="1.4"/>
<rect x="78.3" y="246" width="9" height="4.5" fill="none" stroke="#26354a" stroke-width="0.8"/>
<rect x="78.3" y="253.5" width="9" height="18" fill="none" stroke="#26354a" stroke-width="1"/>
<g transform="translate(92.8 258.5) rotate(-90)"><text x="0" y="1.75" font-size="5" text-anchor="middle" fill="#111" textLength="27.5" lengthAdjust="spacingAndGlyphs">300kVA, Dyn11</text></g>
<g transform="translate(97.3 259) rotate(-90)"><text x="0" y="1.75" font-size="5" text-anchor="middle" fill="#111" textLength="24" lengthAdjust="spacingAndGlyphs">Aux. Services</text></g>
<path d="M77.5 277.2 L85 277.2 M81.2 277.2 L81.2 286.2 M77.5 286.2 L85 286.2 M79 278.7 L83.5 284.7" stroke="#000" stroke-width="1.3" fill="none"/>
<path d="M77.5 288.5 L85 288.5 M81.2 288.5 L81.2 297.5 M77.5 297.5 L85 297.5 M79 290.0 L83.5 296.0" stroke="#000" stroke-width="1.3" fill="none"/>
<text x="89.5" y="281" font-size="4.8" text-anchor="start" fill="#111" textLength="8.5" lengthAdjust="spacingAndGlyphs">630A</text>
<text x="88.9" y="286.2" font-size="4.8" text-anchor="start" fill="#111" textLength="9.3" lengthAdjust="spacingAndGlyphs">MCCB</text>
<text x="89.5" y="291.8" font-size="4.8" text-anchor="start" fill="#111" textLength="8.5" lengthAdjust="spacingAndGlyphs">630A</text>
<text x="89.2" y="296.4" font-size="4.8" text-anchor="start" fill="#111" textLength="7.5" lengthAdjust="spacingAndGlyphs">MDB</text>
<polygon points="74,267.5 77.5,270 74,272.5" fill="#00ee00"/>
<polygon points="74,278.5 77.5,281 74,283.5" fill="#00ee00"/>
<polygon points="74,289.5 77.5,292 74,294.5" fill="#00ee00"/>
<path d="M86 297.5 L112.5 297.5 L112.5 312.6" fill="none" stroke="#0000ff" stroke-width="0.7"/>
<polyline points="113,306 121.5,303 122,301" fill="none" stroke="#0000ff" stroke-width="0.6"/>
<g transform="translate(122.3 291.5) rotate(-90)"><text x="0" y="2.45" font-size="7" text-anchor="middle" fill="#b00000" textLength="14" lengthAdjust="spacingAndGlyphs">1.5m</text></g>
<rect x="81" y="399.6" width="15.3" height="20.8" fill="#fff" stroke="#111" stroke-width="0.9"/>
<g transform="translate(85 410) rotate(-90)"><text x="0" y="1.05" font-size="3" text-anchor="middle" fill="#111" textLength="12" lengthAdjust="spacingAndGlyphs">Fuel Day</text></g>
<g transform="translate(88.5 410) rotate(-90)"><text x="0" y="1.05" font-size="3" text-anchor="middle" fill="#111" textLength="8" lengthAdjust="spacingAndGlyphs">Tank</text></g>
<rect x="81" y="421.4" width="15.3" height="20.8" fill="#fff" stroke="#111" stroke-width="0.9"/>
<rect x="81.5" y="436" width="14.3" height="6" fill="#111"/>
<line x1="96" y1="400" x2="103" y2="394" stroke="#111" stroke-width="0.8"/><line x1="96" y1="405" x2="105" y2="397" stroke="#111" stroke-width="0.8"/><line x1="96" y1="436" x2="103" y2="441" stroke="#111" stroke-width="0.8"/><line x1="96" y1="421" x2="103" y2="426" stroke="#111" stroke-width="0.8"/>
<path d="M80.5 442 Q78.5 443 78.5 446 L78.5 457.8" fill="none" stroke="#0d4a1e" stroke-width="0.9"/>
<polygon points="74,431.5 77.5,434 74,436.5" fill="#00ee00"/>
<line x1="266" y1="226.7" x2="266" y2="312.6" stroke="#0000ff" stroke-width="0.75"/>
<polygon points="264.8,229.7 267.2,229.7 266,226.7" fill="#0000ff"/>
<polygon points="264.8,309.6 267.2,309.6 266,312.6" fill="#0000ff"/>
<rect x="262" y="260.4" width="8" height="18" fill="#fff"/>
<g transform="translate(266.2 269.4) rotate(-90)"><text x="0" y="2.80" font-size="8" text-anchor="middle" fill="#b00000" textLength="16" lengthAdjust="spacingAndGlyphs">8.0m</text></g>
<line x1="266" y1="378.6" x2="266" y2="464.1" stroke="#0000ff" stroke-width="0.75"/>
<polygon points="264.8,381.6 267.2,381.6 266,378.6" fill="#0000ff"/>
<polygon points="264.8,461.1 267.2,461.1 266,464.1" fill="#0000ff"/>
<rect x="262" y="412.5" width="8" height="18" fill="#fff"/>
<g transform="translate(266.2 421.5) rotate(-90)"><text x="0" y="2.80" font-size="8" text-anchor="middle" fill="#b00000" textLength="16" lengthAdjust="spacingAndGlyphs">8.0m</text></g>
<line x1="759.8" y1="226.5" x2="759.8" y2="312.6" stroke="#0000ff" stroke-width="0.75"/>
<polygon points="758.5999999999999,229.5 761.0,229.5 759.8,226.5" fill="#0000ff"/>
<polygon points="758.5999999999999,309.6 761.0,309.6 759.8,312.6" fill="#0000ff"/>
<rect x="755.8" y="260.4" width="8" height="18" fill="#fff"/>
<g transform="translate(760.0 269.4) rotate(-90)"><text x="0" y="2.80" font-size="8" text-anchor="middle" fill="#b00000" textLength="16" lengthAdjust="spacingAndGlyphs">8.0m</text></g>
<line x1="757" y1="312.6" x2="759.8" y2="312.6" stroke="#0000ff" stroke-width="0.9"/>
<line x1="856.7" y1="378.2" x2="856.7" y2="464.1" stroke="#0000ff" stroke-width="0.75"/>
<polygon points="855.5,381.2 857.9000000000001,381.2 856.7,378.2" fill="#0000ff"/>
<polygon points="855.5,461.1 857.9000000000001,461.1 856.7,464.1" fill="#0000ff"/>
<rect x="852.7" y="412.9" width="8" height="18" fill="#fff"/>
<g transform="translate(856.9000000000001 421.9) rotate(-90)"><text x="0" y="2.80" font-size="8" text-anchor="middle" fill="#b00000" textLength="16" lengthAdjust="spacingAndGlyphs">8.0m</text></g>
<line x1="435.5" y1="355.1" x2="521" y2="355.1" stroke="#0000ff" stroke-width="0.75"/>
<polygon points="438.5,353.90000000000003 438.5,356.3 435.5,355.1" fill="#0000ff"/>
<polygon points="518,353.90000000000003 518,356.3 521,355.1" fill="#0000ff"/>
<rect x="468.5" y="350.6" width="18" height="9" fill="#fff"/>
<text x="477.5" y="357.90000000000003" font-size="8" text-anchor="middle" fill="#b00000" textLength="16" lengthAdjust="spacingAndGlyphs">8.0m</text>
<line x1="435.5" y1="487" x2="521" y2="487" stroke="#0000ff" stroke-width="0.75"/>
<polygon points="438.5,485.8 438.5,488.2 435.5,487" fill="#0000ff"/>
<polygon points="518,485.8 518,488.2 521,487" fill="#0000ff"/>
<rect x="468.0" y="482.5" width="18" height="9" fill="#fff"/>
<text x="477" y="489.8" font-size="8" text-anchor="middle" fill="#b00000" textLength="16" lengthAdjust="spacingAndGlyphs">8.0m</text>
<line x1="59" y1="495.1" x2="90" y2="495.1" stroke="#0000ff" stroke-width="0.75"/>
<polygon points="62,493.90000000000003 62,496.3 59,495.1" fill="#0000ff"/>
<polygon points="87,493.90000000000003 87,496.3 90,495.1" fill="#0000ff"/>
<rect x="41.5" y="490.6" width="17" height="9" fill="#fff"/>
<text x="50" y="497.90000000000003" font-size="8" text-anchor="middle" fill="#b00000" textLength="15" lengthAdjust="spacingAndGlyphs">2.9m</text>
<line x1="99.8" y1="529.8" x2="99.8" y2="611.7" stroke="#0000ff" stroke-width="0.75"/>
<polygon points="98.6,532.8 101.0,532.8 99.8,529.8" fill="#0000ff"/>
<polygon points="98.6,608.7 101.0,608.7 99.8,611.7" fill="#0000ff"/>
<rect x="95.8" y="563.3" width="8" height="18" fill="#fff"/>
<g transform="translate(100.0 572.3) rotate(-90)"><text x="0" y="2.80" font-size="8" text-anchor="middle" fill="#b00000" textLength="16" lengthAdjust="spacingAndGlyphs">7.7m</text></g>
<line x1="99.8" y1="611.7" x2="110" y2="611.7" stroke="#0000ff" stroke-width="0.9"/>
<line x1="415.9" y1="529.8" x2="415.9" y2="626.9" stroke="#0000ff" stroke-width="0.75"/>
<polygon points="414.7,532.8 417.09999999999997,532.8 415.9,529.8" fill="#0000ff"/>
<polygon points="414.7,623.9 417.09999999999997,623.9 415.9,626.9" fill="#0000ff"/>
<rect x="411.9" y="569.8" width="8" height="18" fill="#fff"/>
<g transform="translate(416.09999999999997 578.8) rotate(-90)"><text x="0" y="2.80" font-size="8" text-anchor="middle" fill="#b00000" textLength="16" lengthAdjust="spacingAndGlyphs">9.1m</text></g>
<line x1="415.9" y1="626.9" x2="424" y2="626.9" stroke="#0000ff" stroke-width="0.9"/>
<line x1="582.8" y1="529.8" x2="582.8" y2="610.2" stroke="#0000ff" stroke-width="0.75"/>
<polygon points="581.5999999999999,532.8 584.0,532.8 582.8,529.8" fill="#0000ff"/>
<polygon points="581.5999999999999,607.2 584.0,607.2 582.8,610.2" fill="#0000ff"/>
<rect x="578.8" y="559.5" width="8" height="18" fill="#fff"/>
<g transform="translate(583.0 568.5) rotate(-90)"><text x="0" y="2.80" font-size="8" text-anchor="middle" fill="#b00000" textLength="16" lengthAdjust="spacingAndGlyphs">7.5m</text></g>
<path d="M813.5 530 L813.5 538.1 L840.5 538.1 L840.5 530 M866.5 530 L866.5 538.1 L895.3 538.1" fill="none" stroke="#0000ff" stroke-width="0.9"/>
<rect x="818" y="534" width="18" height="8" fill="#fff"/><rect x="872" y="534" width="18" height="8" fill="#fff"/>
<text x="827.2" y="540.6" font-size="7" text-anchor="middle" fill="#b00000" textLength="15" lengthAdjust="spacingAndGlyphs">2.5m</text>
<text x="881.2" y="540.6" font-size="7" text-anchor="middle" fill="#b00000" textLength="15" lengthAdjust="spacingAndGlyphs">2.7m</text>
<path d="M277.1 357.3 L285.1 357.3 M279.6 357.5 L282.6 365.5 M277.1 365.7 L285.1 365.7" stroke="#000" stroke-width="1.5" fill="none"/>
<text x="286.2" y="359.6" font-size="4.6" text-anchor="start" fill="#111" textLength="9.5" lengthAdjust="spacingAndGlyphs">200A</text>
<text x="286.8" y="365.6" font-size="4.6" text-anchor="start" fill="#111" textLength="7" lengthAdjust="spacingAndGlyphs">DB3</text>
<line x1="274.9" y1="350.8" x2="282.6" y2="340.5" stroke="#26354a" stroke-width="0.8"/>
<path d="M703.5 357.3 L711.5 357.3 M706.0 357.5 L709.0 365.5 M703.5 365.7 L711.5 365.7" stroke="#000" stroke-width="1.5" fill="none"/>
<text x="712.5" y="359.6" font-size="4.6" text-anchor="start" fill="#111" textLength="9.5" lengthAdjust="spacingAndGlyphs">200A</text>
<text x="713" y="365.6" font-size="4.6" text-anchor="start" fill="#111" textLength="7" lengthAdjust="spacingAndGlyphs">DB4</text>
<line x1="703" y1="352" x2="710" y2="340" stroke="#26354a" stroke-width="0.7"/>
<path d="M240.3 475.8 L248.3 475.8 M242.8 476 L245.8 484 M240.3 484.2 L248.3 484.2" stroke="#000" stroke-width="1.5" fill="none"/>
<text x="239.5" y="478" font-size="4.6" text-anchor="end" fill="#111" textLength="9.5" lengthAdjust="spacingAndGlyphs">200A</text>
<text x="239" y="484" font-size="4.6" text-anchor="end" fill="#111" textLength="7" lengthAdjust="spacingAndGlyphs">DB2</text>
<line x1="250" y1="496" x2="243" y2="505" stroke="#26354a" stroke-width="0.7"/>
<path d="M671.4 475.8 L679.4 475.8 M673.9 476 L676.9 484 M671.4 484.2 L679.4 484.2" stroke="#000" stroke-width="1.5" fill="none"/>
<text x="670.5" y="478" font-size="4.6" text-anchor="end" fill="#111" textLength="9.5" lengthAdjust="spacingAndGlyphs">200A</text>
<text x="670" y="484" font-size="4.6" text-anchor="end" fill="#111" textLength="7" lengthAdjust="spacingAndGlyphs">DB1</text>
<line x1="680.8" y1="496" x2="674" y2="505" stroke="#26354a" stroke-width="0.7"/>
<rect x="305.3" y="621.7" width="52.7" height="78.5" fill="none" stroke="#b4b4b4" stroke-width="0.8"/>
<rect x="320.7" y="625.6" width="256.5" height="55.3" fill="none" stroke="#b4b4b4" stroke-width="0.8"/>
<rect x="323.5" y="628.5" width="253" height="49.5" fill="none" stroke="#b4b4b4" stroke-width="0.8"/>
<rect x="575.9" y="610.2" width="27" height="69.4" fill="none" stroke="#b4b4b4" stroke-width="0.8"/>
<rect x="549.4" y="610.2" width="27.2" height="12.8" fill="none" stroke="#b4b4b4" stroke-width="0.8"/>
<line x1="552" y1="611" x2="552" y2="622" stroke="#b4b4b4" stroke-width="0.6"/>
<line x1="555" y1="611" x2="555" y2="622" stroke="#b4b4b4" stroke-width="0.6"/>
<line x1="558" y1="611" x2="558" y2="622" stroke="#b4b4b4" stroke-width="0.6"/>
<line x1="561" y1="611" x2="561" y2="622" stroke="#b4b4b4" stroke-width="0.6"/>
<line x1="564" y1="611" x2="564" y2="622" stroke="#b4b4b4" stroke-width="0.6"/>
<line x1="567" y1="611" x2="567" y2="622" stroke="#b4b4b4" stroke-width="0.6"/>
<line x1="570" y1="611" x2="570" y2="622" stroke="#b4b4b4" stroke-width="0.6"/>
<line x1="573" y1="611" x2="573" y2="622" stroke="#b4b4b4" stroke-width="0.6"/>
<rect x="305.3" y="622" width="12" height="23" fill="none" stroke="#b4b4b4" stroke-width="0.8"/>
<line x1="306" y1="625" x2="317" y2="625" stroke="#b4b4b4" stroke-width="0.6"/>
<line x1="306" y1="628" x2="317" y2="628" stroke="#b4b4b4" stroke-width="0.6"/>
<line x1="306" y1="631" x2="317" y2="631" stroke="#b4b4b4" stroke-width="0.6"/>
<line x1="306" y1="634" x2="317" y2="634" stroke="#b4b4b4" stroke-width="0.6"/>
<line x1="306" y1="637" x2="317" y2="637" stroke="#b4b4b4" stroke-width="0.6"/>
<line x1="306" y1="640" x2="317" y2="640" stroke="#b4b4b4" stroke-width="0.6"/>
<line x1="306" y1="643" x2="317" y2="643" stroke="#b4b4b4" stroke-width="0.6"/>
<path d="M306 648 A12 12 0 0 1 320 640 M585 625 A6 6 0 0 1 585 637 M585 640 A6 6 0 0 1 585 652" fill="none" stroke="#b4b4b4" stroke-width="0.8"/>
<rect x="310" y="674" width="8" height="5" fill="#aaa"/>
<path d="M594 610.5 L602.5 610.5 L602.5 618 Z M594 679 L602.5 679 L602.5 672 Z" fill="#999"/>
<rect x="352.4" y="634" width="7.20" height="15.5" fill="none" stroke="#b4b4b4" stroke-width="0.8"/>
<rect x="359.6" y="634" width="7.20" height="15.5" fill="none" stroke="#b4b4b4" stroke-width="0.8"/>
<rect x="366.8" y="634" width="7.20" height="15.5" fill="none" stroke="#b4b4b4" stroke-width="0.8"/>
<rect x="374.0" y="634" width="7.20" height="15.5" fill="none" stroke="#b4b4b4" stroke-width="0.8"/>
<rect x="381.2" y="634" width="7.20" height="15.5" fill="none" stroke="#b4b4b4" stroke-width="0.8"/>
<rect x="388.4" y="634" width="7.20" height="15.5" fill="none" stroke="#b4b4b4" stroke-width="0.8"/>
<rect x="395.6" y="634" width="7.20" height="15.5" fill="none" stroke="#b4b4b4" stroke-width="0.8"/>
<rect x="402.8" y="634" width="7.20" height="15.5" fill="none" stroke="#b4b4b4" stroke-width="0.8"/>
<rect x="410.0" y="634" width="7.20" height="15.5" fill="none" stroke="#b4b4b4" stroke-width="0.8"/>
<rect x="417.2" y="634" width="7.20" height="15.5" fill="none" stroke="#b4b4b4" stroke-width="0.8"/>
<rect x="424.4" y="634" width="7.20" height="15.5" fill="none" stroke="#b4b4b4" stroke-width="0.8"/>
<rect x="431.6" y="634" width="7.20" height="15.5" fill="none" stroke="#b4b4b4" stroke-width="0.8"/>
<rect x="438.8" y="634" width="7.20" height="15.5" fill="none" stroke="#b4b4b4" stroke-width="0.8"/>
<rect x="456.5" y="634" width="7.21" height="15.5" fill="none" stroke="#b4b4b4" stroke-width="0.8"/>
<rect x="463.7" y="634" width="7.21" height="15.5" fill="none" stroke="#b4b4b4" stroke-width="0.8"/>
<rect x="470.9" y="634" width="7.21" height="15.5" fill="none" stroke="#b4b4b4" stroke-width="0.8"/>
<rect x="478.1" y="634" width="7.21" height="15.5" fill="none" stroke="#b4b4b4" stroke-width="0.8"/>
<rect x="485.3" y="634" width="7.21" height="15.5" fill="none" stroke="#b4b4b4" stroke-width="0.8"/>
<rect x="492.5" y="634" width="7.21" height="15.5" fill="none" stroke="#b4b4b4" stroke-width="0.8"/>
<rect x="499.7" y="634" width="7.21" height="15.5" fill="none" stroke="#b4b4b4" stroke-width="0.8"/>
<rect x="507.0" y="634" width="7.21" height="15.5" fill="none" stroke="#b4b4b4" stroke-width="0.8"/>
<rect x="514.2" y="634" width="7.21" height="15.5" fill="none" stroke="#b4b4b4" stroke-width="0.8"/>
<rect x="521.4" y="634" width="7.21" height="15.5" fill="none" stroke="#b4b4b4" stroke-width="0.8"/>
<rect x="528.6" y="634" width="7.21" height="15.5" fill="none" stroke="#b4b4b4" stroke-width="0.8"/>
<rect x="535.8" y="634" width="7.21" height="15.5" fill="none" stroke="#b4b4b4" stroke-width="0.8"/>
<rect x="543.0" y="634" width="7.21" height="15.5" fill="none" stroke="#b4b4b4" stroke-width="0.8"/>
<rect x="372" y="669.3" width="9" height="9" fill="none" stroke="#b4b4b4" stroke-width="0.8"/>
<rect x="388" y="669.3" width="8" height="9" fill="none" stroke="#b4b4b4" stroke-width="0.8"/>
<rect x="409" y="669.3" width="11" height="9" fill="none" stroke="#b4b4b4" stroke-width="0.8"/>
<rect x="431" y="669.3" width="11" height="9" fill="none" stroke="#b4b4b4" stroke-width="0.8"/>
<rect x="453" y="669.3" width="13" height="9" fill="none" stroke="#b4b4b4" stroke-width="0.8"/>
<rect x="474" y="669.3" width="9" height="9" fill="none" stroke="#b4b4b4" stroke-width="0.8"/>
<rect x="489" y="669.3" width="8" height="9" fill="none" stroke="#b4b4b4" stroke-width="0.8"/>
<rect x="512" y="669.3" width="8" height="9" fill="none" stroke="#b4b4b4" stroke-width="0.8"/>
<rect x="528" y="669.3" width="11" height="9" fill="none" stroke="#b4b4b4" stroke-width="0.8"/>
<rect x="548" y="669.3" width="8" height="9" fill="none" stroke="#b4b4b4" stroke-width="0.8"/>
<rect x="560" y="669.3" width="14" height="9" fill="none" stroke="#b4b4b4" stroke-width="0.8"/>
<path d="M335 670 L340 680 M348 670 L343 680 M354 670 L359 680" fill="none" stroke="#b4b4b4" stroke-width="0.8"/>
<text x="456.5" y="664.8" font-size="7.2" text-anchor="middle" fill="#111" textLength="134" lengthAdjust="spacingAndGlyphs">ELECTRIC ROOM 4400-ER-0001 (SEE NOTE 3)</text>
<text x="789" y="656.4" font-size="6.6" text-anchor="middle" fill="#111" textLength="140" lengthAdjust="spacingAndGlyphs">DISTRIBUTION TRANSFORMERS  (SEE NOTE 3)</text>
<rect x="704" y="661.6" width="162.5" height="49.6" fill="none" stroke="#b8b8b8" stroke-width="0.8"/>
<rect x="698" y="659.8" width="13.5" height="13" fill="#fff" stroke="#b8b8b8" stroke-width="0.8"/>
<rect x="701" y="662.8" width="7.5" height="7" fill="none" stroke="#b8b8b8" stroke-width="0.8"/>
<rect x="698" y="701" width="13.5" height="13" fill="#fff" stroke="#b8b8b8" stroke-width="0.8"/>
<rect x="701" y="704" width="7.5" height="7" fill="none" stroke="#b8b8b8" stroke-width="0.8"/>
<line x1="704.7" y1="666" x2="704.7" y2="708" stroke="#aaa" stroke-width="1.6"/>
<line x1="708" y1="661" x2="714" y2="653" stroke="#b8b8b8" stroke-width="0.6"/>
<rect x="751.5" y="659.8" width="13.5" height="13" fill="#fff" stroke="#b8b8b8" stroke-width="0.8"/>
<rect x="754.5" y="662.8" width="7.5" height="7" fill="none" stroke="#b8b8b8" stroke-width="0.8"/>
<rect x="751.5" y="701" width="13.5" height="13" fill="#fff" stroke="#b8b8b8" stroke-width="0.8"/>
<rect x="754.5" y="704" width="7.5" height="7" fill="none" stroke="#b8b8b8" stroke-width="0.8"/>
<line x1="758.2" y1="666" x2="758.2" y2="708" stroke="#aaa" stroke-width="1.6"/>
<line x1="761.5" y1="661" x2="767.5" y2="653" stroke="#b8b8b8" stroke-width="0.6"/>
<rect x="805.3" y="659.8" width="13.5" height="13" fill="#fff" stroke="#b8b8b8" stroke-width="0.8"/>
<rect x="808.3" y="662.8" width="7.5" height="7" fill="none" stroke="#b8b8b8" stroke-width="0.8"/>
<rect x="805.3" y="701" width="13.5" height="13" fill="#fff" stroke="#b8b8b8" stroke-width="0.8"/>
<rect x="808.3" y="704" width="7.5" height="7" fill="none" stroke="#b8b8b8" stroke-width="0.8"/>
<line x1="812.0" y1="666" x2="812.0" y2="708" stroke="#aaa" stroke-width="1.6"/>
<line x1="815.3" y1="661" x2="821.3" y2="653" stroke="#b8b8b8" stroke-width="0.6"/>
<rect x="716.6" y="680.4" width="29.0" height="25.700000000000045" fill="none" stroke="#b8b8b8" stroke-width="0.8"/>
<rect x="719.6" y="683.4" width="23.0" height="19.700000000000045" fill="none" stroke="#b8b8b8" stroke-width="0.8"/>
<rect x="722.6" y="686.4" width="17.0" height="13.700000000000045" fill="none" stroke="#b8b8b8" stroke-width="0.8"/>
<path d="M726.1 687.25 L726.1 698.25 L736.1 698.25 L736.1 687.25" fill="none" stroke="#b8b8b8" stroke-width="0.8"/>
<rect x="729.1" y="688.25" width="4" height="8" fill="#999" opacity="0.6"/>
<rect x="771.1" y="680.4" width="28.299999999999955" height="25.700000000000045" fill="none" stroke="#b8b8b8" stroke-width="0.8"/>
<rect x="774.1" y="683.4" width="22.299999999999955" height="19.700000000000045" fill="none" stroke="#b8b8b8" stroke-width="0.8"/>
<rect x="777.1" y="686.4" width="16.299999999999955" height="13.700000000000045" fill="none" stroke="#b8b8b8" stroke-width="0.8"/>
<path d="M780.25 687.25 L780.25 698.25 L790.25 698.25 L790.25 687.25" fill="none" stroke="#b8b8b8" stroke-width="0.8"/>
<rect x="783.25" y="688.25" width="4" height="8" fill="#999" opacity="0.6"/>
<rect x="822.5" y="679" width="33.0" height="30.200000000000045" fill="none" stroke="#b8b8b8" stroke-width="0.8"/>
<rect x="825.5" y="682" width="27.0" height="24.200000000000045" fill="none" stroke="#b8b8b8" stroke-width="0.8"/>
<rect x="828.5" y="685" width="21.0" height="18.200000000000045" fill="none" stroke="#b8b8b8" stroke-width="0.8"/>
<path d="M834.0 688.1 L834.0 699.1 L844.0 699.1 L844.0 688.1" fill="none" stroke="#b8b8b8" stroke-width="0.8"/>
<rect x="837.0" y="689.1" width="4" height="8" fill="#999" opacity="0.6"/>
<rect x="117.8" y="533.2" width="64.8" height="74.7" fill="none" stroke="#555" stroke-width="0.8"/>
<line x1="117.8" y1="558.2" x2="148" y2="558.2" stroke="#c6c6c6" stroke-width="0.7"/><line x1="117.8" y1="584" x2="148" y2="584" stroke="#c6c6c6" stroke-width="0.7"/>
<g transform="translate(161.3 573.6) rotate(-90)"><text x="0" y="2.52" font-size="7.2" text-anchor="middle" fill="#111" textLength="26" lengthAdjust="spacingAndGlyphs">Parking</text></g>
<g transform="translate(169.8 573.6) rotate(-90)"><text x="0" y="2.52" font-size="7.2" text-anchor="middle" fill="#111" textLength="44" lengthAdjust="spacingAndGlyphs">Light vehicles</text></g>
<path d="M111.2 612.3 L120.8 604 L123.7 607.9" fill="none" stroke="#26354a" stroke-width="1.5"/>
<rect x="123.4" y="609.6" width="11.6" height="2.9" fill="#26354a"/>
<path d="M128 609 Q129 604 136 604.5 L134.5 609.5 M154.3 609 Q156 604 163.2 604.6 L162 609.5" fill="none" stroke="#26354a" stroke-width="0.7"/>
<path d="M136.3 614.9 L149.8 607.8 L163.9 614.3" fill="none" stroke="#26354a" stroke-width="1.5"/>
<rect x="111.2" y="612.3" width="78.4" height="64.3" fill="none" stroke="#26354a" stroke-width="2"/>
<rect x="136.3" y="617.5" width="8.3" height="59" fill="#26354a"/>
<rect x="156.8" y="632.3" width="7.7" height="44.3" fill="#26354a"/>
<path d="M144.6 617.5 L150 617.5 L150 632.3 L156.8 632.3 M163.9 614.3 L164.5 632.3" fill="none" stroke="#26354a" stroke-width="1"/>
<rect x="149" y="619" width="2" height="1.2" fill="#26354a"/>
<line x1="164.5" y1="612.3" x2="164.5" y2="676.6" stroke="#26354a" stroke-width="1.2"/>
<rect x="113.8" y="621" width="5.5" height="10" fill="none" stroke="#26354a" stroke-width="0.9"/>
<rect x="119.8" y="623" width="4.5" height="5" fill="none" stroke="#26354a" stroke-width="0.8"/>
<rect x="113.8" y="638" width="5.5" height="10" fill="none" stroke="#26354a" stroke-width="0.9"/>
<rect x="119.8" y="640" width="4.5" height="5" fill="none" stroke="#26354a" stroke-width="0.8"/>
<rect x="113.8" y="654" width="5.5" height="10" fill="none" stroke="#26354a" stroke-width="0.9"/>
<rect x="119.8" y="656" width="4.5" height="5" fill="none" stroke="#26354a" stroke-width="0.8"/>
<path d="M189.6 639.3 A8 9 0 0 1 197.5 649 L189.6 649" fill="none" stroke="#26354a" stroke-width="0.7"/>
<rect x="180.6" y="613.8" width="6.4" height="6" fill="none" stroke="#26354a" stroke-width="0.8"/><rect x="180.6" y="668.9" width="6.4" height="5.5" fill="none" stroke="#26354a" stroke-width="0.8"/>
<path d="M167 618 L167 624 L171 624 M172 618 L178 618 L178 636 M172 660 L178 660 L178 675" fill="none" stroke="#26354a" stroke-width="0.7"/>
<rect x="127" y="677" width="7" height="5" fill="none" stroke="#888" stroke-width="0.6"/><rect x="146" y="677" width="7" height="4" fill="none" stroke="#888" stroke-width="0.6"/><rect x="175" y="677" width="7" height="5.5" fill="none" stroke="#888" stroke-width="0.6"/>
<rect x="126" y="669" width="6" height="7" fill="none" stroke="#26354a" stroke-width="0.6"/><rect x="146" y="669" width="6" height="7" fill="none" stroke="#26354a" stroke-width="0.6"/>
<g transform="translate(132.4 647.7) rotate(-90)"><text x="0" y="2.59" font-size="7.4" text-anchor="middle" fill="#111" textLength="41" lengthAdjust="spacingAndGlyphs">Control Room</text></g>
<g transform="translate(148.7 645) rotate(-90)"><text x="0" y="1.82" font-size="5.2" text-anchor="middle" fill="#111" textLength="24" lengthAdjust="spacingAndGlyphs">Safety Spare</text></g>
<g transform="translate(153.3 645) rotate(-90)"><text x="0" y="1.82" font-size="5.2" text-anchor="middle" fill="#111" textLength="18" lengthAdjust="spacingAndGlyphs">Container</text></g>
<g transform="translate(174.2 645.8) rotate(90)"><text x="0" y="2.87" font-size="8.2" text-anchor="middle" fill="#111" textLength="50" lengthAdjust="spacingAndGlyphs">2-MAN OFFICE</text></g>
<text x="96.5" y="665.5" font-size="4.8" text-anchor="middle" fill="#111" textLength="10" lengthAdjust="spacingAndGlyphs">200A</text>
<text x="96" y="671" font-size="4.8" text-anchor="middle" fill="#111" textLength="15" lengthAdjust="spacingAndGlyphs">Facilities</text>
<text x="96.5" y="676.5" font-size="4.8" text-anchor="middle" fill="#111" textLength="5" lengthAdjust="spacingAndGlyphs">DB</text>
<path d="M95 679 L103 679 M99 679 L99 686.5 M95 686.5 L103 686.5" stroke="#000" stroke-width="1.4" fill="none"/>
<rect x="213.6" y="612.3" width="27" height="64.9" fill="none" stroke="#26354a" stroke-width="2"/>
<path d="M213.6 648.5 L205 648.5 A8 8 0 0 1 213.6 640.5 M240.6 640 L245.5 640 A6 6 0 0 0 240.6 634" fill="none" stroke="#26354a" stroke-width="0.8"/>
<path d="M215.5 628 L222 628 L222 636 L215.5 636" fill="none" stroke="#26354a" stroke-width="0.8"/>
<rect x="217.5" y="641" width="5" height="5.5" fill="none" stroke="#26354a" stroke-width="0.7"/>
<rect x="224.5" y="641" width="5" height="5.5" fill="none" stroke="#26354a" stroke-width="0.7"/>
<rect x="231.5" y="641" width="5" height="5.5" fill="none" stroke="#26354a" stroke-width="0.7"/>
<rect x="217.5" y="649" width="5" height="5.5" fill="none" stroke="#26354a" stroke-width="0.7"/>
<rect x="224.5" y="649" width="5" height="5.5" fill="none" stroke="#26354a" stroke-width="0.7"/>
<rect x="231.5" y="649" width="5" height="5.5" fill="none" stroke="#26354a" stroke-width="0.7"/>
<rect x="217.5" y="657" width="5" height="5.5" fill="none" stroke="#26354a" stroke-width="0.7"/>
<rect x="224.5" y="657" width="5" height="5.5" fill="none" stroke="#26354a" stroke-width="0.7"/>
<rect x="231.5" y="657" width="5" height="5.5" fill="none" stroke="#26354a" stroke-width="0.7"/>
<rect x="217.5" y="665" width="5" height="5.5" fill="none" stroke="#26354a" stroke-width="0.7"/>
<rect x="224.5" y="665" width="5" height="5.5" fill="none" stroke="#26354a" stroke-width="0.7"/>
<rect x="231.5" y="665" width="5" height="5.5" fill="none" stroke="#26354a" stroke-width="0.7"/>
<rect x="227" y="645" width="3" height="20" fill="none" stroke="#26354a" stroke-width="0.6"/>
<rect x="216.5" y="614.5" width="4.5" height="4.5" fill="none" stroke="#26354a" stroke-width="0.7"/>
<rect x="222.5" y="614.5" width="4.5" height="4.5" fill="none" stroke="#26354a" stroke-width="0.7"/>
<rect x="228.5" y="614.5" width="4.5" height="4.5" fill="none" stroke="#26354a" stroke-width="0.7"/>
<rect x="215" y="620" width="5" height="5" fill="none" stroke="#26354a" stroke-width="0.7"/><rect x="234" y="620" width="5" height="14" fill="none" stroke="#26354a" stroke-width="0.7"/>
<line x1="234" y1="623" x2="239" y2="623" stroke="#26354a" stroke-width="0.7"/>
<line x1="234" y1="626.5" x2="239" y2="626.5" stroke="#26354a" stroke-width="0.7"/>
<line x1="234" y1="630" x2="239" y2="630" stroke="#26354a" stroke-width="0.7"/>
<rect x="224" y="677" width="7" height="5" fill="none" stroke="#26354a" stroke-width="0.7"/>
<g transform="translate(227.5 645) rotate(90)"><text x="0" y="1.75" font-size="5" text-anchor="middle" fill="#111" textLength="30" lengthAdjust="spacingAndGlyphs">Kitchen/Dining</text></g>
<rect x="258.6" y="612.3" width="26.4" height="64.9" fill="none" stroke="#26354a" stroke-width="2"/>
<rect x="267" y="604" width="10" height="8.3" fill="#26354a"/>
<path d="M268 604 A6 6 0 0 1 276 599" fill="none" stroke="#26354a" stroke-width="0.7"/>
<line x1="258.6" y1="629.5" x2="285" y2="629.5" stroke="#26354a" stroke-width="1.6"/>
<path d="M262 615 L262 627 M281.5 615 L281.5 627 M262 621 Q268 615 272 621 Q276 627 281.5 621" fill="none" stroke="#26354a" stroke-width="0.8"/>
<circle cx="272" cy="620.5" r="0.9" fill="#26354a"/>
<rect x="256" y="647" width="3.5" height="9" fill="#26354a"/><path d="M256 656 A7 7 0 0 1 251 648" fill="none" stroke="#26354a" stroke-width="0.7"/>
<rect x="276" y="632" width="7" height="6" fill="none" stroke="#26354a" stroke-width="0.7"/><circle cx="279.5" cy="635" r="1.6" fill="none" stroke="#26354a" stroke-width="0.7"/>
<rect x="276" y="640" width="7" height="6" fill="none" stroke="#26354a" stroke-width="0.7"/><circle cx="279.5" cy="643" r="1.6" fill="none" stroke="#26354a" stroke-width="0.7"/>
<rect x="276" y="648" width="7" height="6" fill="none" stroke="#26354a" stroke-width="0.7"/><circle cx="279.5" cy="651" r="1.6" fill="none" stroke="#26354a" stroke-width="0.7"/>
<rect x="274" y="656" width="9" height="8" fill="none" stroke="#26354a" stroke-width="0.8"/><circle cx="278.5" cy="660" r="1" fill="#26354a"/>
<circle cx="263" cy="664" r="2" fill="none" stroke="#26354a" stroke-width="0.8"/><circle cx="263" cy="671.5" r="2" fill="none" stroke="#26354a" stroke-width="0.8"/>
<path d="M259 660 L270 660 L270 677 M270 667 L276 667 L276 677 M280 667 L283 667 L283 677" fill="none" stroke="#26354a" stroke-width="0.8"/>
<path d="M264 640 L268 634 M264 648 L268 642" fill="none" stroke="#26354a" stroke-width="0.8"/>
<rect x="272" y="677" width="8" height="4" fill="none" stroke="#888" stroke-width="0.6"/>
<g transform="translate(270 650) rotate(90)"><text x="0" y="1.75" font-size="5" text-anchor="middle" fill="#111" textLength="20" lengthAdjust="spacingAndGlyphs">Ablutions</text></g>
<line x1="68.7" y1="523" x2="68.7" y2="691" stroke="#ff0000" stroke-width="4.0"/>
<line x1="68.7" y1="523" x2="68.7" y2="691" stroke="#fff" stroke-width="1.80" stroke-dasharray="1.6 1.7"/>
<line x1="72.1" y1="526" x2="72.1" y2="687" stroke="#00ee00" stroke-width="4.0"/>
<line x1="72.1" y1="526" x2="72.1" y2="687" stroke="#fff" stroke-width="1.80" stroke-dasharray="1.6 1.7"/>
<path d="M68.7 689 Q68.7 693.3 73 693.3" fill="none" stroke="#ff0000" stroke-width="4"/>
<path d="M72.1 686 Q72.1 689.6 76 689.6" fill="none" stroke="#00ee00" stroke-width="3.6"/>
<line x1="72" y1="693.3" x2="378" y2="693.3" stroke="#ff0000" stroke-width="4.0"/>
<line x1="72" y1="693.3" x2="378" y2="693.3" stroke="#fff" stroke-width="1.80" stroke-dasharray="1.6 1.7"/>
<line x1="75" y1="689.6" x2="356" y2="689.6" stroke="#00ee00" stroke-width="3.6"/>
<line x1="75" y1="689.6" x2="356" y2="689.6" stroke="#fff" stroke-width="1.62" stroke-dasharray="1.6 1.7"/>
<path d="M378 693.3 Q381.9 693.3 381.9 689" fill="none" stroke="#ff0000" stroke-width="4"/>
<path d="M356 689.6 Q359.5 689.6 359.5 686" fill="none" stroke="#00ee00" stroke-width="3.6"/>
<line x1="381.9" y1="636" x2="381.9" y2="689" stroke="#ff0000" stroke-width="4.0"/>
<line x1="381.9" y1="636" x2="381.9" y2="689" stroke="#fff" stroke-width="1.80" stroke-dasharray="1.6 1.7"/>
<line x1="359.5" y1="637.6" x2="359.5" y2="686" stroke="#00ee00" stroke-width="3.6"/>
<line x1="359.5" y1="637.6" x2="359.5" y2="686" stroke="#fff" stroke-width="1.62" stroke-dasharray="1.6 1.7"/>
<line x1="107.5" y1="613.6" x2="107.5" y2="688" stroke="#00ee00" stroke-width="3.6"/>
<line x1="107.5" y1="613.6" x2="107.5" y2="688" stroke="#fff" stroke-width="1.62" stroke-dasharray="1.6 1.7"/>
<rect x="0" y="0" width="1000" height="4" fill="#fff"/>
<rect x="981.5" y="0" width="18.5" height="778" fill="#fff"/>
</svg></body></html>
